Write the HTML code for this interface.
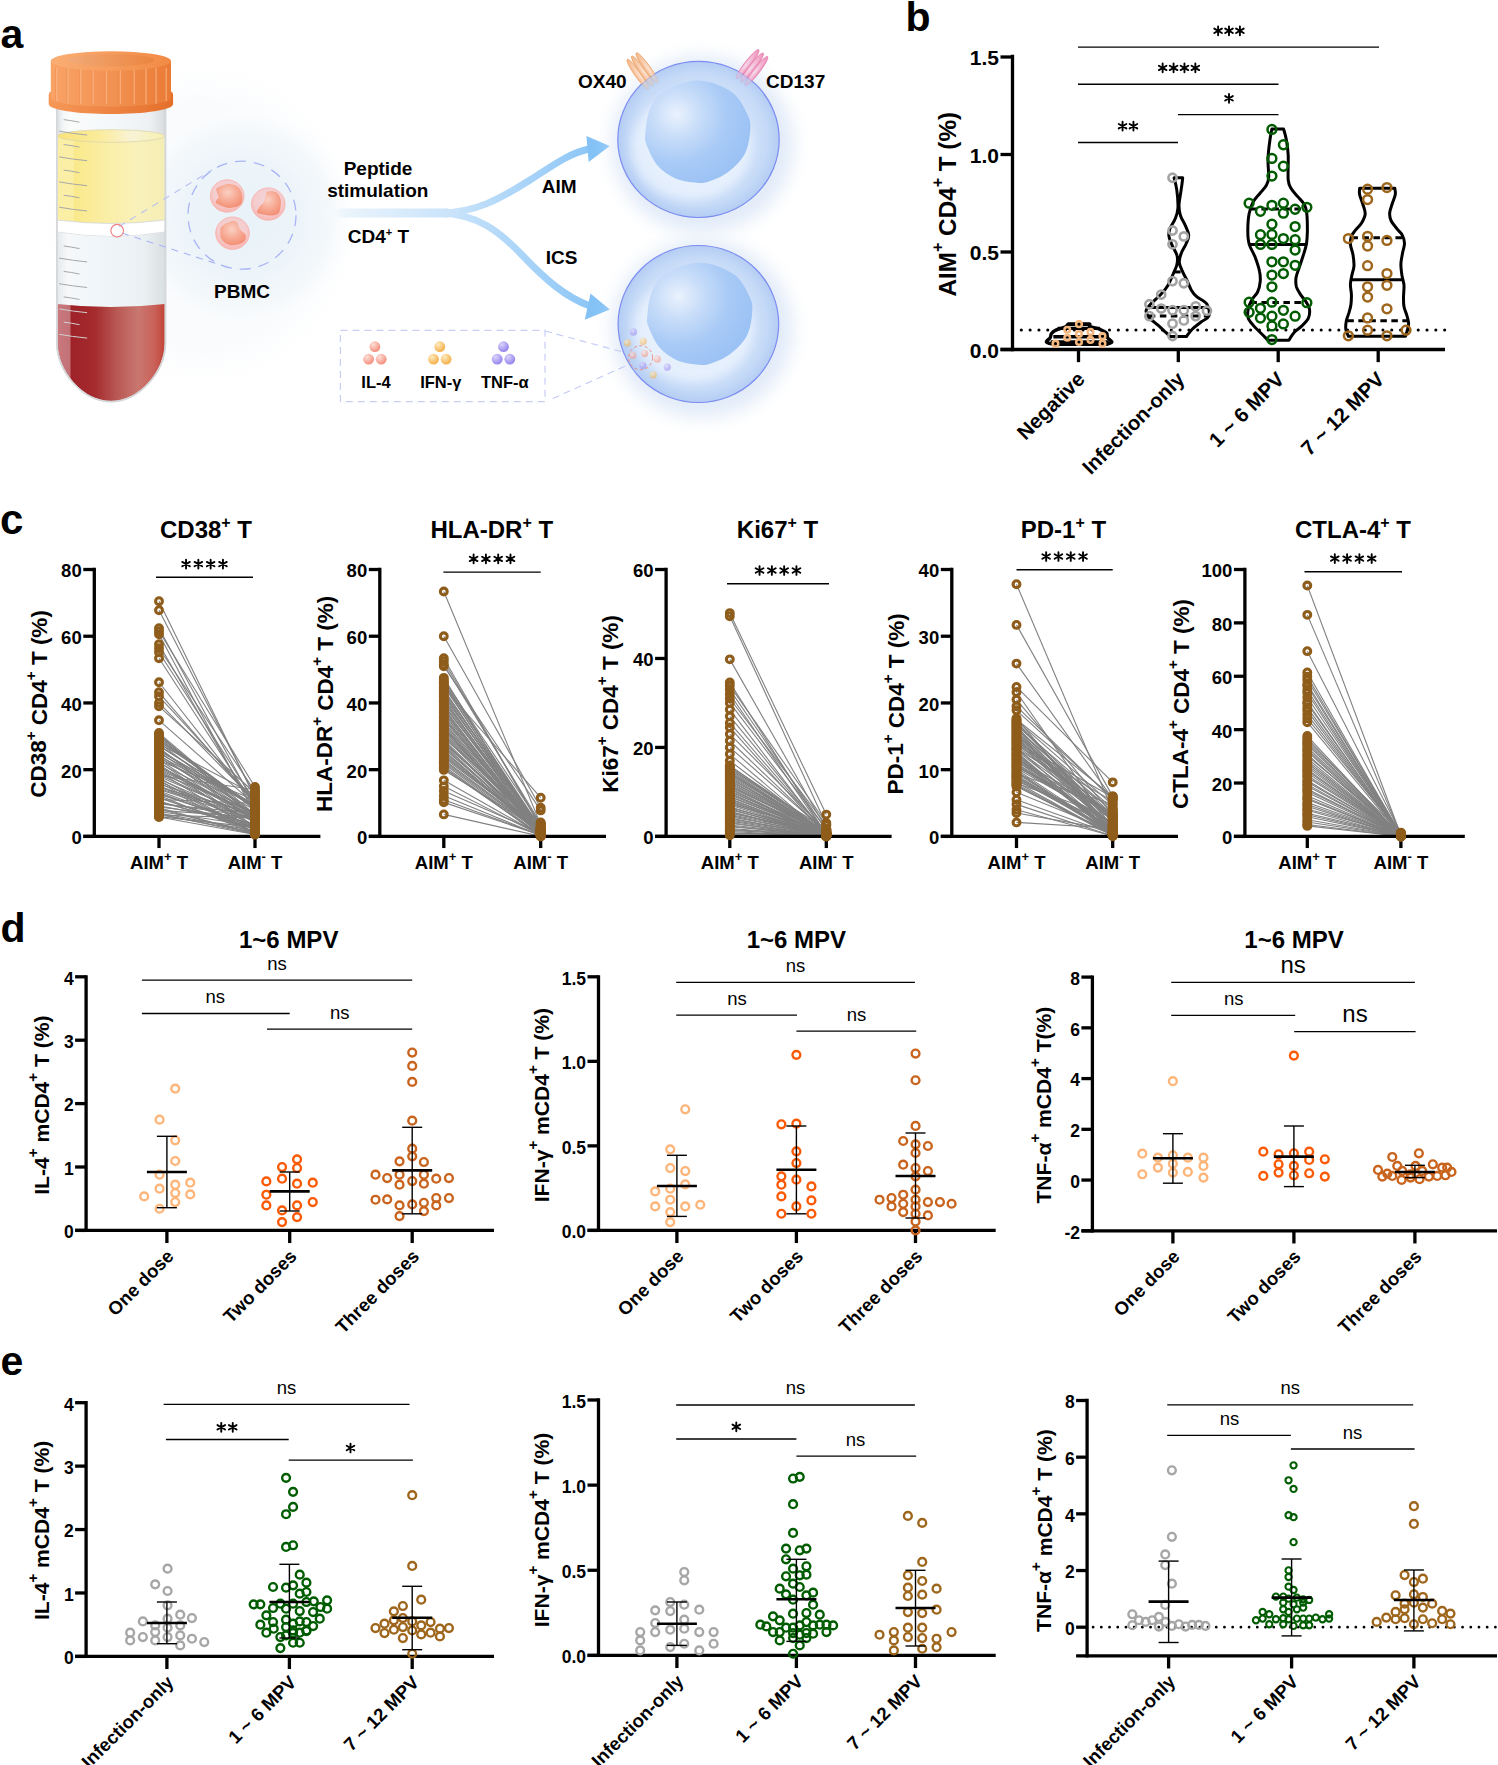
<!DOCTYPE html>
<html><head><meta charset="utf-8"><style>
html,body{margin:0;padding:0;background:#fff;}
svg{display:block;font-family:"Liberation Sans", sans-serif;}
</style></head><body>
<svg width="1498" height="1765" viewBox="0 0 1498 1765">
<rect width="1498" height="1765" fill="#fff"/>
<defs>
<radialGradient id="glowA" cx="0.5" cy="0.5" r="0.5">
 <stop offset="0" stop-color="#E8F2F8"/><stop offset="0.45" stop-color="#ECF4F9"/><stop offset="0.75" stop-color="#F4F8FB"/><stop offset="1" stop-color="#FFFFFF" stop-opacity="0"/>
</radialGradient>
<radialGradient id="glowBig" cx="0.5" cy="0.5" r="0.5">
 <stop offset="0" stop-color="#F1F6FB"/><stop offset="0.7" stop-color="#F6F9FC"/><stop offset="1" stop-color="#FFFFFF" stop-opacity="0"/>
</radialGradient>
<linearGradient id="glass" x1="0" x2="1" y1="0" y2="0">
 <stop offset="0" stop-color="#DADDE0"/><stop offset="0.06" stop-color="#F3F5F6"/><stop offset="0.12" stop-color="#FAFBFB"/><stop offset="0.5" stop-color="#F4F8FA"/><stop offset="0.85" stop-color="#EEF1F3"/><stop offset="0.97" stop-color="#DDE0E3"/><stop offset="1" stop-color="#CFD2D5"/>
</linearGradient>
<linearGradient id="glassMid" x1="0" x2="1" y1="0" y2="0">
 <stop offset="0" stop-color="#E6E9EB"/><stop offset="0.1" stop-color="#F6F8F9"/><stop offset="0.45" stop-color="#EEF5F9"/><stop offset="0.8" stop-color="#EBF0F3"/><stop offset="1" stop-color="#DADFE2"/>
</linearGradient>
<linearGradient id="yellow" x1="0" x2="1" y1="0" y2="0">
 <stop offset="0" stop-color="#FBEFA6"/><stop offset="0.15" stop-color="#FBEFA6"/><stop offset="0.16" stop-color="#FAE98A"/><stop offset="0.45" stop-color="#FAEEA6"/><stop offset="0.75" stop-color="#F9F1BA"/><stop offset="1" stop-color="#F4EDB4"/>
</linearGradient>
<linearGradient id="yellowTop" x1="0" x2="1" y1="0" y2="0">
 <stop offset="0" stop-color="#F9E27A"/><stop offset="0.4" stop-color="#FAEC9C"/><stop offset="0.7" stop-color="#F8F3D6"/><stop offset="1" stop-color="#F6EFB0"/>
</linearGradient>
<linearGradient id="red" x1="0" x2="1" y1="0" y2="0">
 <stop offset="0" stop-color="#C9787C"/><stop offset="0.12" stop-color="#C27277"/><stop offset="0.13" stop-color="#9E2228"/><stop offset="0.35" stop-color="#A52B2E"/><stop offset="0.55" stop-color="#B85753"/><stop offset="0.75" stop-color="#C97770"/><stop offset="0.9" stop-color="#C9625A"/><stop offset="1" stop-color="#C24236"/>
</linearGradient>
<linearGradient id="capBody" x1="0" x2="1" y1="0" y2="0">
 <stop offset="0" stop-color="#F9A367"/><stop offset="0.5" stop-color="#F29253"/><stop offset="1" stop-color="#EA7B35"/>
</linearGradient>
<linearGradient id="capLip" x1="0" x2="1" y1="0" y2="0">
 <stop offset="0" stop-color="#F59857"/><stop offset="0.5" stop-color="#EE8443"/><stop offset="1" stop-color="#E46F2B"/>
</linearGradient>
<linearGradient id="capTop" x1="0" x2="1" y1="0" y2="0">
 <stop offset="0" stop-color="#FBAE74"/><stop offset="1" stop-color="#F18A44"/>
</linearGradient>
<linearGradient id="capIn" x1="0" x2="1" y1="0" y2="0">
 <stop offset="0" stop-color="#F2AA78"/><stop offset="1" stop-color="#EB853F"/>
</linearGradient>
<radialGradient id="pbCell" cx="0.5" cy="0.4" r="0.55">
 <stop offset="0" stop-color="#F2D6DC"/><stop offset="0.75" stop-color="#F5CCCD"/><stop offset="1" stop-color="#F7BAB7"/>
</radialGradient>
<radialGradient id="pbNuc" cx="0.45" cy="0.35" r="0.7">
 <stop offset="0" stop-color="#FAD0C3"/><stop offset="0.5" stop-color="#F7AC96"/><stop offset="1" stop-color="#F38C72"/>
</radialGradient>
<linearGradient id="stem" x1="0" x2="1" y1="0" y2="0">
 <stop offset="0" stop-color="#FFFFFF" stop-opacity="0"/><stop offset="0.25" stop-color="#E9F3FC"/><stop offset="1" stop-color="#C6E1FA"/>
</linearGradient>
<linearGradient id="branch" gradientUnits="userSpaceOnUse" x1="322" x2="610" y1="0" y2="0">
 <stop offset="0" stop-color="#FFFFFF" stop-opacity="0"/><stop offset="0.08" stop-color="#EAF4FC"/><stop offset="0.45" stop-color="#C9E3FA"/><stop offset="1" stop-color="#84C2F6"/>
</linearGradient>
<radialGradient id="cellFill" cx="0.5" cy="0.5" r="0.5">
 <stop offset="0" stop-color="#D8E7FA"/><stop offset="0.72" stop-color="#DCE9FA"/><stop offset="0.8" stop-color="#E5EFFC"/><stop offset="0.9" stop-color="#D3E3F8"/><stop offset="1" stop-color="#BCD3F5"/>
</radialGradient>
<radialGradient id="nucFill" cx="0.35" cy="0.3" r="0.75">
 <stop offset="0" stop-color="#E8F1FC"/><stop offset="0.35" stop-color="#C9DDF8"/><stop offset="0.7" stop-color="#A9CAF4"/><stop offset="1" stop-color="#A2C6F4"/>
</radialGradient>
<radialGradient id="cellGlow" cx="0.5" cy="0.5" r="0.5">
 <stop offset="0.8" stop-color="#C9DCF5"/><stop offset="1" stop-color="#FFFFFF" stop-opacity="0"/>
</radialGradient>
<radialGradient id="ballR" cx="0.35" cy="0.3" r="0.7"><stop offset="0" stop-color="#FDE0D8"/><stop offset="1" stop-color="#F4907E"/></radialGradient>
<radialGradient id="ballY" cx="0.35" cy="0.3" r="0.7"><stop offset="0" stop-color="#FDEBC0"/><stop offset="1" stop-color="#F5B04A"/></radialGradient>
<radialGradient id="ballP" cx="0.35" cy="0.3" r="0.7"><stop offset="0" stop-color="#DCD4FB"/><stop offset="1" stop-color="#9484EE"/></radialGradient>
<filter id="blur6" x="-30%" y="-30%" width="160%" height="160%"><feGaussianBlur stdDeviation="6"/></filter>
<filter id="blur2" x="-30%" y="-30%" width="160%" height="160%"><feGaussianBlur stdDeviation="1.5"/></filter>
</defs><ellipse cx="200" cy="225" rx="170" ry="175" fill="url(#glowBig)" opacity="0.6"/><ellipse cx="242" cy="218" rx="118" ry="118" fill="url(#glowA)"/><path d="M56.5,109 L165.8,109 L165.8,343 C165.8,371 140,402 111,402 C82,402 56.5,371 56.5,343 Z" fill="url(#glass)" stroke="#D3D6D9" stroke-width="1"/><clipPath id="tubeClip"><path d="M57.5,109 L164.8,109 L164.8,343 C164.8,371 139.5,401 111,401 C82.5,401 57.5,371 57.5,343 Z"/></clipPath><g clip-path="url(#tubeClip)"><path d="M57,136 L165,136 L165,220 Q111,227 57,220 Z" fill="url(#yellow)"/><ellipse cx="111" cy="136" rx="53.5" ry="6.3" fill="url(#yellowTop)" stroke="#DCD7B0" stroke-width="0.8"/><path d="M57,220 Q111,227 165,220 L165,232 Q111,241 57,232 Z" fill="#FFFFFF" stroke="#D3D6D8" stroke-width="0.8"/><path d="M57,232 Q111,241 165,232 L165,304 Q111,309 57,304 Z" fill="url(#glassMid)"/><path d="M57,304 Q111,310 165,304 L165,402 L57,402 Z" fill="url(#red)"/></g><path d="M57,110 L57,343 C57,371 82,401.5 111,401.5 C140,401.5 165.3,371 165.3,343 L165.3,110" fill="none" stroke="#D5D8DA" stroke-width="1.6"/><path d="M63.7,119.6 Q71,120.5 79.5,122.2" fill="none" stroke="#A8A8A8" stroke-width="1"/><path d="M59.2,131.2 Q72,133.5 87.1,135.0" fill="none" stroke="#A8A8A8" stroke-width="1"/><path d="M63.7,144.5 Q71,145.4 79.5,147.1" fill="none" stroke="#A8A8A8" stroke-width="1"/><path d="M59.2,156.9 Q72,159.2 87.1,160.7" fill="none" stroke="#A8A8A8" stroke-width="1"/><path d="M63.7,170.1 Q71,171.0 79.5,172.7" fill="none" stroke="#A8A8A8" stroke-width="1"/><path d="M59.2,181.9 Q72,184.2 87.1,185.7" fill="none" stroke="#A8A8A8" stroke-width="1"/><path d="M63.7,195.2 Q71,196.1 79.5,197.8" fill="none" stroke="#A8A8A8" stroke-width="1"/><path d="M59.2,207.2 Q72,209.5 87.1,211.0" fill="none" stroke="#A8A8A8" stroke-width="1"/><path d="M63.7,246.0 Q71,246.9 79.5,248.6" fill="none" stroke="#A8A8A8" stroke-width="1"/><path d="M59.2,258.1 Q72,260.4 87.1,261.9" fill="none" stroke="#A8A8A8" stroke-width="1"/><path d="M63.7,271.4 Q71,272.3 79.5,274.0" fill="none" stroke="#A8A8A8" stroke-width="1"/><path d="M59.2,283.7 Q72,286.0 87.1,287.5" fill="none" stroke="#A8A8A8" stroke-width="1"/><path d="M63.7,296.9 Q71,297.8 79.5,299.5" fill="none" stroke="#A8A8A8" stroke-width="1"/><path d="M59.2,308.9 Q72,311.2 87.1,312.7" fill="none" stroke="#D0D0D0" stroke-width="1"/><path d="M63.7,322.1 Q71,323.0 79.5,324.7" fill="none" stroke="#D0D0D0" stroke-width="1"/><path d="M59.2,334.3 Q72,336.6 87.1,338.1" fill="none" stroke="#D0D0D0" stroke-width="1"/><path d="M48.7,95 Q48.7,92 51,91.5 L171,91.5 Q173.1,92 173.1,95 L173.1,104 C173.1,110 145,114 111,114 C77,114 48.7,110 48.7,104 Z" fill="url(#capLip)"/><path d="M50.8,61 L171,61 L171,98 C171,103 145,106.5 111,106.5 C77,106.5 50.8,103 50.8,98 Z" fill="url(#capBody)"/><line x1="56.7" y1="68" x2="56.7" y2="101" stroke="#FBB483" stroke-width="1.3" opacity="0.85"/><line x1="55.6" y1="68" x2="55.6" y2="101" stroke="#E8823F" stroke-width="0.6" opacity="0.6"/><line x1="67.9" y1="68" x2="67.9" y2="104" stroke="#FBB483" stroke-width="1.3" opacity="0.85"/><line x1="66.8" y1="68" x2="66.8" y2="104" stroke="#E8823F" stroke-width="0.6" opacity="0.6"/><line x1="80.7" y1="68" x2="80.7" y2="104" stroke="#FBB483" stroke-width="1.3" opacity="0.85"/><line x1="79.6" y1="68" x2="79.6" y2="104" stroke="#E8823F" stroke-width="0.6" opacity="0.6"/><line x1="93" y1="68" x2="93" y2="104" stroke="#FBB483" stroke-width="1.3" opacity="0.85"/><line x1="91.9" y1="68" x2="91.9" y2="104" stroke="#E8823F" stroke-width="0.6" opacity="0.6"/><line x1="106.4" y1="68" x2="106.4" y2="104" stroke="#FBB483" stroke-width="1.3" opacity="0.85"/><line x1="105.3" y1="68" x2="105.3" y2="104" stroke="#E8823F" stroke-width="0.6" opacity="0.6"/><line x1="120.3" y1="68" x2="120.3" y2="104" stroke="#FBB483" stroke-width="1.3" opacity="0.85"/><line x1="119.2" y1="68" x2="119.2" y2="104" stroke="#E8823F" stroke-width="0.6" opacity="0.6"/><line x1="134.1" y1="68" x2="134.1" y2="104" stroke="#FBB483" stroke-width="1.3" opacity="0.85"/><line x1="133.0" y1="68" x2="133.0" y2="104" stroke="#E8823F" stroke-width="0.6" opacity="0.6"/><line x1="145.9" y1="68" x2="145.9" y2="104" stroke="#FBB483" stroke-width="1.3" opacity="0.85"/><line x1="144.8" y1="68" x2="144.8" y2="104" stroke="#E8823F" stroke-width="0.6" opacity="0.6"/><line x1="156" y1="68" x2="156" y2="104" stroke="#FBB483" stroke-width="1.3" opacity="0.85"/><line x1="154.9" y1="68" x2="154.9" y2="104" stroke="#E8823F" stroke-width="0.6" opacity="0.6"/><line x1="166.2" y1="68" x2="166.2" y2="101" stroke="#FBB483" stroke-width="1.3" opacity="0.85"/><line x1="165.1" y1="68" x2="165.1" y2="101" stroke="#E8823F" stroke-width="0.6" opacity="0.6"/><ellipse cx="110.9" cy="61" rx="60.1" ry="9.8" fill="url(#capTop)"/><ellipse cx="110.9" cy="60.2" rx="43.5" ry="6.2" fill="url(#capIn)"/><circle cx="242" cy="215.2" r="54" fill="none" stroke="#A9B4F6" stroke-width="1.3" stroke-dasharray="11 8"/><path d="M119,226.5 L212,170" fill="none" stroke="#B4BEF6" stroke-width="1.1" stroke-dasharray="7 6"/><path d="M122,233 L222,265.5" fill="none" stroke="#A9B4F6" stroke-width="1.1" stroke-dasharray="7 6"/><circle cx="117.2" cy="230.7" r="6.3" fill="none" stroke="#EE7D80" stroke-width="1.1"/><g transform="translate(227.2,196)"><ellipse rx="16.8" ry="16.2" fill="url(#pbCell)" stroke="#F6B4B0" stroke-width="0.9"/><path d="M-10.0,-8.0 C-8.0,-9.4 -2.0,-11.9 1.6,-11.9 C5.2,-11.9 9.6,-10.3 11.9,-8.0 C14.2,-5.7 15.0,-1.2 15.2,1.7 C15.3,4.5 15.1,7.4 12.8,9.1 C10.5,10.8 5.5,12.2 1.6,11.9 C-2.3,11.6 -8.5,8.7 -10.5,7.4 C-12.5,6.1 -10.9,5.0 -10.6,4.0 C-10.3,3.0 -8.7,2.8 -8.6,1.5 C-8.5,0.2 -10.0,-1.9 -10.2,-3.5 C-10.4,-5.1 -12.0,-6.6 -10.0,-8.0 Z" fill="url(#pbNuc)"/></g><g transform="translate(268.3,204.1)"><ellipse rx="16.8" ry="16.2" fill="url(#pbCell)" stroke="#F6B4B0" stroke-width="0.9"/><path d="M-0.9,-12.4 C0.8,-13.2 5.4,-13.2 7.6,-12.0 C9.8,-10.8 11.4,-7.8 12.2,-5.3 C13.0,-2.9 12.6,0.2 12.2,2.7 C11.8,5.2 11.6,8.0 9.9,9.5 C8.2,11.0 5.2,11.5 2.0,11.5 C-1.2,11.5 -7.2,10.2 -9.4,9.5 C-11.6,8.8 -11.2,8.3 -11.1,7.2 C-11.0,6.1 -9.9,4.3 -8.8,2.7 C-7.7,1.1 -5.3,-0.7 -4.3,-2.4 C-3.3,-4.1 -3.2,-5.8 -2.6,-7.5 C-2.0,-9.2 -2.6,-11.7 -0.9,-12.4 Z" fill="url(#pbNuc)"/></g><g transform="translate(232.5,233.2)"><ellipse rx="16.8" ry="16.2" fill="url(#pbCell)" stroke="#F6B4B0" stroke-width="0.9"/><path d="M-10.5,-7.1 C-8.5,-8.9 -2.9,-11.6 -0.3,-12.2 C2.3,-12.8 3.6,-11.6 4.8,-10.5 C5.9,-9.4 5.8,-6.8 6.6,-5.4 C7.4,-4.0 8.3,-3.2 9.4,-2.0 C10.5,-0.8 12.7,0.4 13.2,2.0 C13.7,3.6 13.3,6.1 12.2,7.6 C11.1,9.1 9.2,10.3 6.6,11.0 C3.9,11.7 -0.8,12.4 -3.7,11.6 C-6.6,10.8 -9.6,8.1 -11.0,5.9 C-12.4,3.7 -12.3,0.8 -12.2,-1.4 C-12.1,-3.6 -12.5,-5.3 -10.5,-7.1 Z" fill="url(#pbNuc)"/></g><text x="242" y="297.7" font-size="19" font-weight="bold" text-anchor="middle" fill="#000" >PBMC</text><rect x="322" y="208.5" width="126" height="9" fill="url(#branch)"/><path d="M440,213 C475,213 500,199 530,180 C555,164 570,153 589,149" fill="none" stroke="url(#branch)" stroke-width="7" stroke-linecap="butt"/><path d="M440,213 C478,214 500,232 522,255 C545,279 565,297 590,306" fill="none" stroke="url(#branch)" stroke-width="7" stroke-linecap="butt"/><path d="M446,208.5 Q456,210.5 464,207.5 L464,218.5 Q456,215.5 446,217.5 Z" fill="url(#branch)"/><polygon points="586.4,135.9 609.8,146.1 588.7,162" fill="#84C2F6"/><polygon points="590.5,293.6 609.8,309.5 584.8,319.7" fill="#84C2F6"/><text x="378" y="175.4" font-size="19" font-weight="bold" text-anchor="middle" fill="#000" >Peptide</text><text x="377.8" y="197.2" font-size="19" font-weight="bold" text-anchor="middle" fill="#000" >stimulation</text><text x="347.7" y="242.6" font-size="19" font-weight="bold">CD4<tspan dy="-7" font-size="11">+</tspan><tspan dy="7"> T</tspan></text><text x="541.7" y="193.1" font-size="19" font-weight="bold" text-anchor="start" fill="#000" >AIM</text><text x="545.8" y="264.1" font-size="19" font-weight="bold" text-anchor="start" fill="#000" >ICS</text><radialGradient id="cellFill2" cx="0.5" cy="0.5" r="0.5">
 <stop offset="0" stop-color="#D6E6FA"/><stop offset="0.62" stop-color="#D3E3FA"/><stop offset="0.85" stop-color="#C5DAF7"/><stop offset="1" stop-color="#B4CDF4"/>
</radialGradient>
<radialGradient id="nucFill2" cx="0.3" cy="0.33" r="0.8">
 <stop offset="0" stop-color="#EAF2FD"/><stop offset="0.28" stop-color="#C8DDF9"/><stop offset="0.6" stop-color="#A8CAF6"/><stop offset="1" stop-color="#98C0F4"/>
</radialGradient>
<filter id="blur9" x="-40%" y="-40%" width="180%" height="180%"><feGaussianBlur stdDeviation="9"/></filter>
<filter id="blur5" x="-40%" y="-40%" width="180%" height="180%"><feGaussianBlur stdDeviation="5"/></filter><ellipse cx="702.5" cy="144.4" rx="90.7" ry="88.1" fill="#DCE7F7" filter="url(#blur9)" opacity="0.85"/><clipPath id="cc1"><ellipse cx="698.5" cy="139.4" rx="80.7" ry="78.1"/></clipPath><ellipse cx="698.5" cy="139.4" rx="80.7" ry="78.1" fill="url(#cellFill2)"/><g clip-path="url(#cc1)"><ellipse cx="691.5" cy="146.4" rx="60" ry="54" fill="#EEF5FE" filter="url(#blur5)" opacity="0.7"/></g><ellipse cx="698.5" cy="139.4" rx="80.7" ry="78.1" fill="none" stroke="#7C8CF1" stroke-width="1.2"/><path d="M697.5,80.6 C709.0,80.5 723.2,86.3 731.5,91.9 C739.8,97.5 744.4,107.9 747.5,114.4 C750.6,120.9 750.7,124.0 750.2,130.7 C749.7,137.4 748.3,147.5 744.5,154.4 C740.7,161.3 733.5,167.9 727.5,172.4 C721.5,176.9 713.9,179.7 708.8,181.4 C703.7,183.1 702.3,183.2 696.8,182.7 C691.2,182.2 682.0,181.3 675.5,178.4 C669.0,175.5 662.3,171.1 657.5,165.4 C652.7,159.7 648.5,149.8 646.5,144.4 C644.5,139.1 644.9,139.0 645.4,133.3 C645.9,127.6 646.6,117.2 649.5,110.4 C652.4,103.6 654.5,97.4 662.5,92.4 C670.5,87.4 686.0,80.7 697.5,80.6 Z" fill="url(#nucFill2)"/><ellipse cx="702.4" cy="329" rx="90.3" ry="88.5" fill="#DCE7F7" filter="url(#blur9)" opacity="0.85"/><clipPath id="cc2"><ellipse cx="698.4" cy="324" rx="80.3" ry="78.5"/></clipPath><ellipse cx="698.4" cy="324" rx="80.3" ry="78.5" fill="url(#cellFill2)"/><g clip-path="url(#cc2)"><ellipse cx="693.5" cy="328.5" rx="60" ry="54" fill="#EEF5FE" filter="url(#blur5)" opacity="0.7"/></g><ellipse cx="698.4" cy="324" rx="80.3" ry="78.5" fill="none" stroke="#7C8CF1" stroke-width="1.2"/><path d="M699.5,262.7 C711.0,262.6 725.2,268.4 733.5,274.0 C741.8,279.6 746.4,290.0 749.5,296.5 C752.6,303.0 752.7,306.1 752.2,312.8 C751.7,319.5 750.3,329.6 746.5,336.5 C742.7,343.4 735.5,350.0 729.5,354.5 C723.5,359.0 715.9,361.8 710.8,363.5 C705.7,365.2 704.3,365.3 698.8,364.8 C693.2,364.3 684.0,363.4 677.5,360.5 C671.0,357.6 664.3,353.2 659.5,347.5 C654.7,341.8 650.5,331.9 648.5,326.5 C646.5,321.1 646.9,321.1 647.4,315.4 C647.9,309.7 648.6,299.3 651.5,292.5 C654.4,285.7 656.5,279.5 664.5,274.5 C672.5,269.5 688.0,262.8 699.5,262.7 Z" fill="url(#nucFill2)"/><radialGradient id="recO" cx="0.6" cy="0.55" r="0.6"><stop offset="0" stop-color="#FBE3D3"/><stop offset="1" stop-color="#F5B483"/></radialGradient>
<radialGradient id="recP" cx="0.4" cy="0.55" r="0.6"><stop offset="0" stop-color="#F6DDEA"/><stop offset="1" stop-color="#F08DBB"/></radialGradient>
<mask id="outCell1"><rect x="560" y="30" width="260" height="120" fill="#fff"/><ellipse cx="698.5" cy="139.4" rx="80.7" ry="78.1" fill="#000"/></mask>
<clipPath id="inCell1"><ellipse cx="698.5" cy="139.4" rx="80.7" ry="78.1"/></clipPath><g clip-path="url(#inCell1)" opacity="0.35"><g transform="translate(642.4,71) rotate(-35.6)"><ellipse cx="-5.6" cy="0" rx="3.1" ry="18.3" fill="url(#recO)" stroke="#E7A26C" stroke-width="0.7"/><ellipse cx="0" cy="0" rx="3.1" ry="18.3" fill="url(#recO)" stroke="#E7A26C" stroke-width="0.7"/><ellipse cx="5.6" cy="0" rx="3.1" ry="18.3" fill="url(#recO)" stroke="#E7A26C" stroke-width="0.7"/></g></g><g mask="url(#outCell1)"><g transform="translate(642.4,71) rotate(-35.6)"><ellipse cx="-5.6" cy="0" rx="3.1" ry="18.3" fill="url(#recO)" stroke="#E7A26C" stroke-width="0.7"/><ellipse cx="0" cy="0" rx="3.1" ry="18.3" fill="url(#recO)" stroke="#E7A26C" stroke-width="0.7"/><ellipse cx="5.6" cy="0" rx="3.1" ry="18.3" fill="url(#recO)" stroke="#E7A26C" stroke-width="0.7"/></g></g><g clip-path="url(#inCell1)" opacity="0.35"><g transform="translate(752,67.6) rotate(37.9)"><ellipse cx="-5.6" cy="0" rx="3.1" ry="18.3" fill="url(#recP)" stroke="#E27BAA" stroke-width="0.7"/><ellipse cx="0" cy="0" rx="3.1" ry="18.3" fill="url(#recP)" stroke="#E27BAA" stroke-width="0.7"/><ellipse cx="5.6" cy="0" rx="3.1" ry="18.3" fill="url(#recP)" stroke="#E27BAA" stroke-width="0.7"/></g></g><g mask="url(#outCell1)"><g transform="translate(752,67.6) rotate(37.9)"><ellipse cx="-5.6" cy="0" rx="3.1" ry="18.3" fill="url(#recP)" stroke="#E27BAA" stroke-width="0.7"/><ellipse cx="0" cy="0" rx="3.1" ry="18.3" fill="url(#recP)" stroke="#E27BAA" stroke-width="0.7"/><ellipse cx="5.6" cy="0" rx="3.1" ry="18.3" fill="url(#recP)" stroke="#E27BAA" stroke-width="0.7"/></g></g><text x="578.1" y="88.3" font-size="19" font-weight="bold" text-anchor="start" fill="#000" >OX40</text><text x="766.1" y="88.3" font-size="19" font-weight="bold" text-anchor="start" fill="#000" >CD137</text><path d="M545,331 L626.5,353" stroke="#C3CAF5" stroke-width="1.1" stroke-dasharray="7 5" fill="none"/><path d="M552.8,398.5 L626.5,365.5" stroke="#C3CAF5" stroke-width="1.1" stroke-dasharray="7 5" fill="none"/><circle cx="633.4" cy="331.9" r="3.6" fill="url(#ballP)" opacity="0.6"/><circle cx="627.5" cy="342.9" r="3.6" fill="url(#ballY)" opacity="0.6"/><circle cx="643.2" cy="341.3" r="3.6" fill="url(#ballY)" opacity="0.6"/><circle cx="632.8" cy="355.5" r="3.6" fill="url(#ballR)" opacity="0.6"/><circle cx="644.7" cy="353.6" r="3.6" fill="url(#ballR)" opacity="0.6"/><circle cx="657.3" cy="359.2" r="3.6" fill="url(#ballR)" opacity="0.6"/><circle cx="642.8" cy="365.5" r="3.6" fill="url(#ballP)" opacity="0.6"/><circle cx="667.3" cy="367.1" r="3.6" fill="url(#ballP)" opacity="0.6"/><circle cx="653.2" cy="374.9" r="3.6" fill="url(#ballY)" opacity="0.6"/><circle cx="640.6" cy="357.7" r="12" fill="none" stroke="#F08A80" stroke-width="1" stroke-dasharray="3 2.5"/><rect x="340.4" y="330.4" width="204.6" height="71.2" fill="none" stroke="#C8CEF5" stroke-width="1.2" stroke-dasharray="7 5"/><circle cx="374.9" cy="346.7" r="5.4" fill="url(#ballR)"/><circle cx="368.6" cy="359.2" r="5.4" fill="url(#ballR)"/><circle cx="381.2" cy="359.2" r="5.4" fill="url(#ballR)"/><circle cx="439.8" cy="346.7" r="5.4" fill="url(#ballY)"/><circle cx="433.5" cy="359.2" r="5.4" fill="url(#ballY)"/><circle cx="446.1" cy="359.2" r="5.4" fill="url(#ballY)"/><circle cx="503.5" cy="346.7" r="5.4" fill="url(#ballP)"/><circle cx="497.2" cy="359.2" r="5.4" fill="url(#ballP)"/><circle cx="509.8" cy="359.2" r="5.4" fill="url(#ballP)"/><text x="376" y="387.5" font-size="16.5" font-weight="bold" text-anchor="middle" fill="#000" >IL-4</text><text x="440.8" y="387.5" font-size="16.5" font-weight="bold" text-anchor="middle" fill="#000" >IFN-γ</text><text x="504.8" y="387.5" font-size="16.5" font-weight="bold" text-anchor="middle" fill="#000" >TNF-α</text><text x="0.5" y="48" font-size="41" font-weight="bold" text-anchor="start" fill="#000" >a</text><text x="905.5" y="30.5" font-size="41" font-weight="bold" text-anchor="start" fill="#000" >b</text><line x1="1012.5" y1="54.85" x2="1012.5" y2="351.15" stroke="#000" stroke-width="3.3" stroke-linecap="butt"/><line x1="1000.5" y1="349.5" x2="1445" y2="349.5" stroke="#000" stroke-width="3.3" /><line x1="1000.5" y1="57" x2="1012.5" y2="57" stroke="#000" stroke-width="3.3" /><text x="999" y="65" font-size="21" font-weight="bold" text-anchor="end" fill="#000" >1.5</text><line x1="1000.5" y1="154.5" x2="1012.5" y2="154.5" stroke="#000" stroke-width="3.3" /><text x="999" y="162.5" font-size="21" font-weight="bold" text-anchor="end" fill="#000" >1.0</text><line x1="1000.5" y1="252" x2="1012.5" y2="252" stroke="#000" stroke-width="3.3" /><text x="999" y="260" font-size="21" font-weight="bold" text-anchor="end" fill="#000" >0.5</text><line x1="1000.5" y1="349.5" x2="1012.5" y2="349.5" stroke="#000" stroke-width="3.3" /><text x="999" y="357.5" font-size="21" font-weight="bold" text-anchor="end" fill="#000" >0.0</text><line x1="1078.5" y1="349.5" x2="1078.5" y2="362.15" stroke="#000" stroke-width="3.3" /><line x1="1178.3" y1="349.5" x2="1178.3" y2="362.15" stroke="#000" stroke-width="3.3" /><line x1="1278.2" y1="349.5" x2="1278.2" y2="362.15" stroke="#000" stroke-width="3.3" /><line x1="1378.2" y1="349.5" x2="1378.2" y2="362.15" stroke="#000" stroke-width="3.3" /><line x1="1021.3" y1="330" x2="1445" y2="330" stroke="#000" stroke-width="3.1" stroke-linecap="round" stroke-dasharray="0.01 8.81"/><text x="0" y="0" font-size="24.3" font-weight="bold" text-anchor="middle" dominant-baseline="central" transform="translate(947,204.2) rotate(-90)">AIM<tspan dy="-10" font-size="16">+</tspan><tspan dy="10"> CD4<tspan dy="-10" font-size="16">+</tspan><tspan dy="10"> T (%)</tspan></tspan></text><line x1="1078" y1="47.1" x2="1379" y2="47.1" stroke="#000" stroke-width="1.4" /><path d="M1218.10,26.40 L1218.10,35.20 M1214.29,28.60 L1221.91,33.00 M1214.29,33.00 L1221.91,28.60 M1229.00,26.40 L1229.00,35.20 M1225.19,28.60 L1232.81,33.00 M1225.19,33.00 L1232.81,28.60 M1239.90,26.40 L1239.90,35.20 M1236.09,28.60 L1243.71,33.00 M1236.09,33.00 L1243.71,28.60 " stroke="#000" stroke-width="1.9" stroke-linecap="round" fill="none"/><line x1="1078" y1="84.2" x2="1278.5" y2="84.2" stroke="#000" stroke-width="1.4" /><path d="M1162.65,63.50 L1162.65,72.30 M1158.84,65.70 L1166.46,70.10 M1158.84,70.10 L1166.46,65.70 M1173.55,63.50 L1173.55,72.30 M1169.74,65.70 L1177.36,70.10 M1169.74,70.10 L1177.36,65.70 M1184.45,63.50 L1184.45,72.30 M1180.64,65.70 L1188.26,70.10 M1180.64,70.10 L1188.26,65.70 M1195.35,63.50 L1195.35,72.30 M1191.54,65.70 L1199.16,70.10 M1191.54,70.10 L1199.16,65.70 " stroke="#000" stroke-width="1.9" stroke-linecap="round" fill="none"/><line x1="1178" y1="114.6" x2="1278.5" y2="114.6" stroke="#000" stroke-width="1.4" /><path d="M1229.00,93.90 L1229.00,102.70 M1225.19,96.10 L1232.81,100.50 M1225.19,100.50 L1232.81,96.10 " stroke="#000" stroke-width="1.9" stroke-linecap="round" fill="none"/><line x1="1078" y1="142.5" x2="1178" y2="142.5" stroke="#000" stroke-width="1.4" /><path d="M1122.55,121.80 L1122.55,130.60 M1118.74,124.00 L1126.36,128.40 M1118.74,128.40 L1126.36,124.00 M1133.45,121.80 L1133.45,130.60 M1129.64,124.00 L1137.26,128.40 M1129.64,128.40 L1137.26,124.00 " stroke="#000" stroke-width="1.9" stroke-linecap="round" fill="none"/><path d="M1068.0,324.2 C1067.5,324.6 1067.1,326.1 1065.1,327.1 C1063.1,328.1 1058.3,329.0 1056.0,330.0 C1053.8,331.1 1052.5,332.2 1051.5,333.5 C1050.5,334.8 1051.0,336.3 1050.1,337.8 C1049.3,339.2 1045.9,341.0 1046.4,342.0 C1046.9,343.1 1052.2,343.9 1053.4,344.3 L1106.8,344.3 C1107.6,343.9 1111.7,343.1 1111.8,342.0 C1112.0,341.0 1108.4,339.3 1107.6,337.8 C1106.7,336.3 1107.8,334.4 1106.5,333.0 C1105.2,331.5 1102.5,330.3 1099.8,329.2 C1097.1,328.2 1091.8,327.4 1090.2,326.6 C1088.6,325.7 1090.0,324.6 1089.9,324.2 Z" fill="none" stroke="#000" stroke-width="3.4" stroke-linejoin="round"/><line x1="1068.04" y1="324.15" x2="1089.93" y2="324.15" stroke="#000" stroke-width="3.4" /><line x1="1057.62" y1="328.42" x2="1099.81" y2="328.42" stroke="#000" stroke-width="3.4" /><line x1="1053.35" y1="336.7" x2="1106.76" y2="336.7" stroke="#000" stroke-width="3.4" /><line x1="1050.68" y1="342.04" x2="1108.89" y2="342.04" stroke="#000" stroke-width="3.4" /><circle cx="1078.99" cy="324.15" r="2.8" fill="none" stroke="#F5B77D" stroke-width="2.5"/><circle cx="1067.24" cy="329.76" r="2.8" fill="none" stroke="#F5B77D" stroke-width="2.5"/><circle cx="1090.47" cy="331.9" r="2.8" fill="none" stroke="#F5B77D" stroke-width="2.5"/><circle cx="1078.99" cy="334.03" r="2.8" fill="none" stroke="#F5B77D" stroke-width="2.5"/><circle cx="1067.24" cy="337.77" r="2.8" fill="none" stroke="#F5B77D" stroke-width="2.5"/><circle cx="1102.48" cy="336.17" r="2.8" fill="none" stroke="#F5B77D" stroke-width="2.5"/><circle cx="1090.47" cy="339.91" r="2.8" fill="none" stroke="#F5B77D" stroke-width="2.5"/><circle cx="1078.99" cy="342.04" r="2.8" fill="none" stroke="#F5B77D" stroke-width="2.5"/><circle cx="1055.49" cy="343.64" r="2.8" fill="none" stroke="#F5B77D" stroke-width="2.5"/><circle cx="1102.48" cy="343.64" r="2.8" fill="none" stroke="#F5B77D" stroke-width="2.5"/><path d="M1174.1,177.8 C1174.6,179.8 1176.2,185.0 1176.8,190.1 C1177.5,195.3 1178.2,203.7 1177.9,208.4 C1177.6,213.2 1176.6,215.3 1175.2,218.7 C1173.9,222.1 1170.9,225.9 1169.8,228.9 C1168.8,231.9 1168.5,233.6 1169.0,236.4 C1169.4,239.3 1171.2,242.9 1172.5,246.1 C1173.9,249.3 1176.4,252.7 1177.1,255.8 C1177.9,258.9 1177.5,261.9 1176.8,265.0 C1176.1,268.0 1174.5,270.8 1173.1,274.1 C1171.6,277.4 1170.2,281.5 1168.2,284.9 C1166.2,288.2 1164.0,291.0 1161.2,294.0 C1158.4,297.1 1154.0,300.4 1151.5,303.2 C1149.0,305.9 1146.6,308.4 1146.1,310.7 C1145.7,313.0 1146.9,314.7 1148.8,317.2 C1150.8,319.6 1155.2,322.7 1158.0,325.2 C1160.8,327.7 1163.5,330.3 1165.5,332.2 C1167.6,334.1 1169.6,335.8 1170.4,336.5 L1186.5,336.5 C1187.5,335.3 1190.0,331.4 1192.4,329.0 C1194.9,326.6 1198.3,324.2 1201.0,322.0 C1203.8,319.8 1207.9,319.0 1208.9,316.1 C1209.9,313.1 1209.0,307.5 1207.0,304.2 C1204.9,301.0 1199.3,299.0 1196.7,296.7 C1194.1,294.4 1192.9,292.8 1191.4,290.2 C1189.8,287.7 1189.0,284.7 1187.6,281.6 C1186.2,278.6 1184.1,275.2 1182.7,271.9 C1181.4,268.7 1179.5,265.5 1179.3,262.3 C1179.1,259.0 1180.3,255.6 1181.5,252.6 C1182.6,249.5 1184.8,246.8 1186.0,244.0 C1187.2,241.1 1188.8,238.4 1188.7,235.3 C1188.6,232.3 1186.8,228.9 1185.4,225.7 C1184.1,222.4 1181.7,219.4 1180.6,216.0 C1179.5,212.6 1178.9,209.5 1179.0,205.2 C1179.1,200.9 1180.5,194.7 1181.1,190.1 C1181.8,185.6 1182.5,179.8 1182.7,177.8 Z" fill="none" stroke="#000" stroke-width="3.0" stroke-linejoin="round"/><line x1="1174.35" y1="271.95" x2="1180.59" y2="271.95" stroke="#000" stroke-width="3.0" /><line x1="1147.76" y1="307.47" x2="1208.04" y2="307.47" stroke="#000" stroke-width="3.0" /><line x1="1148.84" y1="316.08" x2="1208.04" y2="316.08" stroke="#000" stroke-width="3.0" stroke-dasharray="6.5 4.5"/><circle cx="1172.52" cy="177.76" r="4.1" fill="none" stroke="#A3A3A3" stroke-width="2.6"/><circle cx="1172.52" cy="230.51" r="4.1" fill="none" stroke="#A3A3A3" stroke-width="2.6"/><circle cx="1183.82" cy="236.43" r="4.1" fill="none" stroke="#A3A3A3" stroke-width="2.6"/><circle cx="1172.52" cy="244.28" r="4.1" fill="none" stroke="#A3A3A3" stroke-width="2.6"/><circle cx="1172.52" cy="281.1" r="4.1" fill="none" stroke="#A3A3A3" stroke-width="2.6"/><circle cx="1183.82" cy="283.25" r="4.1" fill="none" stroke="#A3A3A3" stroke-width="2.6"/><circle cx="1161.22" cy="294.55" r="4.1" fill="none" stroke="#A3A3A3" stroke-width="2.6"/><circle cx="1149.38" cy="304.24" r="4.1" fill="none" stroke="#A3A3A3" stroke-width="2.6"/><circle cx="1161.22" cy="308.55" r="4.1" fill="none" stroke="#A3A3A3" stroke-width="2.6"/><circle cx="1172.52" cy="310.16" r="4.1" fill="none" stroke="#A3A3A3" stroke-width="2.6"/><circle cx="1183.82" cy="310.16" r="4.1" fill="none" stroke="#A3A3A3" stroke-width="2.6"/><circle cx="1195.66" cy="306.39" r="4.1" fill="none" stroke="#A3A3A3" stroke-width="2.6"/><circle cx="1206.96" cy="310.7" r="4.1" fill="none" stroke="#A3A3A3" stroke-width="2.6"/><circle cx="1149.38" cy="316.08" r="4.1" fill="none" stroke="#A3A3A3" stroke-width="2.6"/><circle cx="1195.66" cy="316.08" r="4.1" fill="none" stroke="#A3A3A3" stroke-width="2.6"/><circle cx="1183.82" cy="320.39" r="4.1" fill="none" stroke="#A3A3A3" stroke-width="2.6"/><circle cx="1172.52" cy="323.62" r="4.1" fill="none" stroke="#A3A3A3" stroke-width="2.6"/><circle cx="1172.52" cy="336" r="4.1" fill="none" stroke="#A3A3A3" stroke-width="2.6"/><path d="M1271.9,129.1 C1271.6,130.9 1270.6,134.6 1270.0,139.5 C1269.3,144.5 1268.2,152.8 1268.0,159.1 C1267.8,165.4 1268.9,173.0 1268.7,177.3 C1268.4,181.7 1267.9,182.6 1266.4,185.2 C1265.0,187.8 1262.4,190.2 1260.2,193.0 C1258.0,195.8 1254.9,198.6 1253.0,202.1 C1251.2,205.6 1250.0,209.1 1249.1,213.8 C1248.2,218.6 1247.8,225.8 1247.8,230.8 C1247.8,235.8 1247.9,239.5 1249.1,243.8 C1250.3,248.2 1253.2,252.3 1255.0,256.8 C1256.7,261.4 1258.7,267.1 1259.5,271.2 C1260.4,275.3 1260.5,278.1 1260.2,281.6 C1259.9,285.1 1259.0,289.0 1257.6,292.0 C1256.2,295.1 1253.3,297.0 1251.7,299.9 C1250.2,302.7 1248.8,305.9 1248.2,309.0 C1247.6,312.0 1247.3,315.3 1248.2,318.1 C1249.1,320.9 1251.5,323.3 1253.7,325.9 C1255.9,328.5 1259.1,331.3 1261.5,333.7 C1263.9,336.1 1266.9,339.2 1268.0,340.3 L1288.9,340.3 C1289.7,338.9 1291.9,334.8 1294.1,332.4 C1296.2,330.0 1299.5,328.3 1301.9,325.9 C1304.3,323.5 1307.1,320.9 1308.4,318.1 C1309.7,315.3 1309.8,311.6 1309.5,309.0 C1309.1,306.4 1307.9,304.8 1306.5,302.5 C1305.0,300.1 1302.3,297.2 1300.6,294.6 C1298.9,292.0 1297.2,289.6 1296.4,286.8 C1295.7,284.0 1295.6,281.0 1296.0,277.7 C1296.5,274.4 1298.1,271.0 1299.3,267.3 C1300.5,263.6 1302.0,259.5 1303.2,255.5 C1304.4,251.6 1305.8,247.9 1306.5,243.8 C1307.1,239.7 1307.3,235.8 1307.4,230.8 C1307.4,225.8 1307.3,218.2 1306.8,213.8 C1306.4,209.5 1306.0,207.5 1304.5,204.7 C1303.0,201.9 1300.2,199.5 1298.0,196.9 C1295.8,194.3 1293.1,191.9 1291.5,189.1 C1289.8,186.2 1288.8,185.6 1288.2,180.0 C1287.7,174.3 1288.5,161.9 1288.2,155.2 C1287.9,148.5 1287.0,143.9 1286.3,139.5 C1285.5,135.2 1284.1,130.9 1283.6,129.1 Z" fill="none" stroke="#000" stroke-width="3.0" stroke-linejoin="round"/><line x1="1250.41" y1="209.01" x2="1306.06" y2="209.01" stroke="#000" stroke-width="3.0" stroke-dasharray="6.5 4.5"/><line x1="1249.11" y1="244.46" x2="1306.72" y2="244.46" stroke="#000" stroke-width="3.0" /><line x1="1250.41" y1="302.46" x2="1307.11" y2="302.46" stroke="#000" stroke-width="3.0" stroke-dasharray="6.5 4.5"/><circle cx="1271.92" cy="129.38" r="4.4" fill="none" stroke="#005C00" stroke-width="2.5"/><circle cx="1283.39" cy="144.76" r="4.4" fill="none" stroke="#005C00" stroke-width="2.5"/><circle cx="1271.92" cy="158.45" r="4.4" fill="none" stroke="#005C00" stroke-width="2.5"/><circle cx="1283.39" cy="166.27" r="4.4" fill="none" stroke="#005C00" stroke-width="2.5"/><circle cx="1271.92" cy="176.04" r="4.4" fill="none" stroke="#005C00" stroke-width="2.5"/><circle cx="1249.11" cy="203.15" r="4.4" fill="none" stroke="#005C00" stroke-width="2.5"/><circle cx="1260.45" cy="211.23" r="4.4" fill="none" stroke="#005C00" stroke-width="2.5"/><circle cx="1271.92" cy="205.36" r="4.4" fill="none" stroke="#005C00" stroke-width="2.5"/><circle cx="1283.39" cy="203.15" r="4.4" fill="none" stroke="#005C00" stroke-width="2.5"/><circle cx="1283.39" cy="213.18" r="4.4" fill="none" stroke="#005C00" stroke-width="2.5"/><circle cx="1295.12" cy="209.27" r="4.4" fill="none" stroke="#005C00" stroke-width="2.5"/><circle cx="1306.85" cy="207.32" r="4.4" fill="none" stroke="#005C00" stroke-width="2.5"/><circle cx="1271.92" cy="224.26" r="4.4" fill="none" stroke="#005C00" stroke-width="2.5"/><circle cx="1295.12" cy="226.61" r="4.4" fill="none" stroke="#005C00" stroke-width="2.5"/><circle cx="1260.45" cy="234.69" r="4.4" fill="none" stroke="#005C00" stroke-width="2.5"/><circle cx="1271.92" cy="234.43" r="4.4" fill="none" stroke="#005C00" stroke-width="2.5"/><circle cx="1283.39" cy="238.6" r="4.4" fill="none" stroke="#005C00" stroke-width="2.5"/><circle cx="1295.12" cy="239.64" r="4.4" fill="none" stroke="#005C00" stroke-width="2.5"/><circle cx="1260.45" cy="244.46" r="4.4" fill="none" stroke="#005C00" stroke-width="2.5"/><circle cx="1271.92" cy="244.46" r="4.4" fill="none" stroke="#005C00" stroke-width="2.5"/><circle cx="1295.12" cy="250.07" r="4.4" fill="none" stroke="#005C00" stroke-width="2.5"/><circle cx="1271.92" cy="261.8" r="4.4" fill="none" stroke="#005C00" stroke-width="2.5"/><circle cx="1283.39" cy="261.8" r="4.4" fill="none" stroke="#005C00" stroke-width="2.5"/><circle cx="1295.12" cy="265.31" r="4.4" fill="none" stroke="#005C00" stroke-width="2.5"/><circle cx="1271.92" cy="275.09" r="4.4" fill="none" stroke="#005C00" stroke-width="2.5"/><circle cx="1283.39" cy="273.53" r="4.4" fill="none" stroke="#005C00" stroke-width="2.5"/><circle cx="1271.92" cy="286.82" r="4.4" fill="none" stroke="#005C00" stroke-width="2.5"/><circle cx="1249.11" cy="302.2" r="4.4" fill="none" stroke="#005C00" stroke-width="2.5"/><circle cx="1271.92" cy="302.2" r="4.4" fill="none" stroke="#005C00" stroke-width="2.5"/><circle cx="1306.85" cy="302.72" r="4.4" fill="none" stroke="#005C00" stroke-width="2.5"/><circle cx="1260.45" cy="308.32" r="4.4" fill="none" stroke="#005C00" stroke-width="2.5"/><circle cx="1249.11" cy="312.23" r="4.4" fill="none" stroke="#005C00" stroke-width="2.5"/><circle cx="1283.39" cy="310.28" r="4.4" fill="none" stroke="#005C00" stroke-width="2.5"/><circle cx="1260.45" cy="318.1" r="4.4" fill="none" stroke="#005C00" stroke-width="2.5"/><circle cx="1271.92" cy="316.14" r="4.4" fill="none" stroke="#005C00" stroke-width="2.5"/><circle cx="1295.12" cy="316.14" r="4.4" fill="none" stroke="#005C00" stroke-width="2.5"/><circle cx="1271.92" cy="325.92" r="4.4" fill="none" stroke="#005C00" stroke-width="2.5"/><circle cx="1283.39" cy="323.96" r="4.4" fill="none" stroke="#005C00" stroke-width="2.5"/><circle cx="1271.92" cy="339.6" r="4.4" fill="none" stroke="#005C00" stroke-width="2.5"/><path d="M1359.6,188.2 C1359.6,189.2 1359.1,191.9 1359.6,194.5 C1360.1,197.1 1361.7,200.4 1362.7,203.7 C1363.6,206.9 1365.4,210.6 1365.2,213.9 C1365.0,217.1 1363.2,220.3 1361.6,223.1 C1360.0,225.8 1357.2,228.0 1355.5,230.2 C1353.8,232.4 1352.3,233.9 1351.4,236.3 C1350.6,238.7 1350.2,241.4 1350.4,244.5 C1350.7,247.6 1352.4,251.1 1353.0,254.7 C1353.6,258.3 1354.1,262.5 1354.0,265.9 C1353.8,269.3 1352.5,272.0 1351.9,275.1 C1351.3,278.2 1350.5,281.1 1350.4,284.3 C1350.3,287.5 1351.3,291.1 1351.4,294.5 C1351.5,297.9 1351.3,301.6 1350.9,304.7 C1350.5,307.8 1349.6,310.1 1348.9,312.9 C1348.1,315.6 1346.8,318.3 1346.3,321.0 C1345.8,323.7 1345.5,326.6 1345.8,329.2 C1346.2,331.7 1347.9,335.1 1348.4,336.3 L1405.5,336.3 C1405.9,335.1 1407.0,331.4 1407.6,329.2 C1408.1,327.0 1408.7,325.3 1408.6,323.1 C1408.5,320.9 1407.8,318.6 1407.0,315.9 C1406.3,313.2 1404.6,309.8 1404.0,306.7 C1403.4,303.7 1403.5,301.1 1403.5,297.6 C1403.5,294.0 1404.2,289.0 1404.0,285.3 C1403.7,281.6 1402.4,278.7 1401.9,275.1 C1401.4,271.5 1400.8,267.4 1400.9,263.9 C1401.0,260.3 1401.9,257.1 1402.4,253.7 C1403.0,250.3 1404.5,246.5 1404.5,243.5 C1404.5,240.4 1403.6,237.7 1402.4,235.3 C1401.3,232.9 1399.2,231.6 1397.3,229.2 C1395.5,226.8 1392.5,223.7 1391.2,221.0 C1389.9,218.3 1389.5,215.7 1389.7,212.9 C1389.9,210.0 1391.3,206.7 1392.2,203.7 C1393.2,200.6 1394.9,197.1 1395.3,194.5 C1395.7,191.9 1394.9,189.2 1394.8,188.2 Z" fill="none" stroke="#000" stroke-width="3.0" stroke-linejoin="round"/><line x1="1351.43" y1="237.86" x2="1402.45" y2="237.86" stroke="#000" stroke-width="3.0" stroke-dasharray="6.5 4.5"/><line x1="1351.43" y1="279.69" x2="1402.45" y2="279.69" stroke="#000" stroke-width="3.0" /><line x1="1347.35" y1="320.82" x2="1408.06" y2="320.82" stroke="#000" stroke-width="3.0" stroke-dasharray="6.5 4.5"/><circle cx="1367.55" cy="189.18" r="4.4" fill="none" stroke="#9E661C" stroke-width="2.5"/><circle cx="1386.94" cy="187.55" r="4.4" fill="none" stroke="#9E661C" stroke-width="2.5"/><circle cx="1367.55" cy="199.59" r="4.4" fill="none" stroke="#9E661C" stroke-width="2.5"/><circle cx="1348.37" cy="238.57" r="4.4" fill="none" stroke="#9E661C" stroke-width="2.5"/><circle cx="1367.55" cy="236.33" r="4.4" fill="none" stroke="#9E661C" stroke-width="2.5"/><circle cx="1367.55" cy="246.02" r="4.4" fill="none" stroke="#9E661C" stroke-width="2.5"/><circle cx="1386.94" cy="240.41" r="4.4" fill="none" stroke="#9E661C" stroke-width="2.5"/><circle cx="1367.55" cy="265.71" r="4.4" fill="none" stroke="#9E661C" stroke-width="2.5"/><circle cx="1386.94" cy="273.57" r="4.4" fill="none" stroke="#9E661C" stroke-width="2.5"/><circle cx="1367.55" cy="286.84" r="4.4" fill="none" stroke="#9E661C" stroke-width="2.5"/><circle cx="1386.94" cy="285.31" r="4.4" fill="none" stroke="#9E661C" stroke-width="2.5"/><circle cx="1367.55" cy="297.04" r="4.4" fill="none" stroke="#9E661C" stroke-width="2.5"/><circle cx="1386.94" cy="308.78" r="4.4" fill="none" stroke="#9E661C" stroke-width="2.5"/><circle cx="1367.55" cy="317.96" r="4.4" fill="none" stroke="#9E661C" stroke-width="2.5"/><circle cx="1367.55" cy="330.2" r="4.4" fill="none" stroke="#9E661C" stroke-width="2.5"/><circle cx="1406.02" cy="330.2" r="4.4" fill="none" stroke="#9E661C" stroke-width="2.5"/><circle cx="1348.37" cy="335.82" r="4.4" fill="none" stroke="#9E661C" stroke-width="2.5"/><circle cx="1386.94" cy="335.82" r="4.4" fill="none" stroke="#9E661C" stroke-width="2.5"/><text x="0" y="0" font-size="20.5" font-weight="bold" text-anchor="end" transform="translate(1086,380.5) rotate(-45)">Negative</text><text x="0" y="0" font-size="20.5" font-weight="bold" text-anchor="end" transform="translate(1185.8,380.5) rotate(-45)">Infection-only</text><text x="0" y="0" font-size="20.5" font-weight="bold" text-anchor="end" transform="translate(1285.7,380.5) rotate(-45)">1 ~ 6 MPV</text><text x="0" y="0" font-size="20.5" font-weight="bold" text-anchor="end" transform="translate(1385.7,380.5) rotate(-45)">7 ~ 12 MPV</text><text x="0" y="534.2" font-size="42" font-weight="bold" text-anchor="start" fill="#000" >c</text><line x1="159" y1="817.05" x2="255" y2="834.53" stroke="#808080" stroke-width="1.1" /><line x1="159" y1="816.64" x2="255" y2="827.41" stroke="#808080" stroke-width="1.1" /><line x1="159" y1="814.93" x2="255" y2="818.14" stroke="#808080" stroke-width="1.1" /><line x1="159" y1="814.71" x2="255" y2="832.3" stroke="#808080" stroke-width="1.1" /><line x1="159" y1="813.78" x2="255" y2="834.22" stroke="#808080" stroke-width="1.1" /><line x1="159" y1="812.93" x2="255" y2="830.9" stroke="#808080" stroke-width="1.1" /><line x1="159" y1="811.55" x2="255" y2="825.99" stroke="#808080" stroke-width="1.1" /><line x1="159" y1="810.37" x2="255" y2="817.14" stroke="#808080" stroke-width="1.1" /><line x1="159" y1="809.02" x2="255" y2="833.9" stroke="#808080" stroke-width="1.1" /><line x1="159" y1="807.71" x2="255" y2="834.15" stroke="#808080" stroke-width="1.1" /><line x1="159" y1="807" x2="255" y2="818.8" stroke="#808080" stroke-width="1.1" /><line x1="159" y1="805.84" x2="255" y2="823.45" stroke="#808080" stroke-width="1.1" /><line x1="159" y1="804.05" x2="255" y2="813.28" stroke="#808080" stroke-width="1.1" /><line x1="159" y1="803.13" x2="255" y2="817.05" stroke="#808080" stroke-width="1.1" /><line x1="159" y1="801.69" x2="255" y2="827.73" stroke="#808080" stroke-width="1.1" /><line x1="159" y1="801.02" x2="255" y2="829.14" stroke="#808080" stroke-width="1.1" /><line x1="159" y1="799.5" x2="255" y2="803.21" stroke="#808080" stroke-width="1.1" /><line x1="159" y1="798.09" x2="255" y2="828.76" stroke="#808080" stroke-width="1.1" /><line x1="159" y1="797.24" x2="255" y2="831.82" stroke="#808080" stroke-width="1.1" /><line x1="159" y1="795.51" x2="255" y2="833.7" stroke="#808080" stroke-width="1.1" /><line x1="159" y1="794.34" x2="255" y2="825.79" stroke="#808080" stroke-width="1.1" /><line x1="159" y1="793.75" x2="255" y2="825.17" stroke="#808080" stroke-width="1.1" /><line x1="159" y1="792.55" x2="255" y2="828.14" stroke="#808080" stroke-width="1.1" /><line x1="159" y1="790.97" x2="255" y2="826.6" stroke="#808080" stroke-width="1.1" /><line x1="159" y1="789.48" x2="255" y2="819.99" stroke="#808080" stroke-width="1.1" /><line x1="159" y1="788.67" x2="255" y2="816.56" stroke="#808080" stroke-width="1.1" /><line x1="159" y1="787.57" x2="255" y2="813.52" stroke="#808080" stroke-width="1.1" /><line x1="159" y1="786.22" x2="255" y2="819.81" stroke="#808080" stroke-width="1.1" /><line x1="159" y1="785.29" x2="255" y2="833.75" stroke="#808080" stroke-width="1.1" /><line x1="159" y1="783.94" x2="255" y2="815.54" stroke="#808080" stroke-width="1.1" /><line x1="159" y1="782.58" x2="255" y2="833.21" stroke="#808080" stroke-width="1.1" /><line x1="159" y1="781.33" x2="255" y2="825.3" stroke="#808080" stroke-width="1.1" /><line x1="159" y1="780.31" x2="255" y2="832.77" stroke="#808080" stroke-width="1.1" /><line x1="159" y1="779.1" x2="255" y2="820.94" stroke="#808080" stroke-width="1.1" /><line x1="159" y1="777.9" x2="255" y2="828.84" stroke="#808080" stroke-width="1.1" /><line x1="159" y1="776.52" x2="255" y2="817.58" stroke="#808080" stroke-width="1.1" /><line x1="159" y1="775.43" x2="255" y2="789.69" stroke="#808080" stroke-width="1.1" /><line x1="159" y1="774.42" x2="255" y2="818.65" stroke="#808080" stroke-width="1.1" /><line x1="159" y1="772.62" x2="255" y2="812.84" stroke="#808080" stroke-width="1.1" /><line x1="159" y1="771.62" x2="255" y2="830.92" stroke="#808080" stroke-width="1.1" /><line x1="159" y1="770.35" x2="255" y2="822.67" stroke="#808080" stroke-width="1.1" /><line x1="159" y1="769.46" x2="255" y2="813.95" stroke="#808080" stroke-width="1.1" /><line x1="159" y1="767.68" x2="255" y2="817.74" stroke="#808080" stroke-width="1.1" /><line x1="159" y1="766.56" x2="255" y2="815.07" stroke="#808080" stroke-width="1.1" /><line x1="159" y1="765.88" x2="255" y2="816.86" stroke="#808080" stroke-width="1.1" /><line x1="159" y1="764.52" x2="255" y2="828.52" stroke="#808080" stroke-width="1.1" /><line x1="159" y1="763.04" x2="255" y2="812.89" stroke="#808080" stroke-width="1.1" /><line x1="159" y1="761.84" x2="255" y2="826.69" stroke="#808080" stroke-width="1.1" /><line x1="159" y1="760.47" x2="255" y2="800.29" stroke="#808080" stroke-width="1.1" /><line x1="159" y1="759.63" x2="255" y2="822.61" stroke="#808080" stroke-width="1.1" /><line x1="159" y1="758.12" x2="255" y2="810.09" stroke="#808080" stroke-width="1.1" /><line x1="159" y1="757.03" x2="255" y2="815.83" stroke="#808080" stroke-width="1.1" /><line x1="159" y1="756.08" x2="255" y2="806.13" stroke="#808080" stroke-width="1.1" /><line x1="159" y1="754.67" x2="255" y2="821.19" stroke="#808080" stroke-width="1.1" /><line x1="159" y1="753.25" x2="255" y2="805.99" stroke="#808080" stroke-width="1.1" /><line x1="159" y1="752.07" x2="255" y2="815.87" stroke="#808080" stroke-width="1.1" /><line x1="159" y1="751.1" x2="255" y2="804.57" stroke="#808080" stroke-width="1.1" /><line x1="159" y1="749.84" x2="255" y2="807.28" stroke="#808080" stroke-width="1.1" /><line x1="159" y1="749.02" x2="255" y2="814.26" stroke="#808080" stroke-width="1.1" /><line x1="159" y1="747.67" x2="255" y2="822.23" stroke="#808080" stroke-width="1.1" /><line x1="159" y1="746.06" x2="255" y2="806.11" stroke="#808080" stroke-width="1.1" /><line x1="159" y1="745.13" x2="255" y2="807.74" stroke="#808080" stroke-width="1.1" /><line x1="159" y1="744.09" x2="255" y2="794.7" stroke="#808080" stroke-width="1.1" /><line x1="159" y1="742.61" x2="255" y2="816.26" stroke="#808080" stroke-width="1.1" /><line x1="159" y1="741.29" x2="255" y2="806.76" stroke="#808080" stroke-width="1.1" /><line x1="159" y1="740.1" x2="255" y2="806.81" stroke="#808080" stroke-width="1.1" /><line x1="159" y1="739.11" x2="255" y2="808.26" stroke="#808080" stroke-width="1.1" /><line x1="159" y1="737.86" x2="255" y2="809.8" stroke="#808080" stroke-width="1.1" /><line x1="159" y1="736.6" x2="255" y2="808.79" stroke="#808080" stroke-width="1.1" /><line x1="159" y1="735.19" x2="255" y2="816.73" stroke="#808080" stroke-width="1.1" /><line x1="159" y1="734.17" x2="255" y2="818.68" stroke="#808080" stroke-width="1.1" /><line x1="159" y1="733.05" x2="255" y2="814.76" stroke="#808080" stroke-width="1.1" /><line x1="159" y1="720.3" x2="255" y2="804.6" stroke="#808080" stroke-width="1.1" /><line x1="159" y1="706.29" x2="255" y2="793.03" stroke="#808080" stroke-width="1.1" /><line x1="159" y1="702.95" x2="255" y2="801.2" stroke="#808080" stroke-width="1.1" /><line x1="159" y1="696.28" x2="255" y2="800.33" stroke="#808080" stroke-width="1.1" /><line x1="159" y1="692.27" x2="255" y2="803.69" stroke="#808080" stroke-width="1.1" /><line x1="159" y1="682.27" x2="255" y2="804.25" stroke="#808080" stroke-width="1.1" /><line x1="159" y1="658.24" x2="255" y2="806.39" stroke="#808080" stroke-width="1.1" /><line x1="159" y1="652.24" x2="255" y2="801.37" stroke="#808080" stroke-width="1.1" /><line x1="159" y1="648.24" x2="255" y2="791.36" stroke="#808080" stroke-width="1.1" /><line x1="159" y1="644.23" x2="255" y2="811.15" stroke="#808080" stroke-width="1.1" /><line x1="159" y1="634.22" x2="255" y2="814.49" stroke="#808080" stroke-width="1.1" /><line x1="159" y1="631.22" x2="255" y2="787.02" stroke="#808080" stroke-width="1.1" /><line x1="159" y1="628.22" x2="255" y2="805.25" stroke="#808080" stroke-width="1.1" /><line x1="159" y1="610.2" x2="255" y2="796.37" stroke="#808080" stroke-width="1.1" /><line x1="159" y1="601.19" x2="255" y2="798.03" stroke="#808080" stroke-width="1.1" /><line x1="94.3" y1="567.85" x2="94.3" y2="838.05" stroke="#000" stroke-width="3.3" stroke-linecap="butt"/><line x1="83.3" y1="836.4" x2="320.4" y2="836.4" stroke="#000" stroke-width="3.3" /><line x1="83.3" y1="836.4" x2="94.3" y2="836.4" stroke="#000" stroke-width="3.3" /><text x="81.7" y="844.3" font-size="18.5" font-weight="bold" text-anchor="end" fill="#000" >0</text><line x1="83.3" y1="769.67" x2="94.3" y2="769.67" stroke="#000" stroke-width="3.3" /><text x="81.7" y="777.57" font-size="18.5" font-weight="bold" text-anchor="end" fill="#000" >20</text><line x1="83.3" y1="702.95" x2="94.3" y2="702.95" stroke="#000" stroke-width="3.3" /><text x="81.7" y="710.85" font-size="18.5" font-weight="bold" text-anchor="end" fill="#000" >40</text><line x1="83.3" y1="636.23" x2="94.3" y2="636.23" stroke="#000" stroke-width="3.3" /><text x="81.7" y="644.12" font-size="18.5" font-weight="bold" text-anchor="end" fill="#000" >60</text><line x1="83.3" y1="569.5" x2="94.3" y2="569.5" stroke="#000" stroke-width="3.3" /><text x="81.7" y="577.4" font-size="18.5" font-weight="bold" text-anchor="end" fill="#000" >80</text><line x1="159" y1="836.4" x2="159" y2="848.05" stroke="#000" stroke-width="3.3" /><line x1="255" y1="836.4" x2="255" y2="848.05" stroke="#000" stroke-width="3.3" /><circle cx="159" cy="817.05" r="3.4" fill="none" stroke="#8F5D1B" stroke-width="3.1"/><circle cx="159" cy="816.64" r="3.4" fill="none" stroke="#8F5D1B" stroke-width="3.1"/><circle cx="159" cy="814.93" r="3.4" fill="none" stroke="#8F5D1B" stroke-width="3.1"/><circle cx="159" cy="814.71" r="3.4" fill="none" stroke="#8F5D1B" stroke-width="3.1"/><circle cx="159" cy="813.78" r="3.4" fill="none" stroke="#8F5D1B" stroke-width="3.1"/><circle cx="159" cy="812.93" r="3.4" fill="none" stroke="#8F5D1B" stroke-width="3.1"/><circle cx="159" cy="811.55" r="3.4" fill="none" stroke="#8F5D1B" stroke-width="3.1"/><circle cx="159" cy="810.37" r="3.4" fill="none" stroke="#8F5D1B" stroke-width="3.1"/><circle cx="159" cy="809.02" r="3.4" fill="none" stroke="#8F5D1B" stroke-width="3.1"/><circle cx="159" cy="807.71" r="3.4" fill="none" stroke="#8F5D1B" stroke-width="3.1"/><circle cx="159" cy="807" r="3.4" fill="none" stroke="#8F5D1B" stroke-width="3.1"/><circle cx="159" cy="805.84" r="3.4" fill="none" stroke="#8F5D1B" stroke-width="3.1"/><circle cx="159" cy="804.05" r="3.4" fill="none" stroke="#8F5D1B" stroke-width="3.1"/><circle cx="159" cy="803.13" r="3.4" fill="none" stroke="#8F5D1B" stroke-width="3.1"/><circle cx="159" cy="801.69" r="3.4" fill="none" stroke="#8F5D1B" stroke-width="3.1"/><circle cx="159" cy="801.02" r="3.4" fill="none" stroke="#8F5D1B" stroke-width="3.1"/><circle cx="159" cy="799.5" r="3.4" fill="none" stroke="#8F5D1B" stroke-width="3.1"/><circle cx="159" cy="798.09" r="3.4" fill="none" stroke="#8F5D1B" stroke-width="3.1"/><circle cx="159" cy="797.24" r="3.4" fill="none" stroke="#8F5D1B" stroke-width="3.1"/><circle cx="159" cy="795.51" r="3.4" fill="none" stroke="#8F5D1B" stroke-width="3.1"/><circle cx="159" cy="794.34" r="3.4" fill="none" stroke="#8F5D1B" stroke-width="3.1"/><circle cx="159" cy="793.75" r="3.4" fill="none" stroke="#8F5D1B" stroke-width="3.1"/><circle cx="159" cy="792.55" r="3.4" fill="none" stroke="#8F5D1B" stroke-width="3.1"/><circle cx="159" cy="790.97" r="3.4" fill="none" stroke="#8F5D1B" stroke-width="3.1"/><circle cx="159" cy="789.48" r="3.4" fill="none" stroke="#8F5D1B" stroke-width="3.1"/><circle cx="159" cy="788.67" r="3.4" fill="none" stroke="#8F5D1B" stroke-width="3.1"/><circle cx="159" cy="787.57" r="3.4" fill="none" stroke="#8F5D1B" stroke-width="3.1"/><circle cx="159" cy="786.22" r="3.4" fill="none" stroke="#8F5D1B" stroke-width="3.1"/><circle cx="159" cy="785.29" r="3.4" fill="none" stroke="#8F5D1B" stroke-width="3.1"/><circle cx="159" cy="783.94" r="3.4" fill="none" stroke="#8F5D1B" stroke-width="3.1"/><circle cx="159" cy="782.58" r="3.4" fill="none" stroke="#8F5D1B" stroke-width="3.1"/><circle cx="159" cy="781.33" r="3.4" fill="none" stroke="#8F5D1B" stroke-width="3.1"/><circle cx="159" cy="780.31" r="3.4" fill="none" stroke="#8F5D1B" stroke-width="3.1"/><circle cx="159" cy="779.1" r="3.4" fill="none" stroke="#8F5D1B" stroke-width="3.1"/><circle cx="159" cy="777.9" r="3.4" fill="none" stroke="#8F5D1B" stroke-width="3.1"/><circle cx="159" cy="776.52" r="3.4" fill="none" stroke="#8F5D1B" stroke-width="3.1"/><circle cx="159" cy="775.43" r="3.4" fill="none" stroke="#8F5D1B" stroke-width="3.1"/><circle cx="159" cy="774.42" r="3.4" fill="none" stroke="#8F5D1B" stroke-width="3.1"/><circle cx="159" cy="772.62" r="3.4" fill="none" stroke="#8F5D1B" stroke-width="3.1"/><circle cx="159" cy="771.62" r="3.4" fill="none" stroke="#8F5D1B" stroke-width="3.1"/><circle cx="159" cy="770.35" r="3.4" fill="none" stroke="#8F5D1B" stroke-width="3.1"/><circle cx="159" cy="769.46" r="3.4" fill="none" stroke="#8F5D1B" stroke-width="3.1"/><circle cx="159" cy="767.68" r="3.4" fill="none" stroke="#8F5D1B" stroke-width="3.1"/><circle cx="159" cy="766.56" r="3.4" fill="none" stroke="#8F5D1B" stroke-width="3.1"/><circle cx="159" cy="765.88" r="3.4" fill="none" stroke="#8F5D1B" stroke-width="3.1"/><circle cx="159" cy="764.52" r="3.4" fill="none" stroke="#8F5D1B" stroke-width="3.1"/><circle cx="159" cy="763.04" r="3.4" fill="none" stroke="#8F5D1B" stroke-width="3.1"/><circle cx="159" cy="761.84" r="3.4" fill="none" stroke="#8F5D1B" stroke-width="3.1"/><circle cx="159" cy="760.47" r="3.4" fill="none" stroke="#8F5D1B" stroke-width="3.1"/><circle cx="159" cy="759.63" r="3.4" fill="none" stroke="#8F5D1B" stroke-width="3.1"/><circle cx="159" cy="758.12" r="3.4" fill="none" stroke="#8F5D1B" stroke-width="3.1"/><circle cx="159" cy="757.03" r="3.4" fill="none" stroke="#8F5D1B" stroke-width="3.1"/><circle cx="159" cy="756.08" r="3.4" fill="none" stroke="#8F5D1B" stroke-width="3.1"/><circle cx="159" cy="754.67" r="3.4" fill="none" stroke="#8F5D1B" stroke-width="3.1"/><circle cx="159" cy="753.25" r="3.4" fill="none" stroke="#8F5D1B" stroke-width="3.1"/><circle cx="159" cy="752.07" r="3.4" fill="none" stroke="#8F5D1B" stroke-width="3.1"/><circle cx="159" cy="751.1" r="3.4" fill="none" stroke="#8F5D1B" stroke-width="3.1"/><circle cx="159" cy="749.84" r="3.4" fill="none" stroke="#8F5D1B" stroke-width="3.1"/><circle cx="159" cy="749.02" r="3.4" fill="none" stroke="#8F5D1B" stroke-width="3.1"/><circle cx="159" cy="747.67" r="3.4" fill="none" stroke="#8F5D1B" stroke-width="3.1"/><circle cx="159" cy="746.06" r="3.4" fill="none" stroke="#8F5D1B" stroke-width="3.1"/><circle cx="159" cy="745.13" r="3.4" fill="none" stroke="#8F5D1B" stroke-width="3.1"/><circle cx="159" cy="744.09" r="3.4" fill="none" stroke="#8F5D1B" stroke-width="3.1"/><circle cx="159" cy="742.61" r="3.4" fill="none" stroke="#8F5D1B" stroke-width="3.1"/><circle cx="159" cy="741.29" r="3.4" fill="none" stroke="#8F5D1B" stroke-width="3.1"/><circle cx="159" cy="740.1" r="3.4" fill="none" stroke="#8F5D1B" stroke-width="3.1"/><circle cx="159" cy="739.11" r="3.4" fill="none" stroke="#8F5D1B" stroke-width="3.1"/><circle cx="159" cy="737.86" r="3.4" fill="none" stroke="#8F5D1B" stroke-width="3.1"/><circle cx="159" cy="736.6" r="3.4" fill="none" stroke="#8F5D1B" stroke-width="3.1"/><circle cx="159" cy="735.19" r="3.4" fill="none" stroke="#8F5D1B" stroke-width="3.1"/><circle cx="159" cy="734.17" r="3.4" fill="none" stroke="#8F5D1B" stroke-width="3.1"/><circle cx="159" cy="733.05" r="3.4" fill="none" stroke="#8F5D1B" stroke-width="3.1"/><circle cx="159" cy="720.3" r="3.4" fill="none" stroke="#8F5D1B" stroke-width="3.1"/><circle cx="159" cy="706.29" r="3.4" fill="none" stroke="#8F5D1B" stroke-width="3.1"/><circle cx="159" cy="702.95" r="3.4" fill="none" stroke="#8F5D1B" stroke-width="3.1"/><circle cx="159" cy="696.28" r="3.4" fill="none" stroke="#8F5D1B" stroke-width="3.1"/><circle cx="159" cy="692.27" r="3.4" fill="none" stroke="#8F5D1B" stroke-width="3.1"/><circle cx="159" cy="682.27" r="3.4" fill="none" stroke="#8F5D1B" stroke-width="3.1"/><circle cx="159" cy="658.24" r="3.4" fill="none" stroke="#8F5D1B" stroke-width="3.1"/><circle cx="159" cy="652.24" r="3.4" fill="none" stroke="#8F5D1B" stroke-width="3.1"/><circle cx="159" cy="648.24" r="3.4" fill="none" stroke="#8F5D1B" stroke-width="3.1"/><circle cx="159" cy="644.23" r="3.4" fill="none" stroke="#8F5D1B" stroke-width="3.1"/><circle cx="159" cy="634.22" r="3.4" fill="none" stroke="#8F5D1B" stroke-width="3.1"/><circle cx="159" cy="631.22" r="3.4" fill="none" stroke="#8F5D1B" stroke-width="3.1"/><circle cx="159" cy="628.22" r="3.4" fill="none" stroke="#8F5D1B" stroke-width="3.1"/><circle cx="159" cy="610.2" r="3.4" fill="none" stroke="#8F5D1B" stroke-width="3.1"/><circle cx="159" cy="601.19" r="3.4" fill="none" stroke="#8F5D1B" stroke-width="3.1"/><circle cx="255" cy="834.53" r="3.4" fill="none" stroke="#8F5D1B" stroke-width="3.1"/><circle cx="255" cy="827.41" r="3.4" fill="none" stroke="#8F5D1B" stroke-width="3.1"/><circle cx="255" cy="818.14" r="3.4" fill="none" stroke="#8F5D1B" stroke-width="3.1"/><circle cx="255" cy="832.3" r="3.4" fill="none" stroke="#8F5D1B" stroke-width="3.1"/><circle cx="255" cy="834.22" r="3.4" fill="none" stroke="#8F5D1B" stroke-width="3.1"/><circle cx="255" cy="830.9" r="3.4" fill="none" stroke="#8F5D1B" stroke-width="3.1"/><circle cx="255" cy="825.99" r="3.4" fill="none" stroke="#8F5D1B" stroke-width="3.1"/><circle cx="255" cy="817.14" r="3.4" fill="none" stroke="#8F5D1B" stroke-width="3.1"/><circle cx="255" cy="833.9" r="3.4" fill="none" stroke="#8F5D1B" stroke-width="3.1"/><circle cx="255" cy="834.15" r="3.4" fill="none" stroke="#8F5D1B" stroke-width="3.1"/><circle cx="255" cy="818.8" r="3.4" fill="none" stroke="#8F5D1B" stroke-width="3.1"/><circle cx="255" cy="823.45" r="3.4" fill="none" stroke="#8F5D1B" stroke-width="3.1"/><circle cx="255" cy="813.28" r="3.4" fill="none" stroke="#8F5D1B" stroke-width="3.1"/><circle cx="255" cy="817.05" r="3.4" fill="none" stroke="#8F5D1B" stroke-width="3.1"/><circle cx="255" cy="827.73" r="3.4" fill="none" stroke="#8F5D1B" stroke-width="3.1"/><circle cx="255" cy="829.14" r="3.4" fill="none" stroke="#8F5D1B" stroke-width="3.1"/><circle cx="255" cy="803.21" r="3.4" fill="none" stroke="#8F5D1B" stroke-width="3.1"/><circle cx="255" cy="828.76" r="3.4" fill="none" stroke="#8F5D1B" stroke-width="3.1"/><circle cx="255" cy="831.82" r="3.4" fill="none" stroke="#8F5D1B" stroke-width="3.1"/><circle cx="255" cy="833.7" r="3.4" fill="none" stroke="#8F5D1B" stroke-width="3.1"/><circle cx="255" cy="825.79" r="3.4" fill="none" stroke="#8F5D1B" stroke-width="3.1"/><circle cx="255" cy="825.17" r="3.4" fill="none" stroke="#8F5D1B" stroke-width="3.1"/><circle cx="255" cy="828.14" r="3.4" fill="none" stroke="#8F5D1B" stroke-width="3.1"/><circle cx="255" cy="826.6" r="3.4" fill="none" stroke="#8F5D1B" stroke-width="3.1"/><circle cx="255" cy="819.99" r="3.4" fill="none" stroke="#8F5D1B" stroke-width="3.1"/><circle cx="255" cy="816.56" r="3.4" fill="none" stroke="#8F5D1B" stroke-width="3.1"/><circle cx="255" cy="813.52" r="3.4" fill="none" stroke="#8F5D1B" stroke-width="3.1"/><circle cx="255" cy="819.81" r="3.4" fill="none" stroke="#8F5D1B" stroke-width="3.1"/><circle cx="255" cy="833.75" r="3.4" fill="none" stroke="#8F5D1B" stroke-width="3.1"/><circle cx="255" cy="815.54" r="3.4" fill="none" stroke="#8F5D1B" stroke-width="3.1"/><circle cx="255" cy="833.21" r="3.4" fill="none" stroke="#8F5D1B" stroke-width="3.1"/><circle cx="255" cy="825.3" r="3.4" fill="none" stroke="#8F5D1B" stroke-width="3.1"/><circle cx="255" cy="832.77" r="3.4" fill="none" stroke="#8F5D1B" stroke-width="3.1"/><circle cx="255" cy="820.94" r="3.4" fill="none" stroke="#8F5D1B" stroke-width="3.1"/><circle cx="255" cy="828.84" r="3.4" fill="none" stroke="#8F5D1B" stroke-width="3.1"/><circle cx="255" cy="817.58" r="3.4" fill="none" stroke="#8F5D1B" stroke-width="3.1"/><circle cx="255" cy="789.69" r="3.4" fill="none" stroke="#8F5D1B" stroke-width="3.1"/><circle cx="255" cy="818.65" r="3.4" fill="none" stroke="#8F5D1B" stroke-width="3.1"/><circle cx="255" cy="812.84" r="3.4" fill="none" stroke="#8F5D1B" stroke-width="3.1"/><circle cx="255" cy="830.92" r="3.4" fill="none" stroke="#8F5D1B" stroke-width="3.1"/><circle cx="255" cy="822.67" r="3.4" fill="none" stroke="#8F5D1B" stroke-width="3.1"/><circle cx="255" cy="813.95" r="3.4" fill="none" stroke="#8F5D1B" stroke-width="3.1"/><circle cx="255" cy="817.74" r="3.4" fill="none" stroke="#8F5D1B" stroke-width="3.1"/><circle cx="255" cy="815.07" r="3.4" fill="none" stroke="#8F5D1B" stroke-width="3.1"/><circle cx="255" cy="816.86" r="3.4" fill="none" stroke="#8F5D1B" stroke-width="3.1"/><circle cx="255" cy="828.52" r="3.4" fill="none" stroke="#8F5D1B" stroke-width="3.1"/><circle cx="255" cy="812.89" r="3.4" fill="none" stroke="#8F5D1B" stroke-width="3.1"/><circle cx="255" cy="826.69" r="3.4" fill="none" stroke="#8F5D1B" stroke-width="3.1"/><circle cx="255" cy="800.29" r="3.4" fill="none" stroke="#8F5D1B" stroke-width="3.1"/><circle cx="255" cy="822.61" r="3.4" fill="none" stroke="#8F5D1B" stroke-width="3.1"/><circle cx="255" cy="810.09" r="3.4" fill="none" stroke="#8F5D1B" stroke-width="3.1"/><circle cx="255" cy="815.83" r="3.4" fill="none" stroke="#8F5D1B" stroke-width="3.1"/><circle cx="255" cy="806.13" r="3.4" fill="none" stroke="#8F5D1B" stroke-width="3.1"/><circle cx="255" cy="821.19" r="3.4" fill="none" stroke="#8F5D1B" stroke-width="3.1"/><circle cx="255" cy="805.99" r="3.4" fill="none" stroke="#8F5D1B" stroke-width="3.1"/><circle cx="255" cy="815.87" r="3.4" fill="none" stroke="#8F5D1B" stroke-width="3.1"/><circle cx="255" cy="804.57" r="3.4" fill="none" stroke="#8F5D1B" stroke-width="3.1"/><circle cx="255" cy="807.28" r="3.4" fill="none" stroke="#8F5D1B" stroke-width="3.1"/><circle cx="255" cy="814.26" r="3.4" fill="none" stroke="#8F5D1B" stroke-width="3.1"/><circle cx="255" cy="822.23" r="3.4" fill="none" stroke="#8F5D1B" stroke-width="3.1"/><circle cx="255" cy="806.11" r="3.4" fill="none" stroke="#8F5D1B" stroke-width="3.1"/><circle cx="255" cy="807.74" r="3.4" fill="none" stroke="#8F5D1B" stroke-width="3.1"/><circle cx="255" cy="794.7" r="3.4" fill="none" stroke="#8F5D1B" stroke-width="3.1"/><circle cx="255" cy="816.26" r="3.4" fill="none" stroke="#8F5D1B" stroke-width="3.1"/><circle cx="255" cy="806.76" r="3.4" fill="none" stroke="#8F5D1B" stroke-width="3.1"/><circle cx="255" cy="806.81" r="3.4" fill="none" stroke="#8F5D1B" stroke-width="3.1"/><circle cx="255" cy="808.26" r="3.4" fill="none" stroke="#8F5D1B" stroke-width="3.1"/><circle cx="255" cy="809.8" r="3.4" fill="none" stroke="#8F5D1B" stroke-width="3.1"/><circle cx="255" cy="808.79" r="3.4" fill="none" stroke="#8F5D1B" stroke-width="3.1"/><circle cx="255" cy="816.73" r="3.4" fill="none" stroke="#8F5D1B" stroke-width="3.1"/><circle cx="255" cy="818.68" r="3.4" fill="none" stroke="#8F5D1B" stroke-width="3.1"/><circle cx="255" cy="814.76" r="3.4" fill="none" stroke="#8F5D1B" stroke-width="3.1"/><circle cx="255" cy="804.6" r="3.4" fill="none" stroke="#8F5D1B" stroke-width="3.1"/><circle cx="255" cy="793.03" r="3.4" fill="none" stroke="#8F5D1B" stroke-width="3.1"/><circle cx="255" cy="801.2" r="3.4" fill="none" stroke="#8F5D1B" stroke-width="3.1"/><circle cx="255" cy="800.33" r="3.4" fill="none" stroke="#8F5D1B" stroke-width="3.1"/><circle cx="255" cy="803.69" r="3.4" fill="none" stroke="#8F5D1B" stroke-width="3.1"/><circle cx="255" cy="804.25" r="3.4" fill="none" stroke="#8F5D1B" stroke-width="3.1"/><circle cx="255" cy="806.39" r="3.4" fill="none" stroke="#8F5D1B" stroke-width="3.1"/><circle cx="255" cy="801.37" r="3.4" fill="none" stroke="#8F5D1B" stroke-width="3.1"/><circle cx="255" cy="791.36" r="3.4" fill="none" stroke="#8F5D1B" stroke-width="3.1"/><circle cx="255" cy="811.15" r="3.4" fill="none" stroke="#8F5D1B" stroke-width="3.1"/><circle cx="255" cy="814.49" r="3.4" fill="none" stroke="#8F5D1B" stroke-width="3.1"/><circle cx="255" cy="787.02" r="3.4" fill="none" stroke="#8F5D1B" stroke-width="3.1"/><circle cx="255" cy="805.25" r="3.4" fill="none" stroke="#8F5D1B" stroke-width="3.1"/><circle cx="255" cy="796.37" r="3.4" fill="none" stroke="#8F5D1B" stroke-width="3.1"/><circle cx="255" cy="798.03" r="3.4" fill="none" stroke="#8F5D1B" stroke-width="3.1"/><text x="206" y="537.5" font-size="24" font-weight="bold" text-anchor="middle">CD38<tspan dy="-10" font-size="16">+</tspan><tspan dy="10"> T</tspan></text><line x1="156" y1="577.3" x2="253" y2="577.3" stroke="#000" stroke-width="1.4" /><path d="M186.05,559.70 L186.05,568.50 M182.24,561.90 L189.86,566.30 M182.24,566.30 L189.86,561.90 M198.35,559.70 L198.35,568.50 M194.54,561.90 L202.16,566.30 M194.54,566.30 L202.16,561.90 M210.65,559.70 L210.65,568.50 M206.84,561.90 L214.46,566.30 M206.84,566.30 L214.46,561.90 M222.95,559.70 L222.95,568.50 M219.14,561.90 L226.76,566.30 M219.14,566.30 L226.76,561.90 " stroke="#000" stroke-width="1.9" stroke-linecap="round" fill="none"/><text x="0" y="0" font-size="22.5" font-weight="bold" text-anchor="middle" dominant-baseline="central" transform="translate(38.5,703.9) rotate(-90)">CD38<tspan dy="-9" font-size="15">+</tspan><tspan dy="9"> CD4<tspan dy="-9" font-size="15">+</tspan><tspan dy="9"> T (%)</tspan></tspan></text><text x="159" y="868.5" font-size="18.5" font-weight="bold" text-anchor="middle">AIM<tspan dy="-8" font-size="13">+</tspan><tspan dy="8"> T</tspan></text><text x="255" y="868.5" font-size="18.5" font-weight="bold" text-anchor="middle">AIM<tspan dy="-8" font-size="13">-</tspan><tspan dy="8"> T</tspan></text><line x1="443.8" y1="814.38" x2="540.7" y2="836.33" stroke="#808080" stroke-width="1.1" /><line x1="443.8" y1="802.37" x2="540.7" y2="835.15" stroke="#808080" stroke-width="1.1" /><line x1="443.8" y1="799.7" x2="540.7" y2="835.35" stroke="#808080" stroke-width="1.1" /><line x1="443.8" y1="795.7" x2="540.7" y2="835.46" stroke="#808080" stroke-width="1.1" /><line x1="443.8" y1="791.03" x2="540.7" y2="833.16" stroke="#808080" stroke-width="1.1" /><line x1="443.8" y1="786.36" x2="540.7" y2="835.23" stroke="#808080" stroke-width="1.1" /><line x1="443.8" y1="780.35" x2="540.7" y2="835.27" stroke="#808080" stroke-width="1.1" /><line x1="443.8" y1="769.92" x2="540.7" y2="830.67" stroke="#808080" stroke-width="1.1" /><line x1="443.8" y1="768.37" x2="540.7" y2="835.41" stroke="#808080" stroke-width="1.1" /><line x1="443.8" y1="767.63" x2="540.7" y2="835.79" stroke="#808080" stroke-width="1.1" /><line x1="443.8" y1="766.04" x2="540.7" y2="836.21" stroke="#808080" stroke-width="1.1" /><line x1="443.8" y1="763.79" x2="540.7" y2="835.27" stroke="#808080" stroke-width="1.1" /><line x1="443.8" y1="762.32" x2="540.7" y2="833.36" stroke="#808080" stroke-width="1.1" /><line x1="443.8" y1="760.82" x2="540.7" y2="832.61" stroke="#808080" stroke-width="1.1" /><line x1="443.8" y1="759.59" x2="540.7" y2="832.17" stroke="#808080" stroke-width="1.1" /><line x1="443.8" y1="757.76" x2="540.7" y2="829.85" stroke="#808080" stroke-width="1.1" /><line x1="443.8" y1="756.2" x2="540.7" y2="829.97" stroke="#808080" stroke-width="1.1" /><line x1="443.8" y1="754.66" x2="540.7" y2="832.68" stroke="#808080" stroke-width="1.1" /><line x1="443.8" y1="753.49" x2="540.7" y2="831.03" stroke="#808080" stroke-width="1.1" /><line x1="443.8" y1="751.68" x2="540.7" y2="832.43" stroke="#808080" stroke-width="1.1" /><line x1="443.8" y1="750.15" x2="540.7" y2="835.26" stroke="#808080" stroke-width="1.1" /><line x1="443.8" y1="748.29" x2="540.7" y2="832.26" stroke="#808080" stroke-width="1.1" /><line x1="443.8" y1="746.48" x2="540.7" y2="834.25" stroke="#808080" stroke-width="1.1" /><line x1="443.8" y1="744.96" x2="540.7" y2="834.85" stroke="#808080" stroke-width="1.1" /><line x1="443.8" y1="743.77" x2="540.7" y2="827.96" stroke="#808080" stroke-width="1.1" /><line x1="443.8" y1="742.3" x2="540.7" y2="831.96" stroke="#808080" stroke-width="1.1" /><line x1="443.8" y1="740.9" x2="540.7" y2="835.06" stroke="#808080" stroke-width="1.1" /><line x1="443.8" y1="739.56" x2="540.7" y2="833.91" stroke="#808080" stroke-width="1.1" /><line x1="443.8" y1="738" x2="540.7" y2="822.43" stroke="#808080" stroke-width="1.1" /><line x1="443.8" y1="736.04" x2="540.7" y2="834.61" stroke="#808080" stroke-width="1.1" /><line x1="443.8" y1="734.61" x2="540.7" y2="831.16" stroke="#808080" stroke-width="1.1" /><line x1="443.8" y1="733" x2="540.7" y2="831.83" stroke="#808080" stroke-width="1.1" /><line x1="443.8" y1="730.96" x2="540.7" y2="832.01" stroke="#808080" stroke-width="1.1" /><line x1="443.8" y1="729.74" x2="540.7" y2="831.76" stroke="#808080" stroke-width="1.1" /><line x1="443.8" y1="728.15" x2="540.7" y2="834.74" stroke="#808080" stroke-width="1.1" /><line x1="443.8" y1="726.89" x2="540.7" y2="834.7" stroke="#808080" stroke-width="1.1" /><line x1="443.8" y1="725.52" x2="540.7" y2="832.97" stroke="#808080" stroke-width="1.1" /><line x1="443.8" y1="723.68" x2="540.7" y2="833.67" stroke="#808080" stroke-width="1.1" /><line x1="443.8" y1="722.3" x2="540.7" y2="830.58" stroke="#808080" stroke-width="1.1" /><line x1="443.8" y1="720.39" x2="540.7" y2="827.67" stroke="#808080" stroke-width="1.1" /><line x1="443.8" y1="718.38" x2="540.7" y2="834.86" stroke="#808080" stroke-width="1.1" /><line x1="443.8" y1="717.12" x2="540.7" y2="830.82" stroke="#808080" stroke-width="1.1" /><line x1="443.8" y1="716.01" x2="540.7" y2="835.04" stroke="#808080" stroke-width="1.1" /><line x1="443.8" y1="713.8" x2="540.7" y2="834.31" stroke="#808080" stroke-width="1.1" /><line x1="443.8" y1="712.32" x2="540.7" y2="832.47" stroke="#808080" stroke-width="1.1" /><line x1="443.8" y1="710.82" x2="540.7" y2="831.88" stroke="#808080" stroke-width="1.1" /><line x1="443.8" y1="709.1" x2="540.7" y2="832.85" stroke="#808080" stroke-width="1.1" /><line x1="443.8" y1="707.67" x2="540.7" y2="836.18" stroke="#808080" stroke-width="1.1" /><line x1="443.8" y1="706.09" x2="540.7" y2="826.81" stroke="#808080" stroke-width="1.1" /><line x1="443.8" y1="704.93" x2="540.7" y2="832.27" stroke="#808080" stroke-width="1.1" /><line x1="443.8" y1="702.79" x2="540.7" y2="833.13" stroke="#808080" stroke-width="1.1" /><line x1="443.8" y1="701.25" x2="540.7" y2="828.48" stroke="#808080" stroke-width="1.1" /><line x1="443.8" y1="700.42" x2="540.7" y2="832.83" stroke="#808080" stroke-width="1.1" /><line x1="443.8" y1="698.32" x2="540.7" y2="835.14" stroke="#808080" stroke-width="1.1" /><line x1="443.8" y1="696.79" x2="540.7" y2="829.15" stroke="#808080" stroke-width="1.1" /><line x1="443.8" y1="695.46" x2="540.7" y2="829.89" stroke="#808080" stroke-width="1.1" /><line x1="443.8" y1="693.84" x2="540.7" y2="832.96" stroke="#808080" stroke-width="1.1" /><line x1="443.8" y1="692.32" x2="540.7" y2="827.98" stroke="#808080" stroke-width="1.1" /><line x1="443.8" y1="690.36" x2="540.7" y2="828.97" stroke="#808080" stroke-width="1.1" /><line x1="443.8" y1="689.19" x2="540.7" y2="833.81" stroke="#808080" stroke-width="1.1" /><line x1="443.8" y1="687.32" x2="540.7" y2="797.7" stroke="#808080" stroke-width="1.1" /><line x1="443.8" y1="686.2" x2="540.7" y2="828.99" stroke="#808080" stroke-width="1.1" /><line x1="443.8" y1="684.15" x2="540.7" y2="833.65" stroke="#808080" stroke-width="1.1" /><line x1="443.8" y1="682.58" x2="540.7" y2="828.17" stroke="#808080" stroke-width="1.1" /><line x1="443.8" y1="681.42" x2="540.7" y2="829.56" stroke="#808080" stroke-width="1.1" /><line x1="443.8" y1="679.76" x2="540.7" y2="824.27" stroke="#808080" stroke-width="1.1" /><line x1="443.8" y1="677.87" x2="540.7" y2="833.67" stroke="#808080" stroke-width="1.1" /><line x1="443.8" y1="666.25" x2="540.7" y2="810.38" stroke="#808080" stroke-width="1.1" /><line x1="443.8" y1="664.58" x2="540.7" y2="823.45" stroke="#808080" stroke-width="1.1" /><line x1="443.8" y1="661.25" x2="540.7" y2="826.59" stroke="#808080" stroke-width="1.1" /><line x1="443.8" y1="658.24" x2="540.7" y2="827.34" stroke="#808080" stroke-width="1.1" /><line x1="443.8" y1="636.23" x2="540.7" y2="807.71" stroke="#808080" stroke-width="1.1" /><line x1="443.8" y1="591.52" x2="540.7" y2="824.4" stroke="#808080" stroke-width="1.1" /><line x1="379.8" y1="567.85" x2="379.8" y2="838.05" stroke="#000" stroke-width="3.3" stroke-linecap="butt"/><line x1="368.8" y1="836.4" x2="606" y2="836.4" stroke="#000" stroke-width="3.3" /><line x1="368.8" y1="836.4" x2="379.8" y2="836.4" stroke="#000" stroke-width="3.3" /><text x="367.2" y="844.3" font-size="18.5" font-weight="bold" text-anchor="end" fill="#000" >0</text><line x1="368.8" y1="769.67" x2="379.8" y2="769.67" stroke="#000" stroke-width="3.3" /><text x="367.2" y="777.57" font-size="18.5" font-weight="bold" text-anchor="end" fill="#000" >20</text><line x1="368.8" y1="702.95" x2="379.8" y2="702.95" stroke="#000" stroke-width="3.3" /><text x="367.2" y="710.85" font-size="18.5" font-weight="bold" text-anchor="end" fill="#000" >40</text><line x1="368.8" y1="636.23" x2="379.8" y2="636.23" stroke="#000" stroke-width="3.3" /><text x="367.2" y="644.12" font-size="18.5" font-weight="bold" text-anchor="end" fill="#000" >60</text><line x1="368.8" y1="569.5" x2="379.8" y2="569.5" stroke="#000" stroke-width="3.3" /><text x="367.2" y="577.4" font-size="18.5" font-weight="bold" text-anchor="end" fill="#000" >80</text><line x1="443.8" y1="836.4" x2="443.8" y2="848.05" stroke="#000" stroke-width="3.3" /><line x1="540.7" y1="836.4" x2="540.7" y2="848.05" stroke="#000" stroke-width="3.3" /><circle cx="443.8" cy="814.38" r="3.4" fill="none" stroke="#8F5D1B" stroke-width="3.1"/><circle cx="443.8" cy="802.37" r="3.4" fill="none" stroke="#8F5D1B" stroke-width="3.1"/><circle cx="443.8" cy="799.7" r="3.4" fill="none" stroke="#8F5D1B" stroke-width="3.1"/><circle cx="443.8" cy="795.7" r="3.4" fill="none" stroke="#8F5D1B" stroke-width="3.1"/><circle cx="443.8" cy="791.03" r="3.4" fill="none" stroke="#8F5D1B" stroke-width="3.1"/><circle cx="443.8" cy="786.36" r="3.4" fill="none" stroke="#8F5D1B" stroke-width="3.1"/><circle cx="443.8" cy="780.35" r="3.4" fill="none" stroke="#8F5D1B" stroke-width="3.1"/><circle cx="443.8" cy="769.92" r="3.4" fill="none" stroke="#8F5D1B" stroke-width="3.1"/><circle cx="443.8" cy="768.37" r="3.4" fill="none" stroke="#8F5D1B" stroke-width="3.1"/><circle cx="443.8" cy="767.63" r="3.4" fill="none" stroke="#8F5D1B" stroke-width="3.1"/><circle cx="443.8" cy="766.04" r="3.4" fill="none" stroke="#8F5D1B" stroke-width="3.1"/><circle cx="443.8" cy="763.79" r="3.4" fill="none" stroke="#8F5D1B" stroke-width="3.1"/><circle cx="443.8" cy="762.32" r="3.4" fill="none" stroke="#8F5D1B" stroke-width="3.1"/><circle cx="443.8" cy="760.82" r="3.4" fill="none" stroke="#8F5D1B" stroke-width="3.1"/><circle cx="443.8" cy="759.59" r="3.4" fill="none" stroke="#8F5D1B" stroke-width="3.1"/><circle cx="443.8" cy="757.76" r="3.4" fill="none" stroke="#8F5D1B" stroke-width="3.1"/><circle cx="443.8" cy="756.2" r="3.4" fill="none" stroke="#8F5D1B" stroke-width="3.1"/><circle cx="443.8" cy="754.66" r="3.4" fill="none" stroke="#8F5D1B" stroke-width="3.1"/><circle cx="443.8" cy="753.49" r="3.4" fill="none" stroke="#8F5D1B" stroke-width="3.1"/><circle cx="443.8" cy="751.68" r="3.4" fill="none" stroke="#8F5D1B" stroke-width="3.1"/><circle cx="443.8" cy="750.15" r="3.4" fill="none" stroke="#8F5D1B" stroke-width="3.1"/><circle cx="443.8" cy="748.29" r="3.4" fill="none" stroke="#8F5D1B" stroke-width="3.1"/><circle cx="443.8" cy="746.48" r="3.4" fill="none" stroke="#8F5D1B" stroke-width="3.1"/><circle cx="443.8" cy="744.96" r="3.4" fill="none" stroke="#8F5D1B" stroke-width="3.1"/><circle cx="443.8" cy="743.77" r="3.4" fill="none" stroke="#8F5D1B" stroke-width="3.1"/><circle cx="443.8" cy="742.3" r="3.4" fill="none" stroke="#8F5D1B" stroke-width="3.1"/><circle cx="443.8" cy="740.9" r="3.4" fill="none" stroke="#8F5D1B" stroke-width="3.1"/><circle cx="443.8" cy="739.56" r="3.4" fill="none" stroke="#8F5D1B" stroke-width="3.1"/><circle cx="443.8" cy="738" r="3.4" fill="none" stroke="#8F5D1B" stroke-width="3.1"/><circle cx="443.8" cy="736.04" r="3.4" fill="none" stroke="#8F5D1B" stroke-width="3.1"/><circle cx="443.8" cy="734.61" r="3.4" fill="none" stroke="#8F5D1B" stroke-width="3.1"/><circle cx="443.8" cy="733" r="3.4" fill="none" stroke="#8F5D1B" stroke-width="3.1"/><circle cx="443.8" cy="730.96" r="3.4" fill="none" stroke="#8F5D1B" stroke-width="3.1"/><circle cx="443.8" cy="729.74" r="3.4" fill="none" stroke="#8F5D1B" stroke-width="3.1"/><circle cx="443.8" cy="728.15" r="3.4" fill="none" stroke="#8F5D1B" stroke-width="3.1"/><circle cx="443.8" cy="726.89" r="3.4" fill="none" stroke="#8F5D1B" stroke-width="3.1"/><circle cx="443.8" cy="725.52" r="3.4" fill="none" stroke="#8F5D1B" stroke-width="3.1"/><circle cx="443.8" cy="723.68" r="3.4" fill="none" stroke="#8F5D1B" stroke-width="3.1"/><circle cx="443.8" cy="722.3" r="3.4" fill="none" stroke="#8F5D1B" stroke-width="3.1"/><circle cx="443.8" cy="720.39" r="3.4" fill="none" stroke="#8F5D1B" stroke-width="3.1"/><circle cx="443.8" cy="718.38" r="3.4" fill="none" stroke="#8F5D1B" stroke-width="3.1"/><circle cx="443.8" cy="717.12" r="3.4" fill="none" stroke="#8F5D1B" stroke-width="3.1"/><circle cx="443.8" cy="716.01" r="3.4" fill="none" stroke="#8F5D1B" stroke-width="3.1"/><circle cx="443.8" cy="713.8" r="3.4" fill="none" stroke="#8F5D1B" stroke-width="3.1"/><circle cx="443.8" cy="712.32" r="3.4" fill="none" stroke="#8F5D1B" stroke-width="3.1"/><circle cx="443.8" cy="710.82" r="3.4" fill="none" stroke="#8F5D1B" stroke-width="3.1"/><circle cx="443.8" cy="709.1" r="3.4" fill="none" stroke="#8F5D1B" stroke-width="3.1"/><circle cx="443.8" cy="707.67" r="3.4" fill="none" stroke="#8F5D1B" stroke-width="3.1"/><circle cx="443.8" cy="706.09" r="3.4" fill="none" stroke="#8F5D1B" stroke-width="3.1"/><circle cx="443.8" cy="704.93" r="3.4" fill="none" stroke="#8F5D1B" stroke-width="3.1"/><circle cx="443.8" cy="702.79" r="3.4" fill="none" stroke="#8F5D1B" stroke-width="3.1"/><circle cx="443.8" cy="701.25" r="3.4" fill="none" stroke="#8F5D1B" stroke-width="3.1"/><circle cx="443.8" cy="700.42" r="3.4" fill="none" stroke="#8F5D1B" stroke-width="3.1"/><circle cx="443.8" cy="698.32" r="3.4" fill="none" stroke="#8F5D1B" stroke-width="3.1"/><circle cx="443.8" cy="696.79" r="3.4" fill="none" stroke="#8F5D1B" stroke-width="3.1"/><circle cx="443.8" cy="695.46" r="3.4" fill="none" stroke="#8F5D1B" stroke-width="3.1"/><circle cx="443.8" cy="693.84" r="3.4" fill="none" stroke="#8F5D1B" stroke-width="3.1"/><circle cx="443.8" cy="692.32" r="3.4" fill="none" stroke="#8F5D1B" stroke-width="3.1"/><circle cx="443.8" cy="690.36" r="3.4" fill="none" stroke="#8F5D1B" stroke-width="3.1"/><circle cx="443.8" cy="689.19" r="3.4" fill="none" stroke="#8F5D1B" stroke-width="3.1"/><circle cx="443.8" cy="687.32" r="3.4" fill="none" stroke="#8F5D1B" stroke-width="3.1"/><circle cx="443.8" cy="686.2" r="3.4" fill="none" stroke="#8F5D1B" stroke-width="3.1"/><circle cx="443.8" cy="684.15" r="3.4" fill="none" stroke="#8F5D1B" stroke-width="3.1"/><circle cx="443.8" cy="682.58" r="3.4" fill="none" stroke="#8F5D1B" stroke-width="3.1"/><circle cx="443.8" cy="681.42" r="3.4" fill="none" stroke="#8F5D1B" stroke-width="3.1"/><circle cx="443.8" cy="679.76" r="3.4" fill="none" stroke="#8F5D1B" stroke-width="3.1"/><circle cx="443.8" cy="677.87" r="3.4" fill="none" stroke="#8F5D1B" stroke-width="3.1"/><circle cx="443.8" cy="666.25" r="3.4" fill="none" stroke="#8F5D1B" stroke-width="3.1"/><circle cx="443.8" cy="664.58" r="3.4" fill="none" stroke="#8F5D1B" stroke-width="3.1"/><circle cx="443.8" cy="661.25" r="3.4" fill="none" stroke="#8F5D1B" stroke-width="3.1"/><circle cx="443.8" cy="658.24" r="3.4" fill="none" stroke="#8F5D1B" stroke-width="3.1"/><circle cx="443.8" cy="636.23" r="3.4" fill="none" stroke="#8F5D1B" stroke-width="3.1"/><circle cx="443.8" cy="591.52" r="3.4" fill="none" stroke="#8F5D1B" stroke-width="3.1"/><circle cx="540.7" cy="836.33" r="3.4" fill="none" stroke="#8F5D1B" stroke-width="3.1"/><circle cx="540.7" cy="835.15" r="3.4" fill="none" stroke="#8F5D1B" stroke-width="3.1"/><circle cx="540.7" cy="835.35" r="3.4" fill="none" stroke="#8F5D1B" stroke-width="3.1"/><circle cx="540.7" cy="835.46" r="3.4" fill="none" stroke="#8F5D1B" stroke-width="3.1"/><circle cx="540.7" cy="833.16" r="3.4" fill="none" stroke="#8F5D1B" stroke-width="3.1"/><circle cx="540.7" cy="835.23" r="3.4" fill="none" stroke="#8F5D1B" stroke-width="3.1"/><circle cx="540.7" cy="835.27" r="3.4" fill="none" stroke="#8F5D1B" stroke-width="3.1"/><circle cx="540.7" cy="830.67" r="3.4" fill="none" stroke="#8F5D1B" stroke-width="3.1"/><circle cx="540.7" cy="835.41" r="3.4" fill="none" stroke="#8F5D1B" stroke-width="3.1"/><circle cx="540.7" cy="835.79" r="3.4" fill="none" stroke="#8F5D1B" stroke-width="3.1"/><circle cx="540.7" cy="836.21" r="3.4" fill="none" stroke="#8F5D1B" stroke-width="3.1"/><circle cx="540.7" cy="835.27" r="3.4" fill="none" stroke="#8F5D1B" stroke-width="3.1"/><circle cx="540.7" cy="833.36" r="3.4" fill="none" stroke="#8F5D1B" stroke-width="3.1"/><circle cx="540.7" cy="832.61" r="3.4" fill="none" stroke="#8F5D1B" stroke-width="3.1"/><circle cx="540.7" cy="832.17" r="3.4" fill="none" stroke="#8F5D1B" stroke-width="3.1"/><circle cx="540.7" cy="829.85" r="3.4" fill="none" stroke="#8F5D1B" stroke-width="3.1"/><circle cx="540.7" cy="829.97" r="3.4" fill="none" stroke="#8F5D1B" stroke-width="3.1"/><circle cx="540.7" cy="832.68" r="3.4" fill="none" stroke="#8F5D1B" stroke-width="3.1"/><circle cx="540.7" cy="831.03" r="3.4" fill="none" stroke="#8F5D1B" stroke-width="3.1"/><circle cx="540.7" cy="832.43" r="3.4" fill="none" stroke="#8F5D1B" stroke-width="3.1"/><circle cx="540.7" cy="835.26" r="3.4" fill="none" stroke="#8F5D1B" stroke-width="3.1"/><circle cx="540.7" cy="832.26" r="3.4" fill="none" stroke="#8F5D1B" stroke-width="3.1"/><circle cx="540.7" cy="834.25" r="3.4" fill="none" stroke="#8F5D1B" stroke-width="3.1"/><circle cx="540.7" cy="834.85" r="3.4" fill="none" stroke="#8F5D1B" stroke-width="3.1"/><circle cx="540.7" cy="827.96" r="3.4" fill="none" stroke="#8F5D1B" stroke-width="3.1"/><circle cx="540.7" cy="831.96" r="3.4" fill="none" stroke="#8F5D1B" stroke-width="3.1"/><circle cx="540.7" cy="835.06" r="3.4" fill="none" stroke="#8F5D1B" stroke-width="3.1"/><circle cx="540.7" cy="833.91" r="3.4" fill="none" stroke="#8F5D1B" stroke-width="3.1"/><circle cx="540.7" cy="822.43" r="3.4" fill="none" stroke="#8F5D1B" stroke-width="3.1"/><circle cx="540.7" cy="834.61" r="3.4" fill="none" stroke="#8F5D1B" stroke-width="3.1"/><circle cx="540.7" cy="831.16" r="3.4" fill="none" stroke="#8F5D1B" stroke-width="3.1"/><circle cx="540.7" cy="831.83" r="3.4" fill="none" stroke="#8F5D1B" stroke-width="3.1"/><circle cx="540.7" cy="832.01" r="3.4" fill="none" stroke="#8F5D1B" stroke-width="3.1"/><circle cx="540.7" cy="831.76" r="3.4" fill="none" stroke="#8F5D1B" stroke-width="3.1"/><circle cx="540.7" cy="834.74" r="3.4" fill="none" stroke="#8F5D1B" stroke-width="3.1"/><circle cx="540.7" cy="834.7" r="3.4" fill="none" stroke="#8F5D1B" stroke-width="3.1"/><circle cx="540.7" cy="832.97" r="3.4" fill="none" stroke="#8F5D1B" stroke-width="3.1"/><circle cx="540.7" cy="833.67" r="3.4" fill="none" stroke="#8F5D1B" stroke-width="3.1"/><circle cx="540.7" cy="830.58" r="3.4" fill="none" stroke="#8F5D1B" stroke-width="3.1"/><circle cx="540.7" cy="827.67" r="3.4" fill="none" stroke="#8F5D1B" stroke-width="3.1"/><circle cx="540.7" cy="834.86" r="3.4" fill="none" stroke="#8F5D1B" stroke-width="3.1"/><circle cx="540.7" cy="830.82" r="3.4" fill="none" stroke="#8F5D1B" stroke-width="3.1"/><circle cx="540.7" cy="835.04" r="3.4" fill="none" stroke="#8F5D1B" stroke-width="3.1"/><circle cx="540.7" cy="834.31" r="3.4" fill="none" stroke="#8F5D1B" stroke-width="3.1"/><circle cx="540.7" cy="832.47" r="3.4" fill="none" stroke="#8F5D1B" stroke-width="3.1"/><circle cx="540.7" cy="831.88" r="3.4" fill="none" stroke="#8F5D1B" stroke-width="3.1"/><circle cx="540.7" cy="832.85" r="3.4" fill="none" stroke="#8F5D1B" stroke-width="3.1"/><circle cx="540.7" cy="836.18" r="3.4" fill="none" stroke="#8F5D1B" stroke-width="3.1"/><circle cx="540.7" cy="826.81" r="3.4" fill="none" stroke="#8F5D1B" stroke-width="3.1"/><circle cx="540.7" cy="832.27" r="3.4" fill="none" stroke="#8F5D1B" stroke-width="3.1"/><circle cx="540.7" cy="833.13" r="3.4" fill="none" stroke="#8F5D1B" stroke-width="3.1"/><circle cx="540.7" cy="828.48" r="3.4" fill="none" stroke="#8F5D1B" stroke-width="3.1"/><circle cx="540.7" cy="832.83" r="3.4" fill="none" stroke="#8F5D1B" stroke-width="3.1"/><circle cx="540.7" cy="835.14" r="3.4" fill="none" stroke="#8F5D1B" stroke-width="3.1"/><circle cx="540.7" cy="829.15" r="3.4" fill="none" stroke="#8F5D1B" stroke-width="3.1"/><circle cx="540.7" cy="829.89" r="3.4" fill="none" stroke="#8F5D1B" stroke-width="3.1"/><circle cx="540.7" cy="832.96" r="3.4" fill="none" stroke="#8F5D1B" stroke-width="3.1"/><circle cx="540.7" cy="827.98" r="3.4" fill="none" stroke="#8F5D1B" stroke-width="3.1"/><circle cx="540.7" cy="828.97" r="3.4" fill="none" stroke="#8F5D1B" stroke-width="3.1"/><circle cx="540.7" cy="833.81" r="3.4" fill="none" stroke="#8F5D1B" stroke-width="3.1"/><circle cx="540.7" cy="797.7" r="3.4" fill="none" stroke="#8F5D1B" stroke-width="3.1"/><circle cx="540.7" cy="828.99" r="3.4" fill="none" stroke="#8F5D1B" stroke-width="3.1"/><circle cx="540.7" cy="833.65" r="3.4" fill="none" stroke="#8F5D1B" stroke-width="3.1"/><circle cx="540.7" cy="828.17" r="3.4" fill="none" stroke="#8F5D1B" stroke-width="3.1"/><circle cx="540.7" cy="829.56" r="3.4" fill="none" stroke="#8F5D1B" stroke-width="3.1"/><circle cx="540.7" cy="824.27" r="3.4" fill="none" stroke="#8F5D1B" stroke-width="3.1"/><circle cx="540.7" cy="833.67" r="3.4" fill="none" stroke="#8F5D1B" stroke-width="3.1"/><circle cx="540.7" cy="810.38" r="3.4" fill="none" stroke="#8F5D1B" stroke-width="3.1"/><circle cx="540.7" cy="823.45" r="3.4" fill="none" stroke="#8F5D1B" stroke-width="3.1"/><circle cx="540.7" cy="826.59" r="3.4" fill="none" stroke="#8F5D1B" stroke-width="3.1"/><circle cx="540.7" cy="827.34" r="3.4" fill="none" stroke="#8F5D1B" stroke-width="3.1"/><circle cx="540.7" cy="807.71" r="3.4" fill="none" stroke="#8F5D1B" stroke-width="3.1"/><circle cx="540.7" cy="824.4" r="3.4" fill="none" stroke="#8F5D1B" stroke-width="3.1"/><text x="491.8" y="537.5" font-size="24" font-weight="bold" text-anchor="middle">HLA-DR<tspan dy="-10" font-size="16">+</tspan><tspan dy="10"> T</tspan></text><line x1="443.4" y1="572.1" x2="540.7" y2="572.1" stroke="#000" stroke-width="1.4" /><path d="M473.60,554.50 L473.60,563.30 M469.79,556.70 L477.41,561.10 M469.79,561.10 L477.41,556.70 M485.90,554.50 L485.90,563.30 M482.09,556.70 L489.71,561.10 M482.09,561.10 L489.71,556.70 M498.20,554.50 L498.20,563.30 M494.39,556.70 L502.01,561.10 M494.39,561.10 L502.01,556.70 M510.50,554.50 L510.50,563.30 M506.69,556.70 L514.31,561.10 M506.69,561.10 L514.31,556.70 " stroke="#000" stroke-width="1.9" stroke-linecap="round" fill="none"/><text x="0" y="0" font-size="22.5" font-weight="bold" text-anchor="middle" dominant-baseline="central" transform="translate(324.5,703.9) rotate(-90)">HLA-DR<tspan dy="-9" font-size="15">+</tspan><tspan dy="9"> CD4<tspan dy="-9" font-size="15">+</tspan><tspan dy="9"> T (%)</tspan></tspan></text><text x="443.8" y="868.5" font-size="18.5" font-weight="bold" text-anchor="middle">AIM<tspan dy="-8" font-size="13">+</tspan><tspan dy="8"> T</tspan></text><text x="540.7" y="868.5" font-size="18.5" font-weight="bold" text-anchor="middle">AIM<tspan dy="-8" font-size="13">-</tspan><tspan dy="8"> T</tspan></text><line x1="729.8" y1="835.24" x2="826.3" y2="835.85" stroke="#808080" stroke-width="1.1" /><line x1="729.8" y1="833.89" x2="826.3" y2="833.98" stroke="#808080" stroke-width="1.1" /><line x1="729.8" y1="832.86" x2="826.3" y2="836.15" stroke="#808080" stroke-width="1.1" /><line x1="729.8" y1="831.56" x2="826.3" y2="836.38" stroke="#808080" stroke-width="1.1" /><line x1="729.8" y1="830.4" x2="826.3" y2="835.47" stroke="#808080" stroke-width="1.1" /><line x1="729.8" y1="829.63" x2="826.3" y2="835.04" stroke="#808080" stroke-width="1.1" /><line x1="729.8" y1="828.53" x2="826.3" y2="835.31" stroke="#808080" stroke-width="1.1" /><line x1="729.8" y1="826.82" x2="826.3" y2="835.15" stroke="#808080" stroke-width="1.1" /><line x1="729.8" y1="826.07" x2="826.3" y2="835.75" stroke="#808080" stroke-width="1.1" /><line x1="729.8" y1="824.94" x2="826.3" y2="835.86" stroke="#808080" stroke-width="1.1" /><line x1="729.8" y1="823.28" x2="826.3" y2="835.94" stroke="#808080" stroke-width="1.1" /><line x1="729.8" y1="822.49" x2="826.3" y2="835.73" stroke="#808080" stroke-width="1.1" /><line x1="729.8" y1="821.1" x2="826.3" y2="835.76" stroke="#808080" stroke-width="1.1" /><line x1="729.8" y1="820.2" x2="826.3" y2="834.37" stroke="#808080" stroke-width="1.1" /><line x1="729.8" y1="818.94" x2="826.3" y2="834.75" stroke="#808080" stroke-width="1.1" /><line x1="729.8" y1="818.13" x2="826.3" y2="836.02" stroke="#808080" stroke-width="1.1" /><line x1="729.8" y1="816.66" x2="826.3" y2="834.41" stroke="#808080" stroke-width="1.1" /><line x1="729.8" y1="815.35" x2="826.3" y2="835.37" stroke="#808080" stroke-width="1.1" /><line x1="729.8" y1="814.44" x2="826.3" y2="833.55" stroke="#808080" stroke-width="1.1" /><line x1="729.8" y1="813.15" x2="826.3" y2="832.96" stroke="#808080" stroke-width="1.1" /><line x1="729.8" y1="812.05" x2="826.3" y2="834.57" stroke="#808080" stroke-width="1.1" /><line x1="729.8" y1="811.32" x2="826.3" y2="836.26" stroke="#808080" stroke-width="1.1" /><line x1="729.8" y1="809.7" x2="826.3" y2="834.32" stroke="#808080" stroke-width="1.1" /><line x1="729.8" y1="808.67" x2="826.3" y2="836.2" stroke="#808080" stroke-width="1.1" /><line x1="729.8" y1="807.72" x2="826.3" y2="832.86" stroke="#808080" stroke-width="1.1" /><line x1="729.8" y1="806.76" x2="826.3" y2="835.69" stroke="#808080" stroke-width="1.1" /><line x1="729.8" y1="805.05" x2="826.3" y2="835.24" stroke="#808080" stroke-width="1.1" /><line x1="729.8" y1="804.17" x2="826.3" y2="830.45" stroke="#808080" stroke-width="1.1" /><line x1="729.8" y1="802.86" x2="826.3" y2="836.25" stroke="#808080" stroke-width="1.1" /><line x1="729.8" y1="801.61" x2="826.3" y2="834.9" stroke="#808080" stroke-width="1.1" /><line x1="729.8" y1="800.57" x2="826.3" y2="835.78" stroke="#808080" stroke-width="1.1" /><line x1="729.8" y1="799.29" x2="826.3" y2="835.45" stroke="#808080" stroke-width="1.1" /><line x1="729.8" y1="798.5" x2="826.3" y2="835.59" stroke="#808080" stroke-width="1.1" /><line x1="729.8" y1="797.08" x2="826.3" y2="833.38" stroke="#808080" stroke-width="1.1" /><line x1="729.8" y1="796.18" x2="826.3" y2="835.01" stroke="#808080" stroke-width="1.1" /><line x1="729.8" y1="794.7" x2="826.3" y2="833.97" stroke="#808080" stroke-width="1.1" /><line x1="729.8" y1="793.59" x2="826.3" y2="833.33" stroke="#808080" stroke-width="1.1" /><line x1="729.8" y1="792.98" x2="826.3" y2="835.95" stroke="#808080" stroke-width="1.1" /><line x1="729.8" y1="791.81" x2="826.3" y2="831.27" stroke="#808080" stroke-width="1.1" /><line x1="729.8" y1="790.61" x2="826.3" y2="834.89" stroke="#808080" stroke-width="1.1" /><line x1="729.8" y1="788.95" x2="826.3" y2="835.94" stroke="#808080" stroke-width="1.1" /><line x1="729.8" y1="788.17" x2="826.3" y2="835.3" stroke="#808080" stroke-width="1.1" /><line x1="729.8" y1="786.89" x2="826.3" y2="832.95" stroke="#808080" stroke-width="1.1" /><line x1="729.8" y1="785.97" x2="826.3" y2="832.74" stroke="#808080" stroke-width="1.1" /><line x1="729.8" y1="784.69" x2="826.3" y2="835.05" stroke="#808080" stroke-width="1.1" /><line x1="729.8" y1="783.62" x2="826.3" y2="833.81" stroke="#808080" stroke-width="1.1" /><line x1="729.8" y1="782.5" x2="826.3" y2="833.45" stroke="#808080" stroke-width="1.1" /><line x1="729.8" y1="781.2" x2="826.3" y2="831.89" stroke="#808080" stroke-width="1.1" /><line x1="729.8" y1="780.05" x2="826.3" y2="834.32" stroke="#808080" stroke-width="1.1" /><line x1="729.8" y1="778.69" x2="826.3" y2="831.65" stroke="#808080" stroke-width="1.1" /><line x1="729.8" y1="777.7" x2="826.3" y2="835.24" stroke="#808080" stroke-width="1.1" /><line x1="729.8" y1="776.39" x2="826.3" y2="834.95" stroke="#808080" stroke-width="1.1" /><line x1="729.8" y1="775.29" x2="826.3" y2="832.87" stroke="#808080" stroke-width="1.1" /><line x1="729.8" y1="774.05" x2="826.3" y2="832.36" stroke="#808080" stroke-width="1.1" /><line x1="729.8" y1="773.13" x2="826.3" y2="833.66" stroke="#808080" stroke-width="1.1" /><line x1="729.8" y1="772.32" x2="826.3" y2="832.81" stroke="#808080" stroke-width="1.1" /><line x1="729.8" y1="770.71" x2="826.3" y2="833.33" stroke="#808080" stroke-width="1.1" /><line x1="729.8" y1="769.49" x2="826.3" y2="831.49" stroke="#808080" stroke-width="1.1" /><line x1="729.8" y1="768.39" x2="826.3" y2="829.24" stroke="#808080" stroke-width="1.1" /><line x1="729.8" y1="767.47" x2="826.3" y2="832.66" stroke="#808080" stroke-width="1.1" /><line x1="729.8" y1="766.23" x2="826.3" y2="830.36" stroke="#808080" stroke-width="1.1" /><line x1="729.8" y1="765.42" x2="826.3" y2="833.9" stroke="#808080" stroke-width="1.1" /><line x1="729.8" y1="760.78" x2="826.3" y2="834.12" stroke="#808080" stroke-width="1.1" /><line x1="729.8" y1="754.11" x2="826.3" y2="835.87" stroke="#808080" stroke-width="1.1" /><line x1="729.8" y1="747.43" x2="826.3" y2="832.13" stroke="#808080" stroke-width="1.1" /><line x1="729.8" y1="740.76" x2="826.3" y2="833.11" stroke="#808080" stroke-width="1.1" /><line x1="729.8" y1="734.09" x2="826.3" y2="830.67" stroke="#808080" stroke-width="1.1" /><line x1="729.8" y1="727.42" x2="826.3" y2="835.66" stroke="#808080" stroke-width="1.1" /><line x1="729.8" y1="722.97" x2="826.3" y2="833.77" stroke="#808080" stroke-width="1.1" /><line x1="729.8" y1="716.29" x2="826.3" y2="833.78" stroke="#808080" stroke-width="1.1" /><line x1="729.8" y1="709.62" x2="826.3" y2="835.46" stroke="#808080" stroke-width="1.1" /><line x1="729.8" y1="702.95" x2="826.3" y2="829.16" stroke="#808080" stroke-width="1.1" /><line x1="729.8" y1="698.5" x2="826.3" y2="825.17" stroke="#808080" stroke-width="1.1" /><line x1="729.8" y1="694.05" x2="826.3" y2="834.82" stroke="#808080" stroke-width="1.1" /><line x1="729.8" y1="689.61" x2="826.3" y2="829.99" stroke="#808080" stroke-width="1.1" /><line x1="729.8" y1="685.6" x2="826.3" y2="823.05" stroke="#808080" stroke-width="1.1" /><line x1="729.8" y1="682.49" x2="826.3" y2="834.63" stroke="#808080" stroke-width="1.1" /><line x1="729.8" y1="659.36" x2="826.3" y2="828.91" stroke="#808080" stroke-width="1.1" /><line x1="729.8" y1="616.21" x2="826.3" y2="824.83" stroke="#808080" stroke-width="1.1" /><line x1="729.8" y1="613.09" x2="826.3" y2="814.6" stroke="#808080" stroke-width="1.1" /><line x1="666.1" y1="567.85" x2="666.1" y2="838.05" stroke="#000" stroke-width="3.3" stroke-linecap="butt"/><line x1="655.1" y1="836.4" x2="891.6" y2="836.4" stroke="#000" stroke-width="3.3" /><line x1="655.1" y1="836.4" x2="666.1" y2="836.4" stroke="#000" stroke-width="3.3" /><text x="653.5" y="844.3" font-size="18.5" font-weight="bold" text-anchor="end" fill="#000" >0</text><line x1="655.1" y1="747.43" x2="666.1" y2="747.43" stroke="#000" stroke-width="3.3" /><text x="653.5" y="755.33" font-size="18.5" font-weight="bold" text-anchor="end" fill="#000" >20</text><line x1="655.1" y1="658.47" x2="666.1" y2="658.47" stroke="#000" stroke-width="3.3" /><text x="653.5" y="666.37" font-size="18.5" font-weight="bold" text-anchor="end" fill="#000" >40</text><line x1="655.1" y1="569.5" x2="666.1" y2="569.5" stroke="#000" stroke-width="3.3" /><text x="653.5" y="577.4" font-size="18.5" font-weight="bold" text-anchor="end" fill="#000" >60</text><line x1="729.8" y1="836.4" x2="729.8" y2="848.05" stroke="#000" stroke-width="3.3" /><line x1="826.3" y1="836.4" x2="826.3" y2="848.05" stroke="#000" stroke-width="3.3" /><circle cx="729.8" cy="835.24" r="3.4" fill="none" stroke="#8F5D1B" stroke-width="3.1"/><circle cx="729.8" cy="833.89" r="3.4" fill="none" stroke="#8F5D1B" stroke-width="3.1"/><circle cx="729.8" cy="832.86" r="3.4" fill="none" stroke="#8F5D1B" stroke-width="3.1"/><circle cx="729.8" cy="831.56" r="3.4" fill="none" stroke="#8F5D1B" stroke-width="3.1"/><circle cx="729.8" cy="830.4" r="3.4" fill="none" stroke="#8F5D1B" stroke-width="3.1"/><circle cx="729.8" cy="829.63" r="3.4" fill="none" stroke="#8F5D1B" stroke-width="3.1"/><circle cx="729.8" cy="828.53" r="3.4" fill="none" stroke="#8F5D1B" stroke-width="3.1"/><circle cx="729.8" cy="826.82" r="3.4" fill="none" stroke="#8F5D1B" stroke-width="3.1"/><circle cx="729.8" cy="826.07" r="3.4" fill="none" stroke="#8F5D1B" stroke-width="3.1"/><circle cx="729.8" cy="824.94" r="3.4" fill="none" stroke="#8F5D1B" stroke-width="3.1"/><circle cx="729.8" cy="823.28" r="3.4" fill="none" stroke="#8F5D1B" stroke-width="3.1"/><circle cx="729.8" cy="822.49" r="3.4" fill="none" stroke="#8F5D1B" stroke-width="3.1"/><circle cx="729.8" cy="821.1" r="3.4" fill="none" stroke="#8F5D1B" stroke-width="3.1"/><circle cx="729.8" cy="820.2" r="3.4" fill="none" stroke="#8F5D1B" stroke-width="3.1"/><circle cx="729.8" cy="818.94" r="3.4" fill="none" stroke="#8F5D1B" stroke-width="3.1"/><circle cx="729.8" cy="818.13" r="3.4" fill="none" stroke="#8F5D1B" stroke-width="3.1"/><circle cx="729.8" cy="816.66" r="3.4" fill="none" stroke="#8F5D1B" stroke-width="3.1"/><circle cx="729.8" cy="815.35" r="3.4" fill="none" stroke="#8F5D1B" stroke-width="3.1"/><circle cx="729.8" cy="814.44" r="3.4" fill="none" stroke="#8F5D1B" stroke-width="3.1"/><circle cx="729.8" cy="813.15" r="3.4" fill="none" stroke="#8F5D1B" stroke-width="3.1"/><circle cx="729.8" cy="812.05" r="3.4" fill="none" stroke="#8F5D1B" stroke-width="3.1"/><circle cx="729.8" cy="811.32" r="3.4" fill="none" stroke="#8F5D1B" stroke-width="3.1"/><circle cx="729.8" cy="809.7" r="3.4" fill="none" stroke="#8F5D1B" stroke-width="3.1"/><circle cx="729.8" cy="808.67" r="3.4" fill="none" stroke="#8F5D1B" stroke-width="3.1"/><circle cx="729.8" cy="807.72" r="3.4" fill="none" stroke="#8F5D1B" stroke-width="3.1"/><circle cx="729.8" cy="806.76" r="3.4" fill="none" stroke="#8F5D1B" stroke-width="3.1"/><circle cx="729.8" cy="805.05" r="3.4" fill="none" stroke="#8F5D1B" stroke-width="3.1"/><circle cx="729.8" cy="804.17" r="3.4" fill="none" stroke="#8F5D1B" stroke-width="3.1"/><circle cx="729.8" cy="802.86" r="3.4" fill="none" stroke="#8F5D1B" stroke-width="3.1"/><circle cx="729.8" cy="801.61" r="3.4" fill="none" stroke="#8F5D1B" stroke-width="3.1"/><circle cx="729.8" cy="800.57" r="3.4" fill="none" stroke="#8F5D1B" stroke-width="3.1"/><circle cx="729.8" cy="799.29" r="3.4" fill="none" stroke="#8F5D1B" stroke-width="3.1"/><circle cx="729.8" cy="798.5" r="3.4" fill="none" stroke="#8F5D1B" stroke-width="3.1"/><circle cx="729.8" cy="797.08" r="3.4" fill="none" stroke="#8F5D1B" stroke-width="3.1"/><circle cx="729.8" cy="796.18" r="3.4" fill="none" stroke="#8F5D1B" stroke-width="3.1"/><circle cx="729.8" cy="794.7" r="3.4" fill="none" stroke="#8F5D1B" stroke-width="3.1"/><circle cx="729.8" cy="793.59" r="3.4" fill="none" stroke="#8F5D1B" stroke-width="3.1"/><circle cx="729.8" cy="792.98" r="3.4" fill="none" stroke="#8F5D1B" stroke-width="3.1"/><circle cx="729.8" cy="791.81" r="3.4" fill="none" stroke="#8F5D1B" stroke-width="3.1"/><circle cx="729.8" cy="790.61" r="3.4" fill="none" stroke="#8F5D1B" stroke-width="3.1"/><circle cx="729.8" cy="788.95" r="3.4" fill="none" stroke="#8F5D1B" stroke-width="3.1"/><circle cx="729.8" cy="788.17" r="3.4" fill="none" stroke="#8F5D1B" stroke-width="3.1"/><circle cx="729.8" cy="786.89" r="3.4" fill="none" stroke="#8F5D1B" stroke-width="3.1"/><circle cx="729.8" cy="785.97" r="3.4" fill="none" stroke="#8F5D1B" stroke-width="3.1"/><circle cx="729.8" cy="784.69" r="3.4" fill="none" stroke="#8F5D1B" stroke-width="3.1"/><circle cx="729.8" cy="783.62" r="3.4" fill="none" stroke="#8F5D1B" stroke-width="3.1"/><circle cx="729.8" cy="782.5" r="3.4" fill="none" stroke="#8F5D1B" stroke-width="3.1"/><circle cx="729.8" cy="781.2" r="3.4" fill="none" stroke="#8F5D1B" stroke-width="3.1"/><circle cx="729.8" cy="780.05" r="3.4" fill="none" stroke="#8F5D1B" stroke-width="3.1"/><circle cx="729.8" cy="778.69" r="3.4" fill="none" stroke="#8F5D1B" stroke-width="3.1"/><circle cx="729.8" cy="777.7" r="3.4" fill="none" stroke="#8F5D1B" stroke-width="3.1"/><circle cx="729.8" cy="776.39" r="3.4" fill="none" stroke="#8F5D1B" stroke-width="3.1"/><circle cx="729.8" cy="775.29" r="3.4" fill="none" stroke="#8F5D1B" stroke-width="3.1"/><circle cx="729.8" cy="774.05" r="3.4" fill="none" stroke="#8F5D1B" stroke-width="3.1"/><circle cx="729.8" cy="773.13" r="3.4" fill="none" stroke="#8F5D1B" stroke-width="3.1"/><circle cx="729.8" cy="772.32" r="3.4" fill="none" stroke="#8F5D1B" stroke-width="3.1"/><circle cx="729.8" cy="770.71" r="3.4" fill="none" stroke="#8F5D1B" stroke-width="3.1"/><circle cx="729.8" cy="769.49" r="3.4" fill="none" stroke="#8F5D1B" stroke-width="3.1"/><circle cx="729.8" cy="768.39" r="3.4" fill="none" stroke="#8F5D1B" stroke-width="3.1"/><circle cx="729.8" cy="767.47" r="3.4" fill="none" stroke="#8F5D1B" stroke-width="3.1"/><circle cx="729.8" cy="766.23" r="3.4" fill="none" stroke="#8F5D1B" stroke-width="3.1"/><circle cx="729.8" cy="765.42" r="3.4" fill="none" stroke="#8F5D1B" stroke-width="3.1"/><circle cx="729.8" cy="760.78" r="3.4" fill="none" stroke="#8F5D1B" stroke-width="3.1"/><circle cx="729.8" cy="754.11" r="3.4" fill="none" stroke="#8F5D1B" stroke-width="3.1"/><circle cx="729.8" cy="747.43" r="3.4" fill="none" stroke="#8F5D1B" stroke-width="3.1"/><circle cx="729.8" cy="740.76" r="3.4" fill="none" stroke="#8F5D1B" stroke-width="3.1"/><circle cx="729.8" cy="734.09" r="3.4" fill="none" stroke="#8F5D1B" stroke-width="3.1"/><circle cx="729.8" cy="727.42" r="3.4" fill="none" stroke="#8F5D1B" stroke-width="3.1"/><circle cx="729.8" cy="722.97" r="3.4" fill="none" stroke="#8F5D1B" stroke-width="3.1"/><circle cx="729.8" cy="716.29" r="3.4" fill="none" stroke="#8F5D1B" stroke-width="3.1"/><circle cx="729.8" cy="709.62" r="3.4" fill="none" stroke="#8F5D1B" stroke-width="3.1"/><circle cx="729.8" cy="702.95" r="3.4" fill="none" stroke="#8F5D1B" stroke-width="3.1"/><circle cx="729.8" cy="698.5" r="3.4" fill="none" stroke="#8F5D1B" stroke-width="3.1"/><circle cx="729.8" cy="694.05" r="3.4" fill="none" stroke="#8F5D1B" stroke-width="3.1"/><circle cx="729.8" cy="689.61" r="3.4" fill="none" stroke="#8F5D1B" stroke-width="3.1"/><circle cx="729.8" cy="685.6" r="3.4" fill="none" stroke="#8F5D1B" stroke-width="3.1"/><circle cx="729.8" cy="682.49" r="3.4" fill="none" stroke="#8F5D1B" stroke-width="3.1"/><circle cx="729.8" cy="659.36" r="3.4" fill="none" stroke="#8F5D1B" stroke-width="3.1"/><circle cx="729.8" cy="616.21" r="3.4" fill="none" stroke="#8F5D1B" stroke-width="3.1"/><circle cx="729.8" cy="613.09" r="3.4" fill="none" stroke="#8F5D1B" stroke-width="3.1"/><circle cx="826.3" cy="835.85" r="3.4" fill="none" stroke="#8F5D1B" stroke-width="3.1"/><circle cx="826.3" cy="833.98" r="3.4" fill="none" stroke="#8F5D1B" stroke-width="3.1"/><circle cx="826.3" cy="836.15" r="3.4" fill="none" stroke="#8F5D1B" stroke-width="3.1"/><circle cx="826.3" cy="836.38" r="3.4" fill="none" stroke="#8F5D1B" stroke-width="3.1"/><circle cx="826.3" cy="835.47" r="3.4" fill="none" stroke="#8F5D1B" stroke-width="3.1"/><circle cx="826.3" cy="835.04" r="3.4" fill="none" stroke="#8F5D1B" stroke-width="3.1"/><circle cx="826.3" cy="835.31" r="3.4" fill="none" stroke="#8F5D1B" stroke-width="3.1"/><circle cx="826.3" cy="835.15" r="3.4" fill="none" stroke="#8F5D1B" stroke-width="3.1"/><circle cx="826.3" cy="835.75" r="3.4" fill="none" stroke="#8F5D1B" stroke-width="3.1"/><circle cx="826.3" cy="835.86" r="3.4" fill="none" stroke="#8F5D1B" stroke-width="3.1"/><circle cx="826.3" cy="835.94" r="3.4" fill="none" stroke="#8F5D1B" stroke-width="3.1"/><circle cx="826.3" cy="835.73" r="3.4" fill="none" stroke="#8F5D1B" stroke-width="3.1"/><circle cx="826.3" cy="835.76" r="3.4" fill="none" stroke="#8F5D1B" stroke-width="3.1"/><circle cx="826.3" cy="834.37" r="3.4" fill="none" stroke="#8F5D1B" stroke-width="3.1"/><circle cx="826.3" cy="834.75" r="3.4" fill="none" stroke="#8F5D1B" stroke-width="3.1"/><circle cx="826.3" cy="836.02" r="3.4" fill="none" stroke="#8F5D1B" stroke-width="3.1"/><circle cx="826.3" cy="834.41" r="3.4" fill="none" stroke="#8F5D1B" stroke-width="3.1"/><circle cx="826.3" cy="835.37" r="3.4" fill="none" stroke="#8F5D1B" stroke-width="3.1"/><circle cx="826.3" cy="833.55" r="3.4" fill="none" stroke="#8F5D1B" stroke-width="3.1"/><circle cx="826.3" cy="832.96" r="3.4" fill="none" stroke="#8F5D1B" stroke-width="3.1"/><circle cx="826.3" cy="834.57" r="3.4" fill="none" stroke="#8F5D1B" stroke-width="3.1"/><circle cx="826.3" cy="836.26" r="3.4" fill="none" stroke="#8F5D1B" stroke-width="3.1"/><circle cx="826.3" cy="834.32" r="3.4" fill="none" stroke="#8F5D1B" stroke-width="3.1"/><circle cx="826.3" cy="836.2" r="3.4" fill="none" stroke="#8F5D1B" stroke-width="3.1"/><circle cx="826.3" cy="832.86" r="3.4" fill="none" stroke="#8F5D1B" stroke-width="3.1"/><circle cx="826.3" cy="835.69" r="3.4" fill="none" stroke="#8F5D1B" stroke-width="3.1"/><circle cx="826.3" cy="835.24" r="3.4" fill="none" stroke="#8F5D1B" stroke-width="3.1"/><circle cx="826.3" cy="830.45" r="3.4" fill="none" stroke="#8F5D1B" stroke-width="3.1"/><circle cx="826.3" cy="836.25" r="3.4" fill="none" stroke="#8F5D1B" stroke-width="3.1"/><circle cx="826.3" cy="834.9" r="3.4" fill="none" stroke="#8F5D1B" stroke-width="3.1"/><circle cx="826.3" cy="835.78" r="3.4" fill="none" stroke="#8F5D1B" stroke-width="3.1"/><circle cx="826.3" cy="835.45" r="3.4" fill="none" stroke="#8F5D1B" stroke-width="3.1"/><circle cx="826.3" cy="835.59" r="3.4" fill="none" stroke="#8F5D1B" stroke-width="3.1"/><circle cx="826.3" cy="833.38" r="3.4" fill="none" stroke="#8F5D1B" stroke-width="3.1"/><circle cx="826.3" cy="835.01" r="3.4" fill="none" stroke="#8F5D1B" stroke-width="3.1"/><circle cx="826.3" cy="833.97" r="3.4" fill="none" stroke="#8F5D1B" stroke-width="3.1"/><circle cx="826.3" cy="833.33" r="3.4" fill="none" stroke="#8F5D1B" stroke-width="3.1"/><circle cx="826.3" cy="835.95" r="3.4" fill="none" stroke="#8F5D1B" stroke-width="3.1"/><circle cx="826.3" cy="831.27" r="3.4" fill="none" stroke="#8F5D1B" stroke-width="3.1"/><circle cx="826.3" cy="834.89" r="3.4" fill="none" stroke="#8F5D1B" stroke-width="3.1"/><circle cx="826.3" cy="835.94" r="3.4" fill="none" stroke="#8F5D1B" stroke-width="3.1"/><circle cx="826.3" cy="835.3" r="3.4" fill="none" stroke="#8F5D1B" stroke-width="3.1"/><circle cx="826.3" cy="832.95" r="3.4" fill="none" stroke="#8F5D1B" stroke-width="3.1"/><circle cx="826.3" cy="832.74" r="3.4" fill="none" stroke="#8F5D1B" stroke-width="3.1"/><circle cx="826.3" cy="835.05" r="3.4" fill="none" stroke="#8F5D1B" stroke-width="3.1"/><circle cx="826.3" cy="833.81" r="3.4" fill="none" stroke="#8F5D1B" stroke-width="3.1"/><circle cx="826.3" cy="833.45" r="3.4" fill="none" stroke="#8F5D1B" stroke-width="3.1"/><circle cx="826.3" cy="831.89" r="3.4" fill="none" stroke="#8F5D1B" stroke-width="3.1"/><circle cx="826.3" cy="834.32" r="3.4" fill="none" stroke="#8F5D1B" stroke-width="3.1"/><circle cx="826.3" cy="831.65" r="3.4" fill="none" stroke="#8F5D1B" stroke-width="3.1"/><circle cx="826.3" cy="835.24" r="3.4" fill="none" stroke="#8F5D1B" stroke-width="3.1"/><circle cx="826.3" cy="834.95" r="3.4" fill="none" stroke="#8F5D1B" stroke-width="3.1"/><circle cx="826.3" cy="832.87" r="3.4" fill="none" stroke="#8F5D1B" stroke-width="3.1"/><circle cx="826.3" cy="832.36" r="3.4" fill="none" stroke="#8F5D1B" stroke-width="3.1"/><circle cx="826.3" cy="833.66" r="3.4" fill="none" stroke="#8F5D1B" stroke-width="3.1"/><circle cx="826.3" cy="832.81" r="3.4" fill="none" stroke="#8F5D1B" stroke-width="3.1"/><circle cx="826.3" cy="833.33" r="3.4" fill="none" stroke="#8F5D1B" stroke-width="3.1"/><circle cx="826.3" cy="831.49" r="3.4" fill="none" stroke="#8F5D1B" stroke-width="3.1"/><circle cx="826.3" cy="829.24" r="3.4" fill="none" stroke="#8F5D1B" stroke-width="3.1"/><circle cx="826.3" cy="832.66" r="3.4" fill="none" stroke="#8F5D1B" stroke-width="3.1"/><circle cx="826.3" cy="830.36" r="3.4" fill="none" stroke="#8F5D1B" stroke-width="3.1"/><circle cx="826.3" cy="833.9" r="3.4" fill="none" stroke="#8F5D1B" stroke-width="3.1"/><circle cx="826.3" cy="834.12" r="3.4" fill="none" stroke="#8F5D1B" stroke-width="3.1"/><circle cx="826.3" cy="835.87" r="3.4" fill="none" stroke="#8F5D1B" stroke-width="3.1"/><circle cx="826.3" cy="832.13" r="3.4" fill="none" stroke="#8F5D1B" stroke-width="3.1"/><circle cx="826.3" cy="833.11" r="3.4" fill="none" stroke="#8F5D1B" stroke-width="3.1"/><circle cx="826.3" cy="830.67" r="3.4" fill="none" stroke="#8F5D1B" stroke-width="3.1"/><circle cx="826.3" cy="835.66" r="3.4" fill="none" stroke="#8F5D1B" stroke-width="3.1"/><circle cx="826.3" cy="833.77" r="3.4" fill="none" stroke="#8F5D1B" stroke-width="3.1"/><circle cx="826.3" cy="833.78" r="3.4" fill="none" stroke="#8F5D1B" stroke-width="3.1"/><circle cx="826.3" cy="835.46" r="3.4" fill="none" stroke="#8F5D1B" stroke-width="3.1"/><circle cx="826.3" cy="829.16" r="3.4" fill="none" stroke="#8F5D1B" stroke-width="3.1"/><circle cx="826.3" cy="825.17" r="3.4" fill="none" stroke="#8F5D1B" stroke-width="3.1"/><circle cx="826.3" cy="834.82" r="3.4" fill="none" stroke="#8F5D1B" stroke-width="3.1"/><circle cx="826.3" cy="829.99" r="3.4" fill="none" stroke="#8F5D1B" stroke-width="3.1"/><circle cx="826.3" cy="823.05" r="3.4" fill="none" stroke="#8F5D1B" stroke-width="3.1"/><circle cx="826.3" cy="834.63" r="3.4" fill="none" stroke="#8F5D1B" stroke-width="3.1"/><circle cx="826.3" cy="828.91" r="3.4" fill="none" stroke="#8F5D1B" stroke-width="3.1"/><circle cx="826.3" cy="824.83" r="3.4" fill="none" stroke="#8F5D1B" stroke-width="3.1"/><circle cx="826.3" cy="814.6" r="3.4" fill="none" stroke="#8F5D1B" stroke-width="3.1"/><text x="777.5" y="537.5" font-size="24" font-weight="bold" text-anchor="middle">Ki67<tspan dy="-10" font-size="16">+</tspan><tspan dy="10"> T</tspan></text><line x1="727" y1="583.7" x2="829" y2="583.7" stroke="#000" stroke-width="1.4" /><path d="M759.55,566.10 L759.55,574.90 M755.74,568.30 L763.36,572.70 M755.74,572.70 L763.36,568.30 M771.85,566.10 L771.85,574.90 M768.04,568.30 L775.66,572.70 M768.04,572.70 L775.66,568.30 M784.15,566.10 L784.15,574.90 M780.34,568.30 L787.96,572.70 M780.34,572.70 L787.96,568.30 M796.45,566.10 L796.45,574.90 M792.64,568.30 L800.26,572.70 M792.64,572.70 L800.26,568.30 " stroke="#000" stroke-width="1.9" stroke-linecap="round" fill="none"/><text x="0" y="0" font-size="22.5" font-weight="bold" text-anchor="middle" dominant-baseline="central" transform="translate(610,703.9) rotate(-90)">Ki67<tspan dy="-9" font-size="15">+</tspan><tspan dy="9"> CD4<tspan dy="-9" font-size="15">+</tspan><tspan dy="9"> T (%)</tspan></tspan></text><text x="729.8" y="868.5" font-size="18.5" font-weight="bold" text-anchor="middle">AIM<tspan dy="-8" font-size="13">+</tspan><tspan dy="8"> T</tspan></text><text x="826.3" y="868.5" font-size="18.5" font-weight="bold" text-anchor="middle">AIM<tspan dy="-8" font-size="13">-</tspan><tspan dy="8"> T</tspan></text><line x1="1016.5" y1="822.39" x2="1112.7" y2="828.23" stroke="#808080" stroke-width="1.1" /><line x1="1016.5" y1="813.05" x2="1112.7" y2="830.09" stroke="#808080" stroke-width="1.1" /><line x1="1016.5" y1="809.71" x2="1112.7" y2="836.02" stroke="#808080" stroke-width="1.1" /><line x1="1016.5" y1="804.37" x2="1112.7" y2="836.05" stroke="#808080" stroke-width="1.1" /><line x1="1016.5" y1="799.7" x2="1112.7" y2="834.16" stroke="#808080" stroke-width="1.1" /><line x1="1016.5" y1="792.36" x2="1112.7" y2="831.52" stroke="#808080" stroke-width="1.1" /><line x1="1016.5" y1="786.53" x2="1112.7" y2="834.15" stroke="#808080" stroke-width="1.1" /><line x1="1016.5" y1="785.5" x2="1112.7" y2="835.79" stroke="#808080" stroke-width="1.1" /><line x1="1016.5" y1="784.19" x2="1112.7" y2="834.75" stroke="#808080" stroke-width="1.1" /><line x1="1016.5" y1="783.24" x2="1112.7" y2="817.44" stroke="#808080" stroke-width="1.1" /><line x1="1016.5" y1="782.18" x2="1112.7" y2="835.42" stroke="#808080" stroke-width="1.1" /><line x1="1016.5" y1="780.84" x2="1112.7" y2="825.7" stroke="#808080" stroke-width="1.1" /><line x1="1016.5" y1="779.39" x2="1112.7" y2="831.68" stroke="#808080" stroke-width="1.1" /><line x1="1016.5" y1="778.35" x2="1112.7" y2="831.69" stroke="#808080" stroke-width="1.1" /><line x1="1016.5" y1="777.26" x2="1112.7" y2="826.9" stroke="#808080" stroke-width="1.1" /><line x1="1016.5" y1="776.5" x2="1112.7" y2="834.64" stroke="#808080" stroke-width="1.1" /><line x1="1016.5" y1="775.17" x2="1112.7" y2="833.12" stroke="#808080" stroke-width="1.1" /><line x1="1016.5" y1="774.23" x2="1112.7" y2="804.08" stroke="#808080" stroke-width="1.1" /><line x1="1016.5" y1="773.18" x2="1112.7" y2="833.57" stroke="#808080" stroke-width="1.1" /><line x1="1016.5" y1="772.11" x2="1112.7" y2="833.94" stroke="#808080" stroke-width="1.1" /><line x1="1016.5" y1="770.92" x2="1112.7" y2="835.14" stroke="#808080" stroke-width="1.1" /><line x1="1016.5" y1="769.34" x2="1112.7" y2="833.54" stroke="#808080" stroke-width="1.1" /><line x1="1016.5" y1="768.29" x2="1112.7" y2="822.37" stroke="#808080" stroke-width="1.1" /><line x1="1016.5" y1="767.19" x2="1112.7" y2="812.71" stroke="#808080" stroke-width="1.1" /><line x1="1016.5" y1="766.08" x2="1112.7" y2="824.67" stroke="#808080" stroke-width="1.1" /><line x1="1016.5" y1="765.36" x2="1112.7" y2="823.65" stroke="#808080" stroke-width="1.1" /><line x1="1016.5" y1="764.17" x2="1112.7" y2="823.93" stroke="#808080" stroke-width="1.1" /><line x1="1016.5" y1="762.84" x2="1112.7" y2="827.29" stroke="#808080" stroke-width="1.1" /><line x1="1016.5" y1="761.66" x2="1112.7" y2="814.71" stroke="#808080" stroke-width="1.1" /><line x1="1016.5" y1="760.46" x2="1112.7" y2="832.02" stroke="#808080" stroke-width="1.1" /><line x1="1016.5" y1="759.33" x2="1112.7" y2="812.52" stroke="#808080" stroke-width="1.1" /><line x1="1016.5" y1="758.74" x2="1112.7" y2="830.89" stroke="#808080" stroke-width="1.1" /><line x1="1016.5" y1="757.28" x2="1112.7" y2="835.08" stroke="#808080" stroke-width="1.1" /><line x1="1016.5" y1="756.12" x2="1112.7" y2="834.69" stroke="#808080" stroke-width="1.1" /><line x1="1016.5" y1="755.11" x2="1112.7" y2="831.31" stroke="#808080" stroke-width="1.1" /><line x1="1016.5" y1="754.21" x2="1112.7" y2="832.54" stroke="#808080" stroke-width="1.1" /><line x1="1016.5" y1="752.9" x2="1112.7" y2="834.28" stroke="#808080" stroke-width="1.1" /><line x1="1016.5" y1="752.04" x2="1112.7" y2="832.67" stroke="#808080" stroke-width="1.1" /><line x1="1016.5" y1="750.37" x2="1112.7" y2="825.46" stroke="#808080" stroke-width="1.1" /><line x1="1016.5" y1="749.3" x2="1112.7" y2="819.06" stroke="#808080" stroke-width="1.1" /><line x1="1016.5" y1="748.39" x2="1112.7" y2="808.12" stroke="#808080" stroke-width="1.1" /><line x1="1016.5" y1="747.44" x2="1112.7" y2="832.59" stroke="#808080" stroke-width="1.1" /><line x1="1016.5" y1="745.92" x2="1112.7" y2="817.21" stroke="#808080" stroke-width="1.1" /><line x1="1016.5" y1="745.03" x2="1112.7" y2="801.26" stroke="#808080" stroke-width="1.1" /><line x1="1016.5" y1="743.71" x2="1112.7" y2="816.91" stroke="#808080" stroke-width="1.1" /><line x1="1016.5" y1="742.61" x2="1112.7" y2="797.2" stroke="#808080" stroke-width="1.1" /><line x1="1016.5" y1="741.72" x2="1112.7" y2="829.56" stroke="#808080" stroke-width="1.1" /><line x1="1016.5" y1="740.67" x2="1112.7" y2="821.07" stroke="#808080" stroke-width="1.1" /><line x1="1016.5" y1="739.43" x2="1112.7" y2="817.23" stroke="#808080" stroke-width="1.1" /><line x1="1016.5" y1="738.43" x2="1112.7" y2="828.72" stroke="#808080" stroke-width="1.1" /><line x1="1016.5" y1="737.49" x2="1112.7" y2="820.46" stroke="#808080" stroke-width="1.1" /><line x1="1016.5" y1="736.28" x2="1112.7" y2="815.17" stroke="#808080" stroke-width="1.1" /><line x1="1016.5" y1="734.83" x2="1112.7" y2="819.7" stroke="#808080" stroke-width="1.1" /><line x1="1016.5" y1="734.22" x2="1112.7" y2="826.87" stroke="#808080" stroke-width="1.1" /><line x1="1016.5" y1="733.1" x2="1112.7" y2="826.14" stroke="#808080" stroke-width="1.1" /><line x1="1016.5" y1="731.6" x2="1112.7" y2="817.38" stroke="#808080" stroke-width="1.1" /><line x1="1016.5" y1="730.71" x2="1112.7" y2="833.24" stroke="#808080" stroke-width="1.1" /><line x1="1016.5" y1="729.43" x2="1112.7" y2="811.34" stroke="#808080" stroke-width="1.1" /><line x1="1016.5" y1="728.36" x2="1112.7" y2="831.91" stroke="#808080" stroke-width="1.1" /><line x1="1016.5" y1="727.33" x2="1112.7" y2="817.8" stroke="#808080" stroke-width="1.1" /><line x1="1016.5" y1="725.78" x2="1112.7" y2="831.91" stroke="#808080" stroke-width="1.1" /><line x1="1016.5" y1="725.19" x2="1112.7" y2="808.56" stroke="#808080" stroke-width="1.1" /><line x1="1016.5" y1="723.93" x2="1112.7" y2="819.91" stroke="#808080" stroke-width="1.1" /><line x1="1016.5" y1="722.96" x2="1112.7" y2="815.41" stroke="#808080" stroke-width="1.1" /><line x1="1016.5" y1="721.56" x2="1112.7" y2="825.72" stroke="#808080" stroke-width="1.1" /><line x1="1016.5" y1="720.68" x2="1112.7" y2="804.85" stroke="#808080" stroke-width="1.1" /><line x1="1016.5" y1="719.51" x2="1112.7" y2="796.37" stroke="#808080" stroke-width="1.1" /><line x1="1016.5" y1="718.13" x2="1112.7" y2="832.92" stroke="#808080" stroke-width="1.1" /><line x1="1016.5" y1="710.29" x2="1112.7" y2="798.54" stroke="#808080" stroke-width="1.1" /><line x1="1016.5" y1="706.29" x2="1112.7" y2="799.5" stroke="#808080" stroke-width="1.1" /><line x1="1016.5" y1="699.61" x2="1112.7" y2="814.83" stroke="#808080" stroke-width="1.1" /><line x1="1016.5" y1="692.27" x2="1112.7" y2="829.29" stroke="#808080" stroke-width="1.1" /><line x1="1016.5" y1="686.94" x2="1112.7" y2="782.35" stroke="#808080" stroke-width="1.1" /><line x1="1016.5" y1="663.58" x2="1112.7" y2="798.94" stroke="#808080" stroke-width="1.1" /><line x1="1016.5" y1="624.88" x2="1112.7" y2="796.37" stroke="#808080" stroke-width="1.1" /><line x1="1016.5" y1="584.18" x2="1112.7" y2="810.69" stroke="#808080" stroke-width="1.1" /><line x1="951.8" y1="567.85" x2="951.8" y2="838.05" stroke="#000" stroke-width="3.3" stroke-linecap="butt"/><line x1="940.8" y1="836.4" x2="1178" y2="836.4" stroke="#000" stroke-width="3.3" /><line x1="940.8" y1="836.4" x2="951.8" y2="836.4" stroke="#000" stroke-width="3.3" /><text x="939.2" y="844.3" font-size="18.5" font-weight="bold" text-anchor="end" fill="#000" >0</text><line x1="940.8" y1="769.67" x2="951.8" y2="769.67" stroke="#000" stroke-width="3.3" /><text x="939.2" y="777.57" font-size="18.5" font-weight="bold" text-anchor="end" fill="#000" >10</text><line x1="940.8" y1="702.95" x2="951.8" y2="702.95" stroke="#000" stroke-width="3.3" /><text x="939.2" y="710.85" font-size="18.5" font-weight="bold" text-anchor="end" fill="#000" >20</text><line x1="940.8" y1="636.23" x2="951.8" y2="636.23" stroke="#000" stroke-width="3.3" /><text x="939.2" y="644.12" font-size="18.5" font-weight="bold" text-anchor="end" fill="#000" >30</text><line x1="940.8" y1="569.5" x2="951.8" y2="569.5" stroke="#000" stroke-width="3.3" /><text x="939.2" y="577.4" font-size="18.5" font-weight="bold" text-anchor="end" fill="#000" >40</text><line x1="1016.5" y1="836.4" x2="1016.5" y2="848.05" stroke="#000" stroke-width="3.3" /><line x1="1112.7" y1="836.4" x2="1112.7" y2="848.05" stroke="#000" stroke-width="3.3" /><circle cx="1016.5" cy="822.39" r="3.4" fill="none" stroke="#8F5D1B" stroke-width="3.1"/><circle cx="1016.5" cy="813.05" r="3.4" fill="none" stroke="#8F5D1B" stroke-width="3.1"/><circle cx="1016.5" cy="809.71" r="3.4" fill="none" stroke="#8F5D1B" stroke-width="3.1"/><circle cx="1016.5" cy="804.37" r="3.4" fill="none" stroke="#8F5D1B" stroke-width="3.1"/><circle cx="1016.5" cy="799.7" r="3.4" fill="none" stroke="#8F5D1B" stroke-width="3.1"/><circle cx="1016.5" cy="792.36" r="3.4" fill="none" stroke="#8F5D1B" stroke-width="3.1"/><circle cx="1016.5" cy="786.53" r="3.4" fill="none" stroke="#8F5D1B" stroke-width="3.1"/><circle cx="1016.5" cy="785.5" r="3.4" fill="none" stroke="#8F5D1B" stroke-width="3.1"/><circle cx="1016.5" cy="784.19" r="3.4" fill="none" stroke="#8F5D1B" stroke-width="3.1"/><circle cx="1016.5" cy="783.24" r="3.4" fill="none" stroke="#8F5D1B" stroke-width="3.1"/><circle cx="1016.5" cy="782.18" r="3.4" fill="none" stroke="#8F5D1B" stroke-width="3.1"/><circle cx="1016.5" cy="780.84" r="3.4" fill="none" stroke="#8F5D1B" stroke-width="3.1"/><circle cx="1016.5" cy="779.39" r="3.4" fill="none" stroke="#8F5D1B" stroke-width="3.1"/><circle cx="1016.5" cy="778.35" r="3.4" fill="none" stroke="#8F5D1B" stroke-width="3.1"/><circle cx="1016.5" cy="777.26" r="3.4" fill="none" stroke="#8F5D1B" stroke-width="3.1"/><circle cx="1016.5" cy="776.5" r="3.4" fill="none" stroke="#8F5D1B" stroke-width="3.1"/><circle cx="1016.5" cy="775.17" r="3.4" fill="none" stroke="#8F5D1B" stroke-width="3.1"/><circle cx="1016.5" cy="774.23" r="3.4" fill="none" stroke="#8F5D1B" stroke-width="3.1"/><circle cx="1016.5" cy="773.18" r="3.4" fill="none" stroke="#8F5D1B" stroke-width="3.1"/><circle cx="1016.5" cy="772.11" r="3.4" fill="none" stroke="#8F5D1B" stroke-width="3.1"/><circle cx="1016.5" cy="770.92" r="3.4" fill="none" stroke="#8F5D1B" stroke-width="3.1"/><circle cx="1016.5" cy="769.34" r="3.4" fill="none" stroke="#8F5D1B" stroke-width="3.1"/><circle cx="1016.5" cy="768.29" r="3.4" fill="none" stroke="#8F5D1B" stroke-width="3.1"/><circle cx="1016.5" cy="767.19" r="3.4" fill="none" stroke="#8F5D1B" stroke-width="3.1"/><circle cx="1016.5" cy="766.08" r="3.4" fill="none" stroke="#8F5D1B" stroke-width="3.1"/><circle cx="1016.5" cy="765.36" r="3.4" fill="none" stroke="#8F5D1B" stroke-width="3.1"/><circle cx="1016.5" cy="764.17" r="3.4" fill="none" stroke="#8F5D1B" stroke-width="3.1"/><circle cx="1016.5" cy="762.84" r="3.4" fill="none" stroke="#8F5D1B" stroke-width="3.1"/><circle cx="1016.5" cy="761.66" r="3.4" fill="none" stroke="#8F5D1B" stroke-width="3.1"/><circle cx="1016.5" cy="760.46" r="3.4" fill="none" stroke="#8F5D1B" stroke-width="3.1"/><circle cx="1016.5" cy="759.33" r="3.4" fill="none" stroke="#8F5D1B" stroke-width="3.1"/><circle cx="1016.5" cy="758.74" r="3.4" fill="none" stroke="#8F5D1B" stroke-width="3.1"/><circle cx="1016.5" cy="757.28" r="3.4" fill="none" stroke="#8F5D1B" stroke-width="3.1"/><circle cx="1016.5" cy="756.12" r="3.4" fill="none" stroke="#8F5D1B" stroke-width="3.1"/><circle cx="1016.5" cy="755.11" r="3.4" fill="none" stroke="#8F5D1B" stroke-width="3.1"/><circle cx="1016.5" cy="754.21" r="3.4" fill="none" stroke="#8F5D1B" stroke-width="3.1"/><circle cx="1016.5" cy="752.9" r="3.4" fill="none" stroke="#8F5D1B" stroke-width="3.1"/><circle cx="1016.5" cy="752.04" r="3.4" fill="none" stroke="#8F5D1B" stroke-width="3.1"/><circle cx="1016.5" cy="750.37" r="3.4" fill="none" stroke="#8F5D1B" stroke-width="3.1"/><circle cx="1016.5" cy="749.3" r="3.4" fill="none" stroke="#8F5D1B" stroke-width="3.1"/><circle cx="1016.5" cy="748.39" r="3.4" fill="none" stroke="#8F5D1B" stroke-width="3.1"/><circle cx="1016.5" cy="747.44" r="3.4" fill="none" stroke="#8F5D1B" stroke-width="3.1"/><circle cx="1016.5" cy="745.92" r="3.4" fill="none" stroke="#8F5D1B" stroke-width="3.1"/><circle cx="1016.5" cy="745.03" r="3.4" fill="none" stroke="#8F5D1B" stroke-width="3.1"/><circle cx="1016.5" cy="743.71" r="3.4" fill="none" stroke="#8F5D1B" stroke-width="3.1"/><circle cx="1016.5" cy="742.61" r="3.4" fill="none" stroke="#8F5D1B" stroke-width="3.1"/><circle cx="1016.5" cy="741.72" r="3.4" fill="none" stroke="#8F5D1B" stroke-width="3.1"/><circle cx="1016.5" cy="740.67" r="3.4" fill="none" stroke="#8F5D1B" stroke-width="3.1"/><circle cx="1016.5" cy="739.43" r="3.4" fill="none" stroke="#8F5D1B" stroke-width="3.1"/><circle cx="1016.5" cy="738.43" r="3.4" fill="none" stroke="#8F5D1B" stroke-width="3.1"/><circle cx="1016.5" cy="737.49" r="3.4" fill="none" stroke="#8F5D1B" stroke-width="3.1"/><circle cx="1016.5" cy="736.28" r="3.4" fill="none" stroke="#8F5D1B" stroke-width="3.1"/><circle cx="1016.5" cy="734.83" r="3.4" fill="none" stroke="#8F5D1B" stroke-width="3.1"/><circle cx="1016.5" cy="734.22" r="3.4" fill="none" stroke="#8F5D1B" stroke-width="3.1"/><circle cx="1016.5" cy="733.1" r="3.4" fill="none" stroke="#8F5D1B" stroke-width="3.1"/><circle cx="1016.5" cy="731.6" r="3.4" fill="none" stroke="#8F5D1B" stroke-width="3.1"/><circle cx="1016.5" cy="730.71" r="3.4" fill="none" stroke="#8F5D1B" stroke-width="3.1"/><circle cx="1016.5" cy="729.43" r="3.4" fill="none" stroke="#8F5D1B" stroke-width="3.1"/><circle cx="1016.5" cy="728.36" r="3.4" fill="none" stroke="#8F5D1B" stroke-width="3.1"/><circle cx="1016.5" cy="727.33" r="3.4" fill="none" stroke="#8F5D1B" stroke-width="3.1"/><circle cx="1016.5" cy="725.78" r="3.4" fill="none" stroke="#8F5D1B" stroke-width="3.1"/><circle cx="1016.5" cy="725.19" r="3.4" fill="none" stroke="#8F5D1B" stroke-width="3.1"/><circle cx="1016.5" cy="723.93" r="3.4" fill="none" stroke="#8F5D1B" stroke-width="3.1"/><circle cx="1016.5" cy="722.96" r="3.4" fill="none" stroke="#8F5D1B" stroke-width="3.1"/><circle cx="1016.5" cy="721.56" r="3.4" fill="none" stroke="#8F5D1B" stroke-width="3.1"/><circle cx="1016.5" cy="720.68" r="3.4" fill="none" stroke="#8F5D1B" stroke-width="3.1"/><circle cx="1016.5" cy="719.51" r="3.4" fill="none" stroke="#8F5D1B" stroke-width="3.1"/><circle cx="1016.5" cy="718.13" r="3.4" fill="none" stroke="#8F5D1B" stroke-width="3.1"/><circle cx="1016.5" cy="710.29" r="3.4" fill="none" stroke="#8F5D1B" stroke-width="3.1"/><circle cx="1016.5" cy="706.29" r="3.4" fill="none" stroke="#8F5D1B" stroke-width="3.1"/><circle cx="1016.5" cy="699.61" r="3.4" fill="none" stroke="#8F5D1B" stroke-width="3.1"/><circle cx="1016.5" cy="692.27" r="3.4" fill="none" stroke="#8F5D1B" stroke-width="3.1"/><circle cx="1016.5" cy="686.94" r="3.4" fill="none" stroke="#8F5D1B" stroke-width="3.1"/><circle cx="1016.5" cy="663.58" r="3.4" fill="none" stroke="#8F5D1B" stroke-width="3.1"/><circle cx="1016.5" cy="624.88" r="3.4" fill="none" stroke="#8F5D1B" stroke-width="3.1"/><circle cx="1016.5" cy="584.18" r="3.4" fill="none" stroke="#8F5D1B" stroke-width="3.1"/><circle cx="1112.7" cy="828.23" r="3.4" fill="none" stroke="#8F5D1B" stroke-width="3.1"/><circle cx="1112.7" cy="830.09" r="3.4" fill="none" stroke="#8F5D1B" stroke-width="3.1"/><circle cx="1112.7" cy="836.02" r="3.4" fill="none" stroke="#8F5D1B" stroke-width="3.1"/><circle cx="1112.7" cy="836.05" r="3.4" fill="none" stroke="#8F5D1B" stroke-width="3.1"/><circle cx="1112.7" cy="834.16" r="3.4" fill="none" stroke="#8F5D1B" stroke-width="3.1"/><circle cx="1112.7" cy="831.52" r="3.4" fill="none" stroke="#8F5D1B" stroke-width="3.1"/><circle cx="1112.7" cy="834.15" r="3.4" fill="none" stroke="#8F5D1B" stroke-width="3.1"/><circle cx="1112.7" cy="835.79" r="3.4" fill="none" stroke="#8F5D1B" stroke-width="3.1"/><circle cx="1112.7" cy="834.75" r="3.4" fill="none" stroke="#8F5D1B" stroke-width="3.1"/><circle cx="1112.7" cy="817.44" r="3.4" fill="none" stroke="#8F5D1B" stroke-width="3.1"/><circle cx="1112.7" cy="835.42" r="3.4" fill="none" stroke="#8F5D1B" stroke-width="3.1"/><circle cx="1112.7" cy="825.7" r="3.4" fill="none" stroke="#8F5D1B" stroke-width="3.1"/><circle cx="1112.7" cy="831.68" r="3.4" fill="none" stroke="#8F5D1B" stroke-width="3.1"/><circle cx="1112.7" cy="831.69" r="3.4" fill="none" stroke="#8F5D1B" stroke-width="3.1"/><circle cx="1112.7" cy="826.9" r="3.4" fill="none" stroke="#8F5D1B" stroke-width="3.1"/><circle cx="1112.7" cy="834.64" r="3.4" fill="none" stroke="#8F5D1B" stroke-width="3.1"/><circle cx="1112.7" cy="833.12" r="3.4" fill="none" stroke="#8F5D1B" stroke-width="3.1"/><circle cx="1112.7" cy="804.08" r="3.4" fill="none" stroke="#8F5D1B" stroke-width="3.1"/><circle cx="1112.7" cy="833.57" r="3.4" fill="none" stroke="#8F5D1B" stroke-width="3.1"/><circle cx="1112.7" cy="833.94" r="3.4" fill="none" stroke="#8F5D1B" stroke-width="3.1"/><circle cx="1112.7" cy="835.14" r="3.4" fill="none" stroke="#8F5D1B" stroke-width="3.1"/><circle cx="1112.7" cy="833.54" r="3.4" fill="none" stroke="#8F5D1B" stroke-width="3.1"/><circle cx="1112.7" cy="822.37" r="3.4" fill="none" stroke="#8F5D1B" stroke-width="3.1"/><circle cx="1112.7" cy="812.71" r="3.4" fill="none" stroke="#8F5D1B" stroke-width="3.1"/><circle cx="1112.7" cy="824.67" r="3.4" fill="none" stroke="#8F5D1B" stroke-width="3.1"/><circle cx="1112.7" cy="823.65" r="3.4" fill="none" stroke="#8F5D1B" stroke-width="3.1"/><circle cx="1112.7" cy="823.93" r="3.4" fill="none" stroke="#8F5D1B" stroke-width="3.1"/><circle cx="1112.7" cy="827.29" r="3.4" fill="none" stroke="#8F5D1B" stroke-width="3.1"/><circle cx="1112.7" cy="814.71" r="3.4" fill="none" stroke="#8F5D1B" stroke-width="3.1"/><circle cx="1112.7" cy="832.02" r="3.4" fill="none" stroke="#8F5D1B" stroke-width="3.1"/><circle cx="1112.7" cy="812.52" r="3.4" fill="none" stroke="#8F5D1B" stroke-width="3.1"/><circle cx="1112.7" cy="830.89" r="3.4" fill="none" stroke="#8F5D1B" stroke-width="3.1"/><circle cx="1112.7" cy="835.08" r="3.4" fill="none" stroke="#8F5D1B" stroke-width="3.1"/><circle cx="1112.7" cy="834.69" r="3.4" fill="none" stroke="#8F5D1B" stroke-width="3.1"/><circle cx="1112.7" cy="831.31" r="3.4" fill="none" stroke="#8F5D1B" stroke-width="3.1"/><circle cx="1112.7" cy="832.54" r="3.4" fill="none" stroke="#8F5D1B" stroke-width="3.1"/><circle cx="1112.7" cy="834.28" r="3.4" fill="none" stroke="#8F5D1B" stroke-width="3.1"/><circle cx="1112.7" cy="832.67" r="3.4" fill="none" stroke="#8F5D1B" stroke-width="3.1"/><circle cx="1112.7" cy="825.46" r="3.4" fill="none" stroke="#8F5D1B" stroke-width="3.1"/><circle cx="1112.7" cy="819.06" r="3.4" fill="none" stroke="#8F5D1B" stroke-width="3.1"/><circle cx="1112.7" cy="808.12" r="3.4" fill="none" stroke="#8F5D1B" stroke-width="3.1"/><circle cx="1112.7" cy="832.59" r="3.4" fill="none" stroke="#8F5D1B" stroke-width="3.1"/><circle cx="1112.7" cy="817.21" r="3.4" fill="none" stroke="#8F5D1B" stroke-width="3.1"/><circle cx="1112.7" cy="801.26" r="3.4" fill="none" stroke="#8F5D1B" stroke-width="3.1"/><circle cx="1112.7" cy="816.91" r="3.4" fill="none" stroke="#8F5D1B" stroke-width="3.1"/><circle cx="1112.7" cy="797.2" r="3.4" fill="none" stroke="#8F5D1B" stroke-width="3.1"/><circle cx="1112.7" cy="829.56" r="3.4" fill="none" stroke="#8F5D1B" stroke-width="3.1"/><circle cx="1112.7" cy="821.07" r="3.4" fill="none" stroke="#8F5D1B" stroke-width="3.1"/><circle cx="1112.7" cy="817.23" r="3.4" fill="none" stroke="#8F5D1B" stroke-width="3.1"/><circle cx="1112.7" cy="828.72" r="3.4" fill="none" stroke="#8F5D1B" stroke-width="3.1"/><circle cx="1112.7" cy="820.46" r="3.4" fill="none" stroke="#8F5D1B" stroke-width="3.1"/><circle cx="1112.7" cy="815.17" r="3.4" fill="none" stroke="#8F5D1B" stroke-width="3.1"/><circle cx="1112.7" cy="819.7" r="3.4" fill="none" stroke="#8F5D1B" stroke-width="3.1"/><circle cx="1112.7" cy="826.87" r="3.4" fill="none" stroke="#8F5D1B" stroke-width="3.1"/><circle cx="1112.7" cy="826.14" r="3.4" fill="none" stroke="#8F5D1B" stroke-width="3.1"/><circle cx="1112.7" cy="817.38" r="3.4" fill="none" stroke="#8F5D1B" stroke-width="3.1"/><circle cx="1112.7" cy="833.24" r="3.4" fill="none" stroke="#8F5D1B" stroke-width="3.1"/><circle cx="1112.7" cy="811.34" r="3.4" fill="none" stroke="#8F5D1B" stroke-width="3.1"/><circle cx="1112.7" cy="831.91" r="3.4" fill="none" stroke="#8F5D1B" stroke-width="3.1"/><circle cx="1112.7" cy="817.8" r="3.4" fill="none" stroke="#8F5D1B" stroke-width="3.1"/><circle cx="1112.7" cy="831.91" r="3.4" fill="none" stroke="#8F5D1B" stroke-width="3.1"/><circle cx="1112.7" cy="808.56" r="3.4" fill="none" stroke="#8F5D1B" stroke-width="3.1"/><circle cx="1112.7" cy="819.91" r="3.4" fill="none" stroke="#8F5D1B" stroke-width="3.1"/><circle cx="1112.7" cy="815.41" r="3.4" fill="none" stroke="#8F5D1B" stroke-width="3.1"/><circle cx="1112.7" cy="825.72" r="3.4" fill="none" stroke="#8F5D1B" stroke-width="3.1"/><circle cx="1112.7" cy="804.85" r="3.4" fill="none" stroke="#8F5D1B" stroke-width="3.1"/><circle cx="1112.7" cy="796.37" r="3.4" fill="none" stroke="#8F5D1B" stroke-width="3.1"/><circle cx="1112.7" cy="832.92" r="3.4" fill="none" stroke="#8F5D1B" stroke-width="3.1"/><circle cx="1112.7" cy="798.54" r="3.4" fill="none" stroke="#8F5D1B" stroke-width="3.1"/><circle cx="1112.7" cy="799.5" r="3.4" fill="none" stroke="#8F5D1B" stroke-width="3.1"/><circle cx="1112.7" cy="814.83" r="3.4" fill="none" stroke="#8F5D1B" stroke-width="3.1"/><circle cx="1112.7" cy="829.29" r="3.4" fill="none" stroke="#8F5D1B" stroke-width="3.1"/><circle cx="1112.7" cy="782.35" r="3.4" fill="none" stroke="#8F5D1B" stroke-width="3.1"/><circle cx="1112.7" cy="798.94" r="3.4" fill="none" stroke="#8F5D1B" stroke-width="3.1"/><circle cx="1112.7" cy="796.37" r="3.4" fill="none" stroke="#8F5D1B" stroke-width="3.1"/><circle cx="1112.7" cy="810.69" r="3.4" fill="none" stroke="#8F5D1B" stroke-width="3.1"/><text x="1063.4" y="537.5" font-size="24" font-weight="bold" text-anchor="middle">PD-1<tspan dy="-10" font-size="16">+</tspan><tspan dy="10"> T</tspan></text><line x1="1016.5" y1="569.7" x2="1112.7" y2="569.7" stroke="#000" stroke-width="1.4" /><path d="M1046.15,552.10 L1046.15,560.90 M1042.34,554.30 L1049.96,558.70 M1042.34,558.70 L1049.96,554.30 M1058.45,552.10 L1058.45,560.90 M1054.64,554.30 L1062.26,558.70 M1054.64,558.70 L1062.26,554.30 M1070.75,552.10 L1070.75,560.90 M1066.94,554.30 L1074.56,558.70 M1066.94,558.70 L1074.56,554.30 M1083.05,552.10 L1083.05,560.90 M1079.24,554.30 L1086.86,558.70 M1079.24,558.70 L1086.86,554.30 " stroke="#000" stroke-width="1.9" stroke-linecap="round" fill="none"/><text x="0" y="0" font-size="22.5" font-weight="bold" text-anchor="middle" dominant-baseline="central" transform="translate(895.5,703.9) rotate(-90)">PD-1<tspan dy="-9" font-size="15">+</tspan><tspan dy="9"> CD4<tspan dy="-9" font-size="15">+</tspan><tspan dy="9"> T (%)</tspan></tspan></text><text x="1016.5" y="868.5" font-size="18.5" font-weight="bold" text-anchor="middle">AIM<tspan dy="-8" font-size="13">+</tspan><tspan dy="8"> T</tspan></text><text x="1112.7" y="868.5" font-size="18.5" font-weight="bold" text-anchor="middle">AIM<tspan dy="-8" font-size="13">-</tspan><tspan dy="8"> T</tspan></text><line x1="1307.3" y1="825.9" x2="1400.9" y2="836.19" stroke="#808080" stroke-width="1.1" /><line x1="1307.3" y1="824.43" x2="1400.9" y2="836.24" stroke="#808080" stroke-width="1.1" /><line x1="1307.3" y1="821.98" x2="1400.9" y2="836.23" stroke="#808080" stroke-width="1.1" /><line x1="1307.3" y1="819.71" x2="1400.9" y2="836.26" stroke="#808080" stroke-width="1.1" /><line x1="1307.3" y1="816.71" x2="1400.9" y2="836.1" stroke="#808080" stroke-width="1.1" /><line x1="1307.3" y1="814.71" x2="1400.9" y2="836.17" stroke="#808080" stroke-width="1.1" /><line x1="1307.3" y1="813.3" x2="1400.9" y2="835.61" stroke="#808080" stroke-width="1.1" /><line x1="1307.3" y1="810.3" x2="1400.9" y2="836.29" stroke="#808080" stroke-width="1.1" /><line x1="1307.3" y1="808.96" x2="1400.9" y2="834.2" stroke="#808080" stroke-width="1.1" /><line x1="1307.3" y1="806.15" x2="1400.9" y2="836.38" stroke="#808080" stroke-width="1.1" /><line x1="1307.3" y1="804.6" x2="1400.9" y2="836.1" stroke="#808080" stroke-width="1.1" /><line x1="1307.3" y1="802.57" x2="1400.9" y2="835.59" stroke="#808080" stroke-width="1.1" /><line x1="1307.3" y1="799.27" x2="1400.9" y2="836.12" stroke="#808080" stroke-width="1.1" /><line x1="1307.3" y1="797.93" x2="1400.9" y2="836.26" stroke="#808080" stroke-width="1.1" /><line x1="1307.3" y1="795.73" x2="1400.9" y2="836" stroke="#808080" stroke-width="1.1" /><line x1="1307.3" y1="792.56" x2="1400.9" y2="835.63" stroke="#808080" stroke-width="1.1" /><line x1="1307.3" y1="790.52" x2="1400.9" y2="835.16" stroke="#808080" stroke-width="1.1" /><line x1="1307.3" y1="789.08" x2="1400.9" y2="836.3" stroke="#808080" stroke-width="1.1" /><line x1="1307.3" y1="786.03" x2="1400.9" y2="835.85" stroke="#808080" stroke-width="1.1" /><line x1="1307.3" y1="784.38" x2="1400.9" y2="836.21" stroke="#808080" stroke-width="1.1" /><line x1="1307.3" y1="782.02" x2="1400.9" y2="835.19" stroke="#808080" stroke-width="1.1" /><line x1="1307.3" y1="780.44" x2="1400.9" y2="836.12" stroke="#808080" stroke-width="1.1" /><line x1="1307.3" y1="777.31" x2="1400.9" y2="835.82" stroke="#808080" stroke-width="1.1" /><line x1="1307.3" y1="775.44" x2="1400.9" y2="835.09" stroke="#808080" stroke-width="1.1" /><line x1="1307.3" y1="772.9" x2="1400.9" y2="835.95" stroke="#808080" stroke-width="1.1" /><line x1="1307.3" y1="770.8" x2="1400.9" y2="835.72" stroke="#808080" stroke-width="1.1" /><line x1="1307.3" y1="769.38" x2="1400.9" y2="836.16" stroke="#808080" stroke-width="1.1" /><line x1="1307.3" y1="767.11" x2="1400.9" y2="835.92" stroke="#808080" stroke-width="1.1" /><line x1="1307.3" y1="765.18" x2="1400.9" y2="836.3" stroke="#808080" stroke-width="1.1" /><line x1="1307.3" y1="763.01" x2="1400.9" y2="836.15" stroke="#808080" stroke-width="1.1" /><line x1="1307.3" y1="760.93" x2="1400.9" y2="835.96" stroke="#808080" stroke-width="1.1" /><line x1="1307.3" y1="758.44" x2="1400.9" y2="836.08" stroke="#808080" stroke-width="1.1" /><line x1="1307.3" y1="755.87" x2="1400.9" y2="833" stroke="#808080" stroke-width="1.1" /><line x1="1307.3" y1="754.45" x2="1400.9" y2="836.38" stroke="#808080" stroke-width="1.1" /><line x1="1307.3" y1="751.4" x2="1400.9" y2="836.31" stroke="#808080" stroke-width="1.1" /><line x1="1307.3" y1="749.64" x2="1400.9" y2="835.34" stroke="#808080" stroke-width="1.1" /><line x1="1307.3" y1="747.49" x2="1400.9" y2="835.11" stroke="#808080" stroke-width="1.1" /><line x1="1307.3" y1="744.65" x2="1400.9" y2="835.32" stroke="#808080" stroke-width="1.1" /><line x1="1307.3" y1="742.9" x2="1400.9" y2="834.61" stroke="#808080" stroke-width="1.1" /><line x1="1307.3" y1="740.92" x2="1400.9" y2="832.66" stroke="#808080" stroke-width="1.1" /><line x1="1307.3" y1="738.52" x2="1400.9" y2="835.8" stroke="#808080" stroke-width="1.1" /><line x1="1307.3" y1="736.05" x2="1400.9" y2="836.16" stroke="#808080" stroke-width="1.1" /><line x1="1307.3" y1="722.19" x2="1400.9" y2="835.55" stroke="#808080" stroke-width="1.1" /><line x1="1307.3" y1="718.39" x2="1400.9" y2="834.02" stroke="#808080" stroke-width="1.1" /><line x1="1307.3" y1="714.71" x2="1400.9" y2="834.91" stroke="#808080" stroke-width="1.1" /><line x1="1307.3" y1="710.86" x2="1400.9" y2="835.4" stroke="#808080" stroke-width="1.1" /><line x1="1307.3" y1="707.69" x2="1400.9" y2="835.07" stroke="#808080" stroke-width="1.1" /><line x1="1307.3" y1="703.77" x2="1400.9" y2="834.92" stroke="#808080" stroke-width="1.1" /><line x1="1307.3" y1="701.98" x2="1400.9" y2="836.19" stroke="#808080" stroke-width="1.1" /><line x1="1307.3" y1="697.55" x2="1400.9" y2="834.76" stroke="#808080" stroke-width="1.1" /><line x1="1307.3" y1="693.03" x2="1400.9" y2="835.77" stroke="#808080" stroke-width="1.1" /><line x1="1307.3" y1="690.05" x2="1400.9" y2="835.22" stroke="#808080" stroke-width="1.1" /><line x1="1307.3" y1="685.98" x2="1400.9" y2="835.41" stroke="#808080" stroke-width="1.1" /><line x1="1307.3" y1="683.99" x2="1400.9" y2="834.86" stroke="#808080" stroke-width="1.1" /><line x1="1307.3" y1="679.72" x2="1400.9" y2="833.85" stroke="#808080" stroke-width="1.1" /><line x1="1307.3" y1="676.59" x2="1400.9" y2="835.13" stroke="#808080" stroke-width="1.1" /><line x1="1307.3" y1="672.44" x2="1400.9" y2="834.82" stroke="#808080" stroke-width="1.1" /><line x1="1307.3" y1="651.17" x2="1400.9" y2="833.33" stroke="#808080" stroke-width="1.1" /><line x1="1307.3" y1="614.87" x2="1400.9" y2="834.61" stroke="#808080" stroke-width="1.1" /><line x1="1307.3" y1="585.51" x2="1400.9" y2="835.25" stroke="#808080" stroke-width="1.1" /><line x1="1244.9" y1="567.85" x2="1244.9" y2="838.05" stroke="#000" stroke-width="3.3" stroke-linecap="butt"/><line x1="1233.9" y1="836.4" x2="1464.8" y2="836.4" stroke="#000" stroke-width="3.3" /><line x1="1233.9" y1="836.4" x2="1244.9" y2="836.4" stroke="#000" stroke-width="3.3" /><text x="1232.3" y="844.3" font-size="18.5" font-weight="bold" text-anchor="end" fill="#000" >0</text><line x1="1233.9" y1="783.02" x2="1244.9" y2="783.02" stroke="#000" stroke-width="3.3" /><text x="1232.3" y="790.92" font-size="18.5" font-weight="bold" text-anchor="end" fill="#000" >20</text><line x1="1233.9" y1="729.64" x2="1244.9" y2="729.64" stroke="#000" stroke-width="3.3" /><text x="1232.3" y="737.54" font-size="18.5" font-weight="bold" text-anchor="end" fill="#000" >40</text><line x1="1233.9" y1="676.26" x2="1244.9" y2="676.26" stroke="#000" stroke-width="3.3" /><text x="1232.3" y="684.16" font-size="18.5" font-weight="bold" text-anchor="end" fill="#000" >60</text><line x1="1233.9" y1="622.88" x2="1244.9" y2="622.88" stroke="#000" stroke-width="3.3" /><text x="1232.3" y="630.78" font-size="18.5" font-weight="bold" text-anchor="end" fill="#000" >80</text><line x1="1233.9" y1="569.5" x2="1244.9" y2="569.5" stroke="#000" stroke-width="3.3" /><text x="1232.3" y="577.4" font-size="18.5" font-weight="bold" text-anchor="end" fill="#000" >100</text><line x1="1307.3" y1="836.4" x2="1307.3" y2="848.05" stroke="#000" stroke-width="3.3" /><line x1="1400.9" y1="836.4" x2="1400.9" y2="848.05" stroke="#000" stroke-width="3.3" /><circle cx="1307.3" cy="825.9" r="3.4" fill="none" stroke="#8F5D1B" stroke-width="3.1"/><circle cx="1307.3" cy="824.43" r="3.4" fill="none" stroke="#8F5D1B" stroke-width="3.1"/><circle cx="1307.3" cy="821.98" r="3.4" fill="none" stroke="#8F5D1B" stroke-width="3.1"/><circle cx="1307.3" cy="819.71" r="3.4" fill="none" stroke="#8F5D1B" stroke-width="3.1"/><circle cx="1307.3" cy="816.71" r="3.4" fill="none" stroke="#8F5D1B" stroke-width="3.1"/><circle cx="1307.3" cy="814.71" r="3.4" fill="none" stroke="#8F5D1B" stroke-width="3.1"/><circle cx="1307.3" cy="813.3" r="3.4" fill="none" stroke="#8F5D1B" stroke-width="3.1"/><circle cx="1307.3" cy="810.3" r="3.4" fill="none" stroke="#8F5D1B" stroke-width="3.1"/><circle cx="1307.3" cy="808.96" r="3.4" fill="none" stroke="#8F5D1B" stroke-width="3.1"/><circle cx="1307.3" cy="806.15" r="3.4" fill="none" stroke="#8F5D1B" stroke-width="3.1"/><circle cx="1307.3" cy="804.6" r="3.4" fill="none" stroke="#8F5D1B" stroke-width="3.1"/><circle cx="1307.3" cy="802.57" r="3.4" fill="none" stroke="#8F5D1B" stroke-width="3.1"/><circle cx="1307.3" cy="799.27" r="3.4" fill="none" stroke="#8F5D1B" stroke-width="3.1"/><circle cx="1307.3" cy="797.93" r="3.4" fill="none" stroke="#8F5D1B" stroke-width="3.1"/><circle cx="1307.3" cy="795.73" r="3.4" fill="none" stroke="#8F5D1B" stroke-width="3.1"/><circle cx="1307.3" cy="792.56" r="3.4" fill="none" stroke="#8F5D1B" stroke-width="3.1"/><circle cx="1307.3" cy="790.52" r="3.4" fill="none" stroke="#8F5D1B" stroke-width="3.1"/><circle cx="1307.3" cy="789.08" r="3.4" fill="none" stroke="#8F5D1B" stroke-width="3.1"/><circle cx="1307.3" cy="786.03" r="3.4" fill="none" stroke="#8F5D1B" stroke-width="3.1"/><circle cx="1307.3" cy="784.38" r="3.4" fill="none" stroke="#8F5D1B" stroke-width="3.1"/><circle cx="1307.3" cy="782.02" r="3.4" fill="none" stroke="#8F5D1B" stroke-width="3.1"/><circle cx="1307.3" cy="780.44" r="3.4" fill="none" stroke="#8F5D1B" stroke-width="3.1"/><circle cx="1307.3" cy="777.31" r="3.4" fill="none" stroke="#8F5D1B" stroke-width="3.1"/><circle cx="1307.3" cy="775.44" r="3.4" fill="none" stroke="#8F5D1B" stroke-width="3.1"/><circle cx="1307.3" cy="772.9" r="3.4" fill="none" stroke="#8F5D1B" stroke-width="3.1"/><circle cx="1307.3" cy="770.8" r="3.4" fill="none" stroke="#8F5D1B" stroke-width="3.1"/><circle cx="1307.3" cy="769.38" r="3.4" fill="none" stroke="#8F5D1B" stroke-width="3.1"/><circle cx="1307.3" cy="767.11" r="3.4" fill="none" stroke="#8F5D1B" stroke-width="3.1"/><circle cx="1307.3" cy="765.18" r="3.4" fill="none" stroke="#8F5D1B" stroke-width="3.1"/><circle cx="1307.3" cy="763.01" r="3.4" fill="none" stroke="#8F5D1B" stroke-width="3.1"/><circle cx="1307.3" cy="760.93" r="3.4" fill="none" stroke="#8F5D1B" stroke-width="3.1"/><circle cx="1307.3" cy="758.44" r="3.4" fill="none" stroke="#8F5D1B" stroke-width="3.1"/><circle cx="1307.3" cy="755.87" r="3.4" fill="none" stroke="#8F5D1B" stroke-width="3.1"/><circle cx="1307.3" cy="754.45" r="3.4" fill="none" stroke="#8F5D1B" stroke-width="3.1"/><circle cx="1307.3" cy="751.4" r="3.4" fill="none" stroke="#8F5D1B" stroke-width="3.1"/><circle cx="1307.3" cy="749.64" r="3.4" fill="none" stroke="#8F5D1B" stroke-width="3.1"/><circle cx="1307.3" cy="747.49" r="3.4" fill="none" stroke="#8F5D1B" stroke-width="3.1"/><circle cx="1307.3" cy="744.65" r="3.4" fill="none" stroke="#8F5D1B" stroke-width="3.1"/><circle cx="1307.3" cy="742.9" r="3.4" fill="none" stroke="#8F5D1B" stroke-width="3.1"/><circle cx="1307.3" cy="740.92" r="3.4" fill="none" stroke="#8F5D1B" stroke-width="3.1"/><circle cx="1307.3" cy="738.52" r="3.4" fill="none" stroke="#8F5D1B" stroke-width="3.1"/><circle cx="1307.3" cy="736.05" r="3.4" fill="none" stroke="#8F5D1B" stroke-width="3.1"/><circle cx="1307.3" cy="722.19" r="3.4" fill="none" stroke="#8F5D1B" stroke-width="3.1"/><circle cx="1307.3" cy="718.39" r="3.4" fill="none" stroke="#8F5D1B" stroke-width="3.1"/><circle cx="1307.3" cy="714.71" r="3.4" fill="none" stroke="#8F5D1B" stroke-width="3.1"/><circle cx="1307.3" cy="710.86" r="3.4" fill="none" stroke="#8F5D1B" stroke-width="3.1"/><circle cx="1307.3" cy="707.69" r="3.4" fill="none" stroke="#8F5D1B" stroke-width="3.1"/><circle cx="1307.3" cy="703.77" r="3.4" fill="none" stroke="#8F5D1B" stroke-width="3.1"/><circle cx="1307.3" cy="701.98" r="3.4" fill="none" stroke="#8F5D1B" stroke-width="3.1"/><circle cx="1307.3" cy="697.55" r="3.4" fill="none" stroke="#8F5D1B" stroke-width="3.1"/><circle cx="1307.3" cy="693.03" r="3.4" fill="none" stroke="#8F5D1B" stroke-width="3.1"/><circle cx="1307.3" cy="690.05" r="3.4" fill="none" stroke="#8F5D1B" stroke-width="3.1"/><circle cx="1307.3" cy="685.98" r="3.4" fill="none" stroke="#8F5D1B" stroke-width="3.1"/><circle cx="1307.3" cy="683.99" r="3.4" fill="none" stroke="#8F5D1B" stroke-width="3.1"/><circle cx="1307.3" cy="679.72" r="3.4" fill="none" stroke="#8F5D1B" stroke-width="3.1"/><circle cx="1307.3" cy="676.59" r="3.4" fill="none" stroke="#8F5D1B" stroke-width="3.1"/><circle cx="1307.3" cy="672.44" r="3.4" fill="none" stroke="#8F5D1B" stroke-width="3.1"/><circle cx="1307.3" cy="651.17" r="3.4" fill="none" stroke="#8F5D1B" stroke-width="3.1"/><circle cx="1307.3" cy="614.87" r="3.4" fill="none" stroke="#8F5D1B" stroke-width="3.1"/><circle cx="1307.3" cy="585.51" r="3.4" fill="none" stroke="#8F5D1B" stroke-width="3.1"/><circle cx="1400.9" cy="836.19" r="3.4" fill="none" stroke="#8F5D1B" stroke-width="3.1"/><circle cx="1400.9" cy="836.24" r="3.4" fill="none" stroke="#8F5D1B" stroke-width="3.1"/><circle cx="1400.9" cy="836.23" r="3.4" fill="none" stroke="#8F5D1B" stroke-width="3.1"/><circle cx="1400.9" cy="836.26" r="3.4" fill="none" stroke="#8F5D1B" stroke-width="3.1"/><circle cx="1400.9" cy="836.1" r="3.4" fill="none" stroke="#8F5D1B" stroke-width="3.1"/><circle cx="1400.9" cy="836.17" r="3.4" fill="none" stroke="#8F5D1B" stroke-width="3.1"/><circle cx="1400.9" cy="835.61" r="3.4" fill="none" stroke="#8F5D1B" stroke-width="3.1"/><circle cx="1400.9" cy="836.29" r="3.4" fill="none" stroke="#8F5D1B" stroke-width="3.1"/><circle cx="1400.9" cy="834.2" r="3.4" fill="none" stroke="#8F5D1B" stroke-width="3.1"/><circle cx="1400.9" cy="836.38" r="3.4" fill="none" stroke="#8F5D1B" stroke-width="3.1"/><circle cx="1400.9" cy="836.1" r="3.4" fill="none" stroke="#8F5D1B" stroke-width="3.1"/><circle cx="1400.9" cy="835.59" r="3.4" fill="none" stroke="#8F5D1B" stroke-width="3.1"/><circle cx="1400.9" cy="836.12" r="3.4" fill="none" stroke="#8F5D1B" stroke-width="3.1"/><circle cx="1400.9" cy="836.26" r="3.4" fill="none" stroke="#8F5D1B" stroke-width="3.1"/><circle cx="1400.9" cy="836" r="3.4" fill="none" stroke="#8F5D1B" stroke-width="3.1"/><circle cx="1400.9" cy="835.63" r="3.4" fill="none" stroke="#8F5D1B" stroke-width="3.1"/><circle cx="1400.9" cy="835.16" r="3.4" fill="none" stroke="#8F5D1B" stroke-width="3.1"/><circle cx="1400.9" cy="836.3" r="3.4" fill="none" stroke="#8F5D1B" stroke-width="3.1"/><circle cx="1400.9" cy="835.85" r="3.4" fill="none" stroke="#8F5D1B" stroke-width="3.1"/><circle cx="1400.9" cy="836.21" r="3.4" fill="none" stroke="#8F5D1B" stroke-width="3.1"/><circle cx="1400.9" cy="835.19" r="3.4" fill="none" stroke="#8F5D1B" stroke-width="3.1"/><circle cx="1400.9" cy="836.12" r="3.4" fill="none" stroke="#8F5D1B" stroke-width="3.1"/><circle cx="1400.9" cy="835.82" r="3.4" fill="none" stroke="#8F5D1B" stroke-width="3.1"/><circle cx="1400.9" cy="835.09" r="3.4" fill="none" stroke="#8F5D1B" stroke-width="3.1"/><circle cx="1400.9" cy="835.95" r="3.4" fill="none" stroke="#8F5D1B" stroke-width="3.1"/><circle cx="1400.9" cy="835.72" r="3.4" fill="none" stroke="#8F5D1B" stroke-width="3.1"/><circle cx="1400.9" cy="836.16" r="3.4" fill="none" stroke="#8F5D1B" stroke-width="3.1"/><circle cx="1400.9" cy="835.92" r="3.4" fill="none" stroke="#8F5D1B" stroke-width="3.1"/><circle cx="1400.9" cy="836.3" r="3.4" fill="none" stroke="#8F5D1B" stroke-width="3.1"/><circle cx="1400.9" cy="836.15" r="3.4" fill="none" stroke="#8F5D1B" stroke-width="3.1"/><circle cx="1400.9" cy="835.96" r="3.4" fill="none" stroke="#8F5D1B" stroke-width="3.1"/><circle cx="1400.9" cy="836.08" r="3.4" fill="none" stroke="#8F5D1B" stroke-width="3.1"/><circle cx="1400.9" cy="833" r="3.4" fill="none" stroke="#8F5D1B" stroke-width="3.1"/><circle cx="1400.9" cy="836.38" r="3.4" fill="none" stroke="#8F5D1B" stroke-width="3.1"/><circle cx="1400.9" cy="836.31" r="3.4" fill="none" stroke="#8F5D1B" stroke-width="3.1"/><circle cx="1400.9" cy="835.34" r="3.4" fill="none" stroke="#8F5D1B" stroke-width="3.1"/><circle cx="1400.9" cy="835.11" r="3.4" fill="none" stroke="#8F5D1B" stroke-width="3.1"/><circle cx="1400.9" cy="835.32" r="3.4" fill="none" stroke="#8F5D1B" stroke-width="3.1"/><circle cx="1400.9" cy="834.61" r="3.4" fill="none" stroke="#8F5D1B" stroke-width="3.1"/><circle cx="1400.9" cy="832.66" r="3.4" fill="none" stroke="#8F5D1B" stroke-width="3.1"/><circle cx="1400.9" cy="835.8" r="3.4" fill="none" stroke="#8F5D1B" stroke-width="3.1"/><circle cx="1400.9" cy="836.16" r="3.4" fill="none" stroke="#8F5D1B" stroke-width="3.1"/><circle cx="1400.9" cy="835.55" r="3.4" fill="none" stroke="#8F5D1B" stroke-width="3.1"/><circle cx="1400.9" cy="834.02" r="3.4" fill="none" stroke="#8F5D1B" stroke-width="3.1"/><circle cx="1400.9" cy="834.91" r="3.4" fill="none" stroke="#8F5D1B" stroke-width="3.1"/><circle cx="1400.9" cy="835.4" r="3.4" fill="none" stroke="#8F5D1B" stroke-width="3.1"/><circle cx="1400.9" cy="835.07" r="3.4" fill="none" stroke="#8F5D1B" stroke-width="3.1"/><circle cx="1400.9" cy="834.92" r="3.4" fill="none" stroke="#8F5D1B" stroke-width="3.1"/><circle cx="1400.9" cy="836.19" r="3.4" fill="none" stroke="#8F5D1B" stroke-width="3.1"/><circle cx="1400.9" cy="834.76" r="3.4" fill="none" stroke="#8F5D1B" stroke-width="3.1"/><circle cx="1400.9" cy="835.77" r="3.4" fill="none" stroke="#8F5D1B" stroke-width="3.1"/><circle cx="1400.9" cy="835.22" r="3.4" fill="none" stroke="#8F5D1B" stroke-width="3.1"/><circle cx="1400.9" cy="835.41" r="3.4" fill="none" stroke="#8F5D1B" stroke-width="3.1"/><circle cx="1400.9" cy="834.86" r="3.4" fill="none" stroke="#8F5D1B" stroke-width="3.1"/><circle cx="1400.9" cy="833.85" r="3.4" fill="none" stroke="#8F5D1B" stroke-width="3.1"/><circle cx="1400.9" cy="835.13" r="3.4" fill="none" stroke="#8F5D1B" stroke-width="3.1"/><circle cx="1400.9" cy="834.82" r="3.4" fill="none" stroke="#8F5D1B" stroke-width="3.1"/><circle cx="1400.9" cy="833.33" r="3.4" fill="none" stroke="#8F5D1B" stroke-width="3.1"/><circle cx="1400.9" cy="834.61" r="3.4" fill="none" stroke="#8F5D1B" stroke-width="3.1"/><circle cx="1400.9" cy="835.25" r="3.4" fill="none" stroke="#8F5D1B" stroke-width="3.1"/><text x="1353" y="537.5" font-size="24" font-weight="bold" text-anchor="middle">CTLA-4<tspan dy="-10" font-size="16">+</tspan><tspan dy="10"> T</tspan></text><line x1="1304.5" y1="571.8" x2="1402" y2="571.8" stroke="#000" stroke-width="1.4" /><path d="M1334.80,554.20 L1334.80,563.00 M1330.99,556.40 L1338.61,560.80 M1330.99,560.80 L1338.61,556.40 M1347.10,554.20 L1347.10,563.00 M1343.29,556.40 L1350.91,560.80 M1343.29,560.80 L1350.91,556.40 M1359.40,554.20 L1359.40,563.00 M1355.59,556.40 L1363.21,560.80 M1355.59,560.80 L1363.21,556.40 M1371.70,554.20 L1371.70,563.00 M1367.89,556.40 L1375.51,560.80 M1367.89,560.80 L1375.51,556.40 " stroke="#000" stroke-width="1.9" stroke-linecap="round" fill="none"/><text x="0" y="0" font-size="22.5" font-weight="bold" text-anchor="middle" dominant-baseline="central" transform="translate(1180.7,703.9) rotate(-90)">CTLA-4<tspan dy="-9" font-size="15">+</tspan><tspan dy="9"> CD4<tspan dy="-9" font-size="15">+</tspan><tspan dy="9"> T (%)</tspan></tspan></text><text x="1307.3" y="868.5" font-size="18.5" font-weight="bold" text-anchor="middle">AIM<tspan dy="-8" font-size="13">+</tspan><tspan dy="8"> T</tspan></text><text x="1400.9" y="868.5" font-size="18.5" font-weight="bold" text-anchor="middle">AIM<tspan dy="-8" font-size="13">-</tspan><tspan dy="8"> T</tspan></text><text x="0.5" y="941.5" font-size="41" font-weight="bold" text-anchor="start" fill="#000" >d</text><text x="0.5" y="1375" font-size="41" font-weight="bold" text-anchor="start" fill="#000" >e</text><line x1="86.1" y1="975.15" x2="86.1" y2="1232.05" stroke="#000" stroke-width="3.3" stroke-linecap="butt"/><line x1="75.1" y1="1230.4" x2="494" y2="1230.4" stroke="#000" stroke-width="3.3" /><line x1="75.1" y1="1230.4" x2="86.1" y2="1230.4" stroke="#000" stroke-width="3.3" /><text x="73.7" y="1238.2" font-size="17.5" font-weight="bold" text-anchor="end" fill="#000" >0</text><line x1="75.1" y1="1167" x2="86.1" y2="1167" stroke="#000" stroke-width="3.3" /><text x="73.7" y="1174.8" font-size="17.5" font-weight="bold" text-anchor="end" fill="#000" >1</text><line x1="75.1" y1="1103.6" x2="86.1" y2="1103.6" stroke="#000" stroke-width="3.3" /><text x="73.7" y="1111.4" font-size="17.5" font-weight="bold" text-anchor="end" fill="#000" >2</text><line x1="75.1" y1="1040.2" x2="86.1" y2="1040.2" stroke="#000" stroke-width="3.3" /><text x="73.7" y="1048" font-size="17.5" font-weight="bold" text-anchor="end" fill="#000" >3</text><line x1="75.1" y1="976.8" x2="86.1" y2="976.8" stroke="#000" stroke-width="3.3" /><text x="73.7" y="984.6" font-size="17.5" font-weight="bold" text-anchor="end" fill="#000" >4</text><line x1="166.9" y1="1230.4" x2="166.9" y2="1243.05" stroke="#000" stroke-width="3.3" /><line x1="289.7" y1="1230.4" x2="289.7" y2="1243.05" stroke="#000" stroke-width="3.3" /><line x1="412.2" y1="1230.4" x2="412.2" y2="1243.05" stroke="#000" stroke-width="3.3" /><circle cx="175.23" cy="1088.58" r="3.9" fill="none" stroke="#FDB57A" stroke-width="2.4"/><circle cx="159.55" cy="1119.63" r="3.9" fill="none" stroke="#FDB57A" stroke-width="2.4"/><circle cx="175.23" cy="1140.32" r="3.9" fill="none" stroke="#FDB57A" stroke-width="2.4"/><circle cx="175.23" cy="1161.01" r="3.9" fill="none" stroke="#FDB57A" stroke-width="2.4"/><circle cx="159.55" cy="1174.7" r="3.9" fill="none" stroke="#FDB57A" stroke-width="2.4"/><circle cx="159.55" cy="1188.72" r="3.9" fill="none" stroke="#FDB57A" stroke-width="2.4"/><circle cx="175.23" cy="1184.71" r="3.9" fill="none" stroke="#FDB57A" stroke-width="2.4"/><circle cx="190.25" cy="1182.71" r="3.9" fill="none" stroke="#FDB57A" stroke-width="2.4"/><circle cx="144.19" cy="1196.4" r="3.9" fill="none" stroke="#FDB57A" stroke-width="2.4"/><circle cx="175.23" cy="1193.06" r="3.9" fill="none" stroke="#FDB57A" stroke-width="2.4"/><circle cx="190.25" cy="1194.39" r="3.9" fill="none" stroke="#FDB57A" stroke-width="2.4"/><circle cx="175.23" cy="1202.07" r="3.9" fill="none" stroke="#FDB57A" stroke-width="2.4"/><circle cx="159.55" cy="1208.74" r="3.9" fill="none" stroke="#FDB57A" stroke-width="2.4"/><circle cx="297.06" cy="1159.35" r="3.9" fill="none" stroke="#FA5A05" stroke-width="2.4"/><circle cx="282.04" cy="1167.02" r="3.9" fill="none" stroke="#FA5A05" stroke-width="2.4"/><circle cx="297.06" cy="1168.02" r="3.9" fill="none" stroke="#FA5A05" stroke-width="2.4"/><circle cx="266.36" cy="1181.38" r="3.9" fill="none" stroke="#FA5A05" stroke-width="2.4"/><circle cx="282.04" cy="1178.7" r="3.9" fill="none" stroke="#FA5A05" stroke-width="2.4"/><circle cx="297.06" cy="1183.71" r="3.9" fill="none" stroke="#FA5A05" stroke-width="2.4"/><circle cx="312.75" cy="1182.71" r="3.9" fill="none" stroke="#FA5A05" stroke-width="2.4"/><circle cx="266.36" cy="1194.73" r="3.9" fill="none" stroke="#FA5A05" stroke-width="2.4"/><circle cx="266.36" cy="1205.41" r="3.9" fill="none" stroke="#FA5A05" stroke-width="2.4"/><circle cx="297.06" cy="1205.41" r="3.9" fill="none" stroke="#FA5A05" stroke-width="2.4"/><circle cx="312.75" cy="1202.07" r="3.9" fill="none" stroke="#FA5A05" stroke-width="2.4"/><circle cx="282.04" cy="1210.41" r="3.9" fill="none" stroke="#FA5A05" stroke-width="2.4"/><circle cx="297.06" cy="1217.09" r="3.9" fill="none" stroke="#FA5A05" stroke-width="2.4"/><circle cx="282.04" cy="1222.1" r="3.9" fill="none" stroke="#FA5A05" stroke-width="2.4"/><circle cx="412.22" cy="1052.54" r="3.9" fill="none" stroke="#C8641E" stroke-width="2.4"/><circle cx="412.22" cy="1065.89" r="3.9" fill="none" stroke="#C8641E" stroke-width="2.4"/><circle cx="412.22" cy="1081.91" r="3.9" fill="none" stroke="#C8641E" stroke-width="2.4"/><circle cx="412.22" cy="1120.63" r="3.9" fill="none" stroke="#C8641E" stroke-width="2.4"/><circle cx="412.22" cy="1148.66" r="3.9" fill="none" stroke="#C8641E" stroke-width="2.4"/><circle cx="412.22" cy="1156.34" r="3.9" fill="none" stroke="#C8641E" stroke-width="2.4"/><circle cx="399.53" cy="1161.35" r="3.9" fill="none" stroke="#C8641E" stroke-width="2.4"/><circle cx="423.9" cy="1162.02" r="3.9" fill="none" stroke="#C8641E" stroke-width="2.4"/><circle cx="375.5" cy="1174.7" r="3.9" fill="none" stroke="#C8641E" stroke-width="2.4"/><circle cx="387.18" cy="1178.04" r="3.9" fill="none" stroke="#C8641E" stroke-width="2.4"/><circle cx="399.53" cy="1174.7" r="3.9" fill="none" stroke="#C8641E" stroke-width="2.4"/><circle cx="412.22" cy="1181.04" r="3.9" fill="none" stroke="#C8641E" stroke-width="2.4"/><circle cx="423.9" cy="1174.7" r="3.9" fill="none" stroke="#C8641E" stroke-width="2.4"/><circle cx="436.25" cy="1178.7" r="3.9" fill="none" stroke="#C8641E" stroke-width="2.4"/><circle cx="448.93" cy="1178.04" r="3.9" fill="none" stroke="#C8641E" stroke-width="2.4"/><circle cx="399.53" cy="1184.71" r="3.9" fill="none" stroke="#C8641E" stroke-width="2.4"/><circle cx="423.9" cy="1183.71" r="3.9" fill="none" stroke="#C8641E" stroke-width="2.4"/><circle cx="375.5" cy="1199.73" r="3.9" fill="none" stroke="#C8641E" stroke-width="2.4"/><circle cx="387.18" cy="1199.4" r="3.9" fill="none" stroke="#C8641E" stroke-width="2.4"/><circle cx="399.53" cy="1205.41" r="3.9" fill="none" stroke="#C8641E" stroke-width="2.4"/><circle cx="412.22" cy="1204.41" r="3.9" fill="none" stroke="#C8641E" stroke-width="2.4"/><circle cx="423.9" cy="1202.74" r="3.9" fill="none" stroke="#C8641E" stroke-width="2.4"/><circle cx="436.25" cy="1198.06" r="3.9" fill="none" stroke="#C8641E" stroke-width="2.4"/><circle cx="448.93" cy="1198.06" r="3.9" fill="none" stroke="#C8641E" stroke-width="2.4"/><circle cx="436.25" cy="1205.41" r="3.9" fill="none" stroke="#C8641E" stroke-width="2.4"/><circle cx="399.53" cy="1216.09" r="3.9" fill="none" stroke="#C8641E" stroke-width="2.4"/><circle cx="423.9" cy="1211.08" r="3.9" fill="none" stroke="#C8641E" stroke-width="2.4"/><line x1="166.9" y1="1136.3" x2="166.9" y2="1207.7" stroke="#000" stroke-width="1.4" /><line x1="156.9" y1="1136.3" x2="176.9" y2="1136.3" stroke="#000" stroke-width="1.4" /><line x1="156.9" y1="1207.7" x2="176.9" y2="1207.7" stroke="#000" stroke-width="1.4" /><line x1="146.9" y1="1172" x2="186.9" y2="1172" stroke="#000" stroke-width="2.6" /><line x1="289.7" y1="1172" x2="289.7" y2="1211" stroke="#000" stroke-width="1.4" /><line x1="279.7" y1="1172" x2="299.7" y2="1172" stroke="#000" stroke-width="1.4" /><line x1="279.7" y1="1211" x2="299.7" y2="1211" stroke="#000" stroke-width="1.4" /><line x1="269.7" y1="1191.4" x2="309.7" y2="1191.4" stroke="#000" stroke-width="2.6" /><line x1="412.2" y1="1127.3" x2="412.2" y2="1213.8" stroke="#000" stroke-width="1.4" /><line x1="402.2" y1="1127.3" x2="422.2" y2="1127.3" stroke="#000" stroke-width="1.4" /><line x1="402.2" y1="1213.8" x2="422.2" y2="1213.8" stroke="#000" stroke-width="1.4" /><line x1="392.2" y1="1170.4" x2="432.2" y2="1170.4" stroke="#000" stroke-width="2.6" /><line x1="141.9" y1="980.1" x2="412.2" y2="980.1" stroke="#000" stroke-width="1.3" /><text x="277" y="969.5" font-size="18.5" font-weight="normal" text-anchor="middle" fill="#000" >ns</text><line x1="141.9" y1="1013.5" x2="289.7" y2="1013.5" stroke="#000" stroke-width="1.3" /><text x="215.3" y="1003" font-size="18.5" font-weight="normal" text-anchor="middle" fill="#000" >ns</text><line x1="267" y1="1029.2" x2="412.2" y2="1029.2" stroke="#000" stroke-width="1.3" /><text x="339.8" y="1019" font-size="18.5" font-weight="normal" text-anchor="middle" fill="#000" >ns</text><text x="0" y="0" font-size="21.1" font-weight="bold" text-anchor="middle" dominant-baseline="central" transform="translate(41.4,1105.1) rotate(-90)">IL-4<tspan dy="-9" font-size="15">+</tspan><tspan dy="9"> mCD4<tspan dy="-9" font-size="15">+</tspan><tspan dy="9"> T (%)</tspan></tspan></text><text x="288.7" y="947.7" font-size="24" font-weight="bold" text-anchor="middle" fill="#000" >1~6 MPV</text><text x="0" y="0" font-size="18.5" font-weight="bold" text-anchor="end" transform="translate(174.9,1257.4) rotate(-45)">One dose</text><text x="0" y="0" font-size="18.5" font-weight="bold" text-anchor="end" transform="translate(297.7,1257.4) rotate(-45)">Two doses</text><text x="0" y="0" font-size="18.5" font-weight="bold" text-anchor="end" transform="translate(420.2,1257.4) rotate(-45)">Three doses</text><line x1="598.5" y1="975.15" x2="598.5" y2="1232.05" stroke="#000" stroke-width="3.3" stroke-linecap="butt"/><line x1="587.5" y1="1230.4" x2="995.7" y2="1230.4" stroke="#000" stroke-width="3.3" /><line x1="587.5" y1="1230.4" x2="598.5" y2="1230.4" stroke="#000" stroke-width="3.3" /><text x="586.1" y="1238.2" font-size="17.5" font-weight="bold" text-anchor="end" fill="#000" >0.0</text><line x1="587.5" y1="1145.87" x2="598.5" y2="1145.87" stroke="#000" stroke-width="3.3" /><text x="586.1" y="1153.67" font-size="17.5" font-weight="bold" text-anchor="end" fill="#000" >0.5</text><line x1="587.5" y1="1061.33" x2="598.5" y2="1061.33" stroke="#000" stroke-width="3.3" /><text x="586.1" y="1069.13" font-size="17.5" font-weight="bold" text-anchor="end" fill="#000" >1.0</text><line x1="587.5" y1="976.8" x2="598.5" y2="976.8" stroke="#000" stroke-width="3.3" /><text x="586.1" y="984.6" font-size="17.5" font-weight="bold" text-anchor="end" fill="#000" >1.5</text><line x1="676.9" y1="1230.4" x2="676.9" y2="1243.05" stroke="#000" stroke-width="3.3" /><line x1="796.4" y1="1230.4" x2="796.4" y2="1243.05" stroke="#000" stroke-width="3.3" /><line x1="915.5" y1="1230.4" x2="915.5" y2="1243.05" stroke="#000" stroke-width="3.3" /><circle cx="685.25" cy="1109.28" r="3.9" fill="none" stroke="#FDB57A" stroke-width="2.4"/><circle cx="670.23" cy="1149.33" r="3.9" fill="none" stroke="#FDB57A" stroke-width="2.4"/><circle cx="670.23" cy="1168.02" r="3.9" fill="none" stroke="#FDB57A" stroke-width="2.4"/><circle cx="685.25" cy="1171.03" r="3.9" fill="none" stroke="#FDB57A" stroke-width="2.4"/><circle cx="685.25" cy="1184.38" r="3.9" fill="none" stroke="#FDB57A" stroke-width="2.4"/><circle cx="655.21" cy="1191.39" r="3.9" fill="none" stroke="#FDB57A" stroke-width="2.4"/><circle cx="670.23" cy="1188.72" r="3.9" fill="none" stroke="#FDB57A" stroke-width="2.4"/><circle cx="670.23" cy="1199.73" r="3.9" fill="none" stroke="#FDB57A" stroke-width="2.4"/><circle cx="685.25" cy="1206.41" r="3.9" fill="none" stroke="#FDB57A" stroke-width="2.4"/><circle cx="655.21" cy="1206.41" r="3.9" fill="none" stroke="#FDB57A" stroke-width="2.4"/><circle cx="700.27" cy="1204.74" r="3.9" fill="none" stroke="#FDB57A" stroke-width="2.4"/><circle cx="670.23" cy="1212.08" r="3.9" fill="none" stroke="#FDB57A" stroke-width="2.4"/><circle cx="670.23" cy="1222.1" r="3.9" fill="none" stroke="#FDB57A" stroke-width="2.4"/><circle cx="796.4" cy="1054.87" r="3.9" fill="none" stroke="#FA5A05" stroke-width="2.4"/><circle cx="781.38" cy="1124.3" r="3.9" fill="none" stroke="#FA5A05" stroke-width="2.4"/><circle cx="796.4" cy="1123.63" r="3.9" fill="none" stroke="#FA5A05" stroke-width="2.4"/><circle cx="796.4" cy="1151.34" r="3.9" fill="none" stroke="#FA5A05" stroke-width="2.4"/><circle cx="796.4" cy="1163.02" r="3.9" fill="none" stroke="#FA5A05" stroke-width="2.4"/><circle cx="781.38" cy="1176.37" r="3.9" fill="none" stroke="#FA5A05" stroke-width="2.4"/><circle cx="781.38" cy="1184.71" r="3.9" fill="none" stroke="#FA5A05" stroke-width="2.4"/><circle cx="796.4" cy="1179.71" r="3.9" fill="none" stroke="#FA5A05" stroke-width="2.4"/><circle cx="811.42" cy="1186.38" r="3.9" fill="none" stroke="#FA5A05" stroke-width="2.4"/><circle cx="781.38" cy="1196.4" r="3.9" fill="none" stroke="#FA5A05" stroke-width="2.4"/><circle cx="811.42" cy="1200.4" r="3.9" fill="none" stroke="#FA5A05" stroke-width="2.4"/><circle cx="796.4" cy="1206.41" r="3.9" fill="none" stroke="#FA5A05" stroke-width="2.4"/><circle cx="781.38" cy="1213.75" r="3.9" fill="none" stroke="#FA5A05" stroke-width="2.4"/><circle cx="811.42" cy="1213.75" r="3.9" fill="none" stroke="#FA5A05" stroke-width="2.4"/><circle cx="915.55" cy="1053.54" r="3.9" fill="none" stroke="#C8641E" stroke-width="2.4"/><circle cx="915.55" cy="1080.24" r="3.9" fill="none" stroke="#C8641E" stroke-width="2.4"/><circle cx="915.55" cy="1125.97" r="3.9" fill="none" stroke="#C8641E" stroke-width="2.4"/><circle cx="903.2" cy="1140.99" r="3.9" fill="none" stroke="#C8641E" stroke-width="2.4"/><circle cx="915.55" cy="1144.33" r="3.9" fill="none" stroke="#C8641E" stroke-width="2.4"/><circle cx="927.9" cy="1145.99" r="3.9" fill="none" stroke="#C8641E" stroke-width="2.4"/><circle cx="915.55" cy="1153" r="3.9" fill="none" stroke="#C8641E" stroke-width="2.4"/><circle cx="903.2" cy="1164.69" r="3.9" fill="none" stroke="#C8641E" stroke-width="2.4"/><circle cx="915.55" cy="1168.02" r="3.9" fill="none" stroke="#C8641E" stroke-width="2.4"/><circle cx="927.9" cy="1171.03" r="3.9" fill="none" stroke="#C8641E" stroke-width="2.4"/><circle cx="915.55" cy="1176.37" r="3.9" fill="none" stroke="#C8641E" stroke-width="2.4"/><circle cx="915.55" cy="1189.72" r="3.9" fill="none" stroke="#C8641E" stroke-width="2.4"/><circle cx="879.51" cy="1199.73" r="3.9" fill="none" stroke="#C8641E" stroke-width="2.4"/><circle cx="891.52" cy="1198.06" r="3.9" fill="none" stroke="#C8641E" stroke-width="2.4"/><circle cx="903.2" cy="1194.73" r="3.9" fill="none" stroke="#C8641E" stroke-width="2.4"/><circle cx="915.55" cy="1199.73" r="3.9" fill="none" stroke="#C8641E" stroke-width="2.4"/><circle cx="927.9" cy="1202.07" r="3.9" fill="none" stroke="#C8641E" stroke-width="2.4"/><circle cx="939.92" cy="1202.07" r="3.9" fill="none" stroke="#C8641E" stroke-width="2.4"/><circle cx="951.6" cy="1203.74" r="3.9" fill="none" stroke="#C8641E" stroke-width="2.4"/><circle cx="891.52" cy="1206.41" r="3.9" fill="none" stroke="#C8641E" stroke-width="2.4"/><circle cx="903.2" cy="1203.74" r="3.9" fill="none" stroke="#C8641E" stroke-width="2.4"/><circle cx="915.55" cy="1206.41" r="3.9" fill="none" stroke="#C8641E" stroke-width="2.4"/><circle cx="903.2" cy="1212.08" r="3.9" fill="none" stroke="#C8641E" stroke-width="2.4"/><circle cx="915.55" cy="1213.75" r="3.9" fill="none" stroke="#C8641E" stroke-width="2.4"/><circle cx="927.9" cy="1215.42" r="3.9" fill="none" stroke="#C8641E" stroke-width="2.4"/><circle cx="915.55" cy="1221.43" r="3.9" fill="none" stroke="#C8641E" stroke-width="2.4"/><circle cx="915.55" cy="1230.44" r="3.9" fill="none" stroke="#C8641E" stroke-width="2.4"/><line x1="676.9" y1="1155.3" x2="676.9" y2="1216.4" stroke="#000" stroke-width="1.4" /><line x1="666.9" y1="1155.3" x2="686.9" y2="1155.3" stroke="#000" stroke-width="1.4" /><line x1="666.9" y1="1216.4" x2="686.9" y2="1216.4" stroke="#000" stroke-width="1.4" /><line x1="656.9" y1="1186" x2="696.9" y2="1186" stroke="#000" stroke-width="2.6" /><line x1="796.4" y1="1126" x2="796.4" y2="1213.8" stroke="#000" stroke-width="1.4" /><line x1="786.4" y1="1126" x2="806.4" y2="1126" stroke="#000" stroke-width="1.4" /><line x1="786.4" y1="1213.8" x2="806.4" y2="1213.8" stroke="#000" stroke-width="1.4" /><line x1="776.4" y1="1169.7" x2="816.4" y2="1169.7" stroke="#000" stroke-width="2.6" /><line x1="915.5" y1="1133" x2="915.5" y2="1218" stroke="#000" stroke-width="1.4" /><line x1="905.5" y1="1133" x2="925.5" y2="1133" stroke="#000" stroke-width="1.4" /><line x1="905.5" y1="1218" x2="925.5" y2="1218" stroke="#000" stroke-width="1.4" /><line x1="895.5" y1="1176" x2="935.5" y2="1176" stroke="#000" stroke-width="2.6" /><line x1="676.2" y1="982.4" x2="914.9" y2="982.4" stroke="#000" stroke-width="1.3" /><text x="795.4" y="971.5" font-size="18.5" font-weight="normal" text-anchor="middle" fill="#000" >ns</text><line x1="676.2" y1="1015.2" x2="797" y2="1015.2" stroke="#000" stroke-width="1.3" /><text x="737" y="1004.5" font-size="18.5" font-weight="normal" text-anchor="middle" fill="#000" >ns</text><line x1="796.4" y1="1031.2" x2="916.2" y2="1031.2" stroke="#000" stroke-width="1.3" /><text x="856.5" y="1020.5" font-size="18.5" font-weight="normal" text-anchor="middle" fill="#000" >ns</text><text x="0" y="0" font-size="21.1" font-weight="bold" text-anchor="middle" dominant-baseline="central" transform="translate(541.4,1105.1) rotate(-90)">IFN-γ<tspan dy="-9" font-size="15">+</tspan><tspan dy="9"> mCD4<tspan dy="-9" font-size="15">+</tspan><tspan dy="9"> T (%)</tspan></tspan></text><text x="796.4" y="947.7" font-size="24" font-weight="bold" text-anchor="middle" fill="#000" >1~6 MPV</text><text x="0" y="0" font-size="18.5" font-weight="bold" text-anchor="end" transform="translate(684.9,1257.4) rotate(-45)">One dose</text><text x="0" y="0" font-size="18.5" font-weight="bold" text-anchor="end" transform="translate(804.4,1257.4) rotate(-45)">Two doses</text><text x="0" y="0" font-size="18.5" font-weight="bold" text-anchor="end" transform="translate(923.5,1257.4) rotate(-45)">Three doses</text><line x1="1092.4" y1="975.45" x2="1092.4" y2="1232.45" stroke="#000" stroke-width="3.3" stroke-linecap="butt"/><line x1="1081.4" y1="1230.8" x2="1497" y2="1230.8" stroke="#000" stroke-width="3.3" /><line x1="1081.4" y1="1230.8" x2="1092.4" y2="1230.8" stroke="#000" stroke-width="3.3" /><text x="1080" y="1238.6" font-size="17.5" font-weight="bold" text-anchor="end" fill="#000" >-2</text><line x1="1081.4" y1="1180.06" x2="1092.4" y2="1180.06" stroke="#000" stroke-width="3.3" /><text x="1080" y="1187.86" font-size="17.5" font-weight="bold" text-anchor="end" fill="#000" >0</text><line x1="1081.4" y1="1129.32" x2="1092.4" y2="1129.32" stroke="#000" stroke-width="3.3" /><text x="1080" y="1137.12" font-size="17.5" font-weight="bold" text-anchor="end" fill="#000" >2</text><line x1="1081.4" y1="1078.58" x2="1092.4" y2="1078.58" stroke="#000" stroke-width="3.3" /><text x="1080" y="1086.38" font-size="17.5" font-weight="bold" text-anchor="end" fill="#000" >4</text><line x1="1081.4" y1="1027.84" x2="1092.4" y2="1027.84" stroke="#000" stroke-width="3.3" /><text x="1080" y="1035.64" font-size="17.5" font-weight="bold" text-anchor="end" fill="#000" >6</text><line x1="1081.4" y1="977.1" x2="1092.4" y2="977.1" stroke="#000" stroke-width="3.3" /><text x="1080" y="984.9" font-size="17.5" font-weight="bold" text-anchor="end" fill="#000" >8</text><line x1="1172.9" y1="1230.8" x2="1172.9" y2="1243.45" stroke="#000" stroke-width="3.3" /><line x1="1293.9" y1="1230.8" x2="1293.9" y2="1243.45" stroke="#000" stroke-width="3.3" /><line x1="1414.9" y1="1230.8" x2="1414.9" y2="1243.45" stroke="#000" stroke-width="3.3" /><circle cx="1172.87" cy="1081.18" r="3.9" fill="none" stroke="#FDB57A" stroke-width="2.4"/><circle cx="1142.29" cy="1153.66" r="3.9" fill="none" stroke="#FDB57A" stroke-width="2.4"/><circle cx="1157.91" cy="1157.65" r="3.9" fill="none" stroke="#FDB57A" stroke-width="2.4"/><circle cx="1172.87" cy="1155.32" r="3.9" fill="none" stroke="#FDB57A" stroke-width="2.4"/><circle cx="1187.83" cy="1157.65" r="3.9" fill="none" stroke="#FDB57A" stroke-width="2.4"/><circle cx="1203.46" cy="1157.65" r="3.9" fill="none" stroke="#FDB57A" stroke-width="2.4"/><circle cx="1157.91" cy="1167.62" r="3.9" fill="none" stroke="#FDB57A" stroke-width="2.4"/><circle cx="1172.87" cy="1163.63" r="3.9" fill="none" stroke="#FDB57A" stroke-width="2.4"/><circle cx="1203.46" cy="1165.96" r="3.9" fill="none" stroke="#FDB57A" stroke-width="2.4"/><circle cx="1142.29" cy="1174.27" r="3.9" fill="none" stroke="#FDB57A" stroke-width="2.4"/><circle cx="1172.87" cy="1172.61" r="3.9" fill="none" stroke="#FDB57A" stroke-width="2.4"/><circle cx="1187.83" cy="1171.94" r="3.9" fill="none" stroke="#FDB57A" stroke-width="2.4"/><circle cx="1203.46" cy="1177.59" r="3.9" fill="none" stroke="#FDB57A" stroke-width="2.4"/><circle cx="1293.88" cy="1055.59" r="3.9" fill="none" stroke="#FA5A05" stroke-width="2.4"/><circle cx="1263.3" cy="1151.66" r="3.9" fill="none" stroke="#FA5A05" stroke-width="2.4"/><circle cx="1278.59" cy="1154.32" r="3.9" fill="none" stroke="#FA5A05" stroke-width="2.4"/><circle cx="1293.88" cy="1153.32" r="3.9" fill="none" stroke="#FA5A05" stroke-width="2.4"/><circle cx="1309.18" cy="1151.66" r="3.9" fill="none" stroke="#FA5A05" stroke-width="2.4"/><circle cx="1324.8" cy="1159.31" r="3.9" fill="none" stroke="#FA5A05" stroke-width="2.4"/><circle cx="1278.59" cy="1164.3" r="3.9" fill="none" stroke="#FA5A05" stroke-width="2.4"/><circle cx="1293.88" cy="1165.96" r="3.9" fill="none" stroke="#FA5A05" stroke-width="2.4"/><circle cx="1309.18" cy="1159.97" r="3.9" fill="none" stroke="#FA5A05" stroke-width="2.4"/><circle cx="1263.3" cy="1175.93" r="3.9" fill="none" stroke="#FA5A05" stroke-width="2.4"/><circle cx="1278.59" cy="1172.61" r="3.9" fill="none" stroke="#FA5A05" stroke-width="2.4"/><circle cx="1293.88" cy="1175.27" r="3.9" fill="none" stroke="#FA5A05" stroke-width="2.4"/><circle cx="1309.18" cy="1173.27" r="3.9" fill="none" stroke="#FA5A05" stroke-width="2.4"/><circle cx="1324.8" cy="1176.6" r="3.9" fill="none" stroke="#FA5A05" stroke-width="2.4"/><circle cx="1418.88" cy="1153.32" r="3.9" fill="none" stroke="#C8641E" stroke-width="2.4"/><circle cx="1392.29" cy="1156.98" r="3.9" fill="none" stroke="#C8641E" stroke-width="2.4"/><circle cx="1397.27" cy="1165.96" r="3.9" fill="none" stroke="#C8641E" stroke-width="2.4"/><circle cx="1415.56" cy="1165.96" r="3.9" fill="none" stroke="#C8641E" stroke-width="2.4"/><circle cx="1432.85" cy="1164.3" r="3.9" fill="none" stroke="#C8641E" stroke-width="2.4"/><circle cx="1377.99" cy="1169.95" r="3.9" fill="none" stroke="#C8641E" stroke-width="2.4"/><circle cx="1387.3" cy="1173.6" r="3.9" fill="none" stroke="#C8641E" stroke-width="2.4"/><circle cx="1402.26" cy="1170.94" r="3.9" fill="none" stroke="#C8641E" stroke-width="2.4"/><circle cx="1410.57" cy="1174.27" r="3.9" fill="none" stroke="#C8641E" stroke-width="2.4"/><circle cx="1422.21" cy="1170.94" r="3.9" fill="none" stroke="#C8641E" stroke-width="2.4"/><circle cx="1442.15" cy="1167.62" r="3.9" fill="none" stroke="#C8641E" stroke-width="2.4"/><circle cx="1447.14" cy="1167.62" r="3.9" fill="none" stroke="#C8641E" stroke-width="2.4"/><circle cx="1451.46" cy="1171.94" r="3.9" fill="none" stroke="#C8641E" stroke-width="2.4"/><circle cx="1382.31" cy="1176.6" r="3.9" fill="none" stroke="#C8641E" stroke-width="2.4"/><circle cx="1392.29" cy="1175.93" r="3.9" fill="none" stroke="#C8641E" stroke-width="2.4"/><circle cx="1401.6" cy="1179.92" r="3.9" fill="none" stroke="#C8641E" stroke-width="2.4"/><circle cx="1410.57" cy="1177.59" r="3.9" fill="none" stroke="#C8641E" stroke-width="2.4"/><circle cx="1419.55" cy="1179.26" r="3.9" fill="none" stroke="#C8641E" stroke-width="2.4"/><circle cx="1428.86" cy="1176.6" r="3.9" fill="none" stroke="#C8641E" stroke-width="2.4"/><circle cx="1437.17" cy="1175.93" r="3.9" fill="none" stroke="#C8641E" stroke-width="2.4"/><circle cx="1445.48" cy="1175.27" r="3.9" fill="none" stroke="#C8641E" stroke-width="2.4"/><line x1="1172.9" y1="1133.7" x2="1172.9" y2="1183.2" stroke="#000" stroke-width="1.4" /><line x1="1162.9" y1="1133.7" x2="1182.9" y2="1133.7" stroke="#000" stroke-width="1.4" /><line x1="1162.9" y1="1183.2" x2="1182.9" y2="1183.2" stroke="#000" stroke-width="1.4" /><line x1="1152.9" y1="1158.3" x2="1192.9" y2="1158.3" stroke="#000" stroke-width="2.6" /><line x1="1293.9" y1="1126" x2="1293.9" y2="1186.6" stroke="#000" stroke-width="1.4" /><line x1="1283.9" y1="1126" x2="1303.9" y2="1126" stroke="#000" stroke-width="1.4" /><line x1="1283.9" y1="1186.6" x2="1303.9" y2="1186.6" stroke="#000" stroke-width="1.4" /><line x1="1273.9" y1="1156.6" x2="1313.9" y2="1156.6" stroke="#000" stroke-width="2.6" /><line x1="1414.9" y1="1165.3" x2="1414.9" y2="1177.6" stroke="#000" stroke-width="1.4" /><line x1="1404.9" y1="1165.3" x2="1424.9" y2="1165.3" stroke="#000" stroke-width="1.4" /><line x1="1404.9" y1="1177.6" x2="1424.9" y2="1177.6" stroke="#000" stroke-width="1.4" /><line x1="1394.9" y1="1172" x2="1434.9" y2="1172" stroke="#000" stroke-width="2.6" /><line x1="1171.2" y1="982.4" x2="1414.9" y2="982.4" stroke="#000" stroke-width="1.3" /><text x="1293.2" y="972.5" font-size="24" font-weight="normal" text-anchor="middle" fill="#000" >ns</text><line x1="1171.2" y1="1015.4" x2="1295.2" y2="1015.4" stroke="#000" stroke-width="1.3" /><text x="1233.7" y="1005" font-size="18.5" font-weight="normal" text-anchor="middle" fill="#000" >ns</text><line x1="1294.2" y1="1031.6" x2="1415.6" y2="1031.6" stroke="#000" stroke-width="1.3" /><text x="1355" y="1021.5" font-size="24" font-weight="normal" text-anchor="middle" fill="#000" >ns</text><text x="0" y="0" font-size="21.1" font-weight="bold" text-anchor="middle" dominant-baseline="central" transform="translate(1043.2,1105.1) rotate(-90)">TNF-α<tspan dy="-9" font-size="15">+</tspan><tspan dy="9"> mCD4<tspan dy="-9" font-size="15">+</tspan><tspan dy="9"> T(%)</tspan></tspan></text><text x="1294" y="947.7" font-size="24" font-weight="bold" text-anchor="middle" fill="#000" >1~6 MPV</text><text x="0" y="0" font-size="18.5" font-weight="bold" text-anchor="end" transform="translate(1180.9,1257.8) rotate(-45)">One dose</text><text x="0" y="0" font-size="18.5" font-weight="bold" text-anchor="end" transform="translate(1301.9,1257.8) rotate(-45)">Two doses</text><text x="0" y="0" font-size="18.5" font-weight="bold" text-anchor="end" transform="translate(1422.9,1257.8) rotate(-45)">Three doses</text><line x1="86.1" y1="1401.05" x2="86.1" y2="1658.05" stroke="#000" stroke-width="3.3" stroke-linecap="butt"/><line x1="75.1" y1="1656.4" x2="494" y2="1656.4" stroke="#000" stroke-width="3.3" /><line x1="75.1" y1="1656.4" x2="86.1" y2="1656.4" stroke="#000" stroke-width="3.3" /><text x="73.7" y="1664.2" font-size="17.5" font-weight="bold" text-anchor="end" fill="#000" >0</text><line x1="75.1" y1="1592.98" x2="86.1" y2="1592.98" stroke="#000" stroke-width="3.3" /><text x="73.7" y="1600.78" font-size="17.5" font-weight="bold" text-anchor="end" fill="#000" >1</text><line x1="75.1" y1="1529.55" x2="86.1" y2="1529.55" stroke="#000" stroke-width="3.3" /><text x="73.7" y="1537.35" font-size="17.5" font-weight="bold" text-anchor="end" fill="#000" >2</text><line x1="75.1" y1="1466.12" x2="86.1" y2="1466.12" stroke="#000" stroke-width="3.3" /><text x="73.7" y="1473.92" font-size="17.5" font-weight="bold" text-anchor="end" fill="#000" >3</text><line x1="75.1" y1="1402.7" x2="86.1" y2="1402.7" stroke="#000" stroke-width="3.3" /><text x="73.7" y="1410.5" font-size="17.5" font-weight="bold" text-anchor="end" fill="#000" >4</text><line x1="166.9" y1="1656.4" x2="166.9" y2="1669.05" stroke="#000" stroke-width="3.3" /><line x1="289.4" y1="1656.4" x2="289.4" y2="1669.05" stroke="#000" stroke-width="3.3" /><line x1="412.2" y1="1656.4" x2="412.2" y2="1669.05" stroke="#000" stroke-width="3.3" /><circle cx="167.56" cy="1568.64" r="3.9" fill="none" stroke="#A6A6A6" stroke-width="2.4"/><circle cx="155.21" cy="1584.33" r="3.9" fill="none" stroke="#A6A6A6" stroke-width="2.4"/><circle cx="167.56" cy="1591" r="3.9" fill="none" stroke="#A6A6A6" stroke-width="2.4"/><circle cx="167.56" cy="1605.35" r="3.9" fill="none" stroke="#A6A6A6" stroke-width="2.4"/><circle cx="142.86" cy="1621.38" r="3.9" fill="none" stroke="#A6A6A6" stroke-width="2.4"/><circle cx="167.56" cy="1618.7" r="3.9" fill="none" stroke="#A6A6A6" stroke-width="2.4"/><circle cx="180.24" cy="1614.7" r="3.9" fill="none" stroke="#A6A6A6" stroke-width="2.4"/><circle cx="191.92" cy="1618.04" r="3.9" fill="none" stroke="#A6A6A6" stroke-width="2.4"/><circle cx="155.21" cy="1625.38" r="3.9" fill="none" stroke="#A6A6A6" stroke-width="2.4"/><circle cx="180.24" cy="1625.38" r="3.9" fill="none" stroke="#A6A6A6" stroke-width="2.4"/><circle cx="167.56" cy="1627.72" r="3.9" fill="none" stroke="#A6A6A6" stroke-width="2.4"/><circle cx="130.17" cy="1632.72" r="3.9" fill="none" stroke="#A6A6A6" stroke-width="2.4"/><circle cx="155.21" cy="1632.06" r="3.9" fill="none" stroke="#A6A6A6" stroke-width="2.4"/><circle cx="167.56" cy="1637.06" r="3.9" fill="none" stroke="#A6A6A6" stroke-width="2.4"/><circle cx="180.24" cy="1635.39" r="3.9" fill="none" stroke="#A6A6A6" stroke-width="2.4"/><circle cx="142.86" cy="1637.06" r="3.9" fill="none" stroke="#A6A6A6" stroke-width="2.4"/><circle cx="130.17" cy="1640.4" r="3.9" fill="none" stroke="#A6A6A6" stroke-width="2.4"/><circle cx="155.21" cy="1640.4" r="3.9" fill="none" stroke="#A6A6A6" stroke-width="2.4"/><circle cx="191.92" cy="1638.73" r="3.9" fill="none" stroke="#A6A6A6" stroke-width="2.4"/><circle cx="204.27" cy="1642.07" r="3.9" fill="none" stroke="#A6A6A6" stroke-width="2.4"/><circle cx="180.24" cy="1645.41" r="3.9" fill="none" stroke="#A6A6A6" stroke-width="2.4"/><circle cx="286.05" cy="1477.85" r="3.9" fill="none" stroke="#005C00" stroke-width="2.4"/><circle cx="293.06" cy="1491.87" r="3.9" fill="none" stroke="#005C00" stroke-width="2.4"/><circle cx="293.06" cy="1506.89" r="3.9" fill="none" stroke="#005C00" stroke-width="2.4"/><circle cx="286.05" cy="1514.23" r="3.9" fill="none" stroke="#005C00" stroke-width="2.4"/><circle cx="293.06" cy="1545.27" r="3.9" fill="none" stroke="#005C00" stroke-width="2.4"/><circle cx="286.05" cy="1546.94" r="3.9" fill="none" stroke="#005C00" stroke-width="2.4"/><circle cx="299.73" cy="1574.65" r="3.9" fill="none" stroke="#005C00" stroke-width="2.4"/><circle cx="273.03" cy="1587" r="3.9" fill="none" stroke="#005C00" stroke-width="2.4"/><circle cx="286.05" cy="1587.66" r="3.9" fill="none" stroke="#005C00" stroke-width="2.4"/><circle cx="293.06" cy="1585.33" r="3.9" fill="none" stroke="#005C00" stroke-width="2.4"/><circle cx="306.41" cy="1582.66" r="3.9" fill="none" stroke="#005C00" stroke-width="2.4"/><circle cx="299.73" cy="1593.67" r="3.9" fill="none" stroke="#005C00" stroke-width="2.4"/><circle cx="306.41" cy="1592" r="3.9" fill="none" stroke="#005C00" stroke-width="2.4"/><circle cx="253.67" cy="1604.35" r="3.9" fill="none" stroke="#005C00" stroke-width="2.4"/><circle cx="260.35" cy="1604.35" r="3.9" fill="none" stroke="#005C00" stroke-width="2.4"/><circle cx="273.03" cy="1608.02" r="3.9" fill="none" stroke="#005C00" stroke-width="2.4"/><circle cx="280.37" cy="1603.68" r="3.9" fill="none" stroke="#005C00" stroke-width="2.4"/><circle cx="293.06" cy="1603.68" r="3.9" fill="none" stroke="#005C00" stroke-width="2.4"/><circle cx="306.41" cy="1602.02" r="3.9" fill="none" stroke="#005C00" stroke-width="2.4"/><circle cx="313.75" cy="1601.35" r="3.9" fill="none" stroke="#005C00" stroke-width="2.4"/><circle cx="327.1" cy="1600.35" r="3.9" fill="none" stroke="#005C00" stroke-width="2.4"/><circle cx="320.43" cy="1607.02" r="3.9" fill="none" stroke="#005C00" stroke-width="2.4"/><circle cx="327.1" cy="1608.69" r="3.9" fill="none" stroke="#005C00" stroke-width="2.4"/><circle cx="266.36" cy="1615.37" r="3.9" fill="none" stroke="#005C00" stroke-width="2.4"/><circle cx="286.05" cy="1608.69" r="3.9" fill="none" stroke="#005C00" stroke-width="2.4"/><circle cx="299.73" cy="1611.03" r="3.9" fill="none" stroke="#005C00" stroke-width="2.4"/><circle cx="313.08" cy="1612.03" r="3.9" fill="none" stroke="#005C00" stroke-width="2.4"/><circle cx="273.03" cy="1622.04" r="3.9" fill="none" stroke="#005C00" stroke-width="2.4"/><circle cx="286.05" cy="1619.71" r="3.9" fill="none" stroke="#005C00" stroke-width="2.4"/><circle cx="293.06" cy="1623.71" r="3.9" fill="none" stroke="#005C00" stroke-width="2.4"/><circle cx="299.73" cy="1621.38" r="3.9" fill="none" stroke="#005C00" stroke-width="2.4"/><circle cx="306.41" cy="1622.04" r="3.9" fill="none" stroke="#005C00" stroke-width="2.4"/><circle cx="319.76" cy="1618.7" r="3.9" fill="none" stroke="#005C00" stroke-width="2.4"/><circle cx="260.35" cy="1624.71" r="3.9" fill="none" stroke="#005C00" stroke-width="2.4"/><circle cx="273.7" cy="1628.72" r="3.9" fill="none" stroke="#005C00" stroke-width="2.4"/><circle cx="286.05" cy="1627.05" r="3.9" fill="none" stroke="#005C00" stroke-width="2.4"/><circle cx="293.06" cy="1630.39" r="3.9" fill="none" stroke="#005C00" stroke-width="2.4"/><circle cx="306.41" cy="1630.39" r="3.9" fill="none" stroke="#005C00" stroke-width="2.4"/><circle cx="313.08" cy="1626.05" r="3.9" fill="none" stroke="#005C00" stroke-width="2.4"/><circle cx="266.36" cy="1632.72" r="3.9" fill="none" stroke="#005C00" stroke-width="2.4"/><circle cx="280.37" cy="1637.06" r="3.9" fill="none" stroke="#005C00" stroke-width="2.4"/><circle cx="286.05" cy="1635.39" r="3.9" fill="none" stroke="#005C00" stroke-width="2.4"/><circle cx="293.06" cy="1633.06" r="3.9" fill="none" stroke="#005C00" stroke-width="2.4"/><circle cx="299.73" cy="1632.72" r="3.9" fill="none" stroke="#005C00" stroke-width="2.4"/><circle cx="306.41" cy="1631.05" r="3.9" fill="none" stroke="#005C00" stroke-width="2.4"/><circle cx="293.06" cy="1642.74" r="3.9" fill="none" stroke="#005C00" stroke-width="2.4"/><circle cx="299.73" cy="1642.74" r="3.9" fill="none" stroke="#005C00" stroke-width="2.4"/><circle cx="280.37" cy="1648.08" r="3.9" fill="none" stroke="#005C00" stroke-width="2.4"/><circle cx="412.22" cy="1495.21" r="3.9" fill="none" stroke="#9E661C" stroke-width="2.4"/><circle cx="412.22" cy="1565.97" r="3.9" fill="none" stroke="#9E661C" stroke-width="2.4"/><circle cx="421.23" cy="1599.68" r="3.9" fill="none" stroke="#9E661C" stroke-width="2.4"/><circle cx="393.86" cy="1611.36" r="3.9" fill="none" stroke="#9E661C" stroke-width="2.4"/><circle cx="402.87" cy="1606.02" r="3.9" fill="none" stroke="#9E661C" stroke-width="2.4"/><circle cx="384.51" cy="1623.71" r="3.9" fill="none" stroke="#9E661C" stroke-width="2.4"/><circle cx="393.86" cy="1620.37" r="3.9" fill="none" stroke="#9E661C" stroke-width="2.4"/><circle cx="402.87" cy="1618.04" r="3.9" fill="none" stroke="#9E661C" stroke-width="2.4"/><circle cx="412.22" cy="1621.38" r="3.9" fill="none" stroke="#9E661C" stroke-width="2.4"/><circle cx="421.23" cy="1625.38" r="3.9" fill="none" stroke="#9E661C" stroke-width="2.4"/><circle cx="430.57" cy="1622.04" r="3.9" fill="none" stroke="#9E661C" stroke-width="2.4"/><circle cx="375.5" cy="1628.05" r="3.9" fill="none" stroke="#9E661C" stroke-width="2.4"/><circle cx="384.51" cy="1633.06" r="3.9" fill="none" stroke="#9E661C" stroke-width="2.4"/><circle cx="393.86" cy="1629.72" r="3.9" fill="none" stroke="#9E661C" stroke-width="2.4"/><circle cx="402.87" cy="1627.05" r="3.9" fill="none" stroke="#9E661C" stroke-width="2.4"/><circle cx="412.22" cy="1630.39" r="3.9" fill="none" stroke="#9E661C" stroke-width="2.4"/><circle cx="421.23" cy="1634.39" r="3.9" fill="none" stroke="#9E661C" stroke-width="2.4"/><circle cx="430.57" cy="1632.72" r="3.9" fill="none" stroke="#9E661C" stroke-width="2.4"/><circle cx="439.92" cy="1636.4" r="3.9" fill="none" stroke="#9E661C" stroke-width="2.4"/><circle cx="439.92" cy="1628.72" r="3.9" fill="none" stroke="#9E661C" stroke-width="2.4"/><circle cx="448.93" cy="1628.05" r="3.9" fill="none" stroke="#9E661C" stroke-width="2.4"/><circle cx="402.87" cy="1638.06" r="3.9" fill="none" stroke="#9E661C" stroke-width="2.4"/><circle cx="412.22" cy="1653.75" r="3.9" fill="none" stroke="#9E661C" stroke-width="2.4"/><line x1="166.9" y1="1602" x2="166.9" y2="1643.7" stroke="#000" stroke-width="1.4" /><line x1="156.9" y1="1602" x2="176.9" y2="1602" stroke="#000" stroke-width="1.4" /><line x1="156.9" y1="1643.7" x2="176.9" y2="1643.7" stroke="#000" stroke-width="1.4" /><line x1="146.9" y1="1623" x2="186.9" y2="1623" stroke="#000" stroke-width="2.6" /><line x1="289.4" y1="1564.3" x2="289.4" y2="1638" stroke="#000" stroke-width="1.4" /><line x1="279.4" y1="1564.3" x2="299.4" y2="1564.3" stroke="#000" stroke-width="1.4" /><line x1="279.4" y1="1638" x2="299.4" y2="1638" stroke="#000" stroke-width="1.4" /><line x1="269.4" y1="1602" x2="309.4" y2="1602" stroke="#000" stroke-width="2.6" /><line x1="412.2" y1="1586.3" x2="412.2" y2="1649.7" stroke="#000" stroke-width="1.4" /><line x1="402.2" y1="1586.3" x2="422.2" y2="1586.3" stroke="#000" stroke-width="1.4" /><line x1="402.2" y1="1649.7" x2="422.2" y2="1649.7" stroke="#000" stroke-width="1.4" /><line x1="392.2" y1="1617.7" x2="432.2" y2="1617.7" stroke="#000" stroke-width="2.6" /><line x1="163.6" y1="1404.4" x2="409.5" y2="1404.4" stroke="#000" stroke-width="1.3" /><text x="286.4" y="1394" font-size="18.5" font-weight="normal" text-anchor="middle" fill="#000" >ns</text><line x1="165.9" y1="1439.5" x2="288.7" y2="1439.5" stroke="#000" stroke-width="1.3" /><path d="M221.25,1422.90 L221.25,1431.70 M217.44,1425.10 L225.06,1429.50 M217.44,1429.50 L225.06,1425.10 M232.75,1422.90 L232.75,1431.70 M228.94,1425.10 L236.56,1429.50 M228.94,1429.50 L236.56,1425.10 " stroke="#000" stroke-width="1.9" stroke-linecap="round" fill="none"/><line x1="288.7" y1="1460.2" x2="412.9" y2="1460.2" stroke="#000" stroke-width="1.3" /><path d="M350.50,1443.60 L350.50,1452.40 M346.69,1445.80 L354.31,1450.20 M346.69,1450.20 L354.31,1445.80 " stroke="#000" stroke-width="1.9" stroke-linecap="round" fill="none"/><text x="0" y="0" font-size="21.1" font-weight="bold" text-anchor="middle" dominant-baseline="central" transform="translate(41.4,1530.4) rotate(-90)">IL-4<tspan dy="-9" font-size="15">+</tspan><tspan dy="9"> mCD4<tspan dy="-9" font-size="15">+</tspan><tspan dy="9"> T (%)</tspan></tspan></text><text x="0" y="0" font-size="18.5" font-weight="bold" text-anchor="end" transform="translate(174.9,1683.4) rotate(-45)">Infection-only</text><text x="0" y="0" font-size="18.5" font-weight="bold" text-anchor="end" transform="translate(297.4,1683.4) rotate(-45)">1 ~ 6 MPV</text><text x="0" y="0" font-size="18.5" font-weight="bold" text-anchor="end" transform="translate(420.2,1683.4) rotate(-45)">7 ~ 12 MPV</text><line x1="598.5" y1="1398.35" x2="598.5" y2="1657.05" stroke="#000" stroke-width="3.3" stroke-linecap="butt"/><line x1="587.5" y1="1655.4" x2="995.7" y2="1655.4" stroke="#000" stroke-width="3.3" /><line x1="587.5" y1="1655.4" x2="598.5" y2="1655.4" stroke="#000" stroke-width="3.3" /><text x="586.1" y="1663.2" font-size="17.5" font-weight="bold" text-anchor="end" fill="#000" >0.0</text><line x1="587.5" y1="1570.27" x2="598.5" y2="1570.27" stroke="#000" stroke-width="3.3" /><text x="586.1" y="1578.07" font-size="17.5" font-weight="bold" text-anchor="end" fill="#000" >0.5</text><line x1="587.5" y1="1485.13" x2="598.5" y2="1485.13" stroke="#000" stroke-width="3.3" /><text x="586.1" y="1492.93" font-size="17.5" font-weight="bold" text-anchor="end" fill="#000" >1.0</text><line x1="587.5" y1="1400" x2="598.5" y2="1400" stroke="#000" stroke-width="3.3" /><text x="586.1" y="1407.8" font-size="17.5" font-weight="bold" text-anchor="end" fill="#000" >1.5</text><line x1="676.9" y1="1655.4" x2="676.9" y2="1668.05" stroke="#000" stroke-width="3.3" /><line x1="796.4" y1="1655.4" x2="796.4" y2="1668.05" stroke="#000" stroke-width="3.3" /><line x1="915.5" y1="1655.4" x2="915.5" y2="1668.05" stroke="#000" stroke-width="3.3" /><circle cx="684.25" cy="1571.98" r="3.9" fill="none" stroke="#A6A6A6" stroke-width="2.4"/><circle cx="684.25" cy="1580.32" r="3.9" fill="none" stroke="#A6A6A6" stroke-width="2.4"/><circle cx="670.23" cy="1602.02" r="3.9" fill="none" stroke="#A6A6A6" stroke-width="2.4"/><circle cx="684.25" cy="1604.69" r="3.9" fill="none" stroke="#A6A6A6" stroke-width="2.4"/><circle cx="655.21" cy="1610.36" r="3.9" fill="none" stroke="#A6A6A6" stroke-width="2.4"/><circle cx="670.23" cy="1611.03" r="3.9" fill="none" stroke="#A6A6A6" stroke-width="2.4"/><circle cx="699.27" cy="1609.69" r="3.9" fill="none" stroke="#A6A6A6" stroke-width="2.4"/><circle cx="655.21" cy="1623.04" r="3.9" fill="none" stroke="#A6A6A6" stroke-width="2.4"/><circle cx="684.25" cy="1619.71" r="3.9" fill="none" stroke="#A6A6A6" stroke-width="2.4"/><circle cx="670.23" cy="1629.72" r="3.9" fill="none" stroke="#A6A6A6" stroke-width="2.4"/><circle cx="684.25" cy="1628.72" r="3.9" fill="none" stroke="#A6A6A6" stroke-width="2.4"/><circle cx="640.19" cy="1632.06" r="3.9" fill="none" stroke="#A6A6A6" stroke-width="2.4"/><circle cx="655.21" cy="1632.06" r="3.9" fill="none" stroke="#A6A6A6" stroke-width="2.4"/><circle cx="699.27" cy="1632.06" r="3.9" fill="none" stroke="#A6A6A6" stroke-width="2.4"/><circle cx="713.62" cy="1632.06" r="3.9" fill="none" stroke="#A6A6A6" stroke-width="2.4"/><circle cx="640.19" cy="1640.4" r="3.9" fill="none" stroke="#A6A6A6" stroke-width="2.4"/><circle cx="684.25" cy="1643.74" r="3.9" fill="none" stroke="#A6A6A6" stroke-width="2.4"/><circle cx="713.62" cy="1643.74" r="3.9" fill="none" stroke="#A6A6A6" stroke-width="2.4"/><circle cx="670.23" cy="1647.08" r="3.9" fill="none" stroke="#A6A6A6" stroke-width="2.4"/><circle cx="640.19" cy="1650.41" r="3.9" fill="none" stroke="#A6A6A6" stroke-width="2.4"/><circle cx="699.27" cy="1650.41" r="3.9" fill="none" stroke="#A6A6A6" stroke-width="2.4"/><circle cx="799.73" cy="1476.85" r="3.9" fill="none" stroke="#005C00" stroke-width="2.4"/><circle cx="793.06" cy="1478.52" r="3.9" fill="none" stroke="#005C00" stroke-width="2.4"/><circle cx="793.06" cy="1504.22" r="3.9" fill="none" stroke="#005C00" stroke-width="2.4"/><circle cx="793.06" cy="1532.92" r="3.9" fill="none" stroke="#005C00" stroke-width="2.4"/><circle cx="786.05" cy="1548.61" r="3.9" fill="none" stroke="#005C00" stroke-width="2.4"/><circle cx="799.73" cy="1550.28" r="3.9" fill="none" stroke="#005C00" stroke-width="2.4"/><circle cx="806.41" cy="1548.61" r="3.9" fill="none" stroke="#005C00" stroke-width="2.4"/><circle cx="786.05" cy="1559.29" r="3.9" fill="none" stroke="#005C00" stroke-width="2.4"/><circle cx="793.06" cy="1568.64" r="3.9" fill="none" stroke="#005C00" stroke-width="2.4"/><circle cx="806.41" cy="1566.3" r="3.9" fill="none" stroke="#005C00" stroke-width="2.4"/><circle cx="786.05" cy="1576.32" r="3.9" fill="none" stroke="#005C00" stroke-width="2.4"/><circle cx="799.73" cy="1575.31" r="3.9" fill="none" stroke="#005C00" stroke-width="2.4"/><circle cx="806.41" cy="1574.65" r="3.9" fill="none" stroke="#005C00" stroke-width="2.4"/><circle cx="779.71" cy="1588.66" r="3.9" fill="none" stroke="#005C00" stroke-width="2.4"/><circle cx="793.06" cy="1583.66" r="3.9" fill="none" stroke="#005C00" stroke-width="2.4"/><circle cx="799.73" cy="1587" r="3.9" fill="none" stroke="#005C00" stroke-width="2.4"/><circle cx="813.08" cy="1592.67" r="3.9" fill="none" stroke="#005C00" stroke-width="2.4"/><circle cx="786.05" cy="1594.34" r="3.9" fill="none" stroke="#005C00" stroke-width="2.4"/><circle cx="793.06" cy="1599.68" r="3.9" fill="none" stroke="#005C00" stroke-width="2.4"/><circle cx="806.41" cy="1595.34" r="3.9" fill="none" stroke="#005C00" stroke-width="2.4"/><circle cx="813.08" cy="1604.69" r="3.9" fill="none" stroke="#005C00" stroke-width="2.4"/><circle cx="773.03" cy="1616.37" r="3.9" fill="none" stroke="#005C00" stroke-width="2.4"/><circle cx="779.71" cy="1620.37" r="3.9" fill="none" stroke="#005C00" stroke-width="2.4"/><circle cx="793.06" cy="1613.7" r="3.9" fill="none" stroke="#005C00" stroke-width="2.4"/><circle cx="806.41" cy="1613.03" r="3.9" fill="none" stroke="#005C00" stroke-width="2.4"/><circle cx="819.76" cy="1614.7" r="3.9" fill="none" stroke="#005C00" stroke-width="2.4"/><circle cx="760.35" cy="1624.71" r="3.9" fill="none" stroke="#005C00" stroke-width="2.4"/><circle cx="766.36" cy="1626.38" r="3.9" fill="none" stroke="#005C00" stroke-width="2.4"/><circle cx="773.03" cy="1632.06" r="3.9" fill="none" stroke="#005C00" stroke-width="2.4"/><circle cx="786.05" cy="1627.72" r="3.9" fill="none" stroke="#005C00" stroke-width="2.4"/><circle cx="793.06" cy="1627.72" r="3.9" fill="none" stroke="#005C00" stroke-width="2.4"/><circle cx="799.73" cy="1625.38" r="3.9" fill="none" stroke="#005C00" stroke-width="2.4"/><circle cx="806.41" cy="1622.04" r="3.9" fill="none" stroke="#005C00" stroke-width="2.4"/><circle cx="813.08" cy="1625.38" r="3.9" fill="none" stroke="#005C00" stroke-width="2.4"/><circle cx="819.76" cy="1624.71" r="3.9" fill="none" stroke="#005C00" stroke-width="2.4"/><circle cx="826.44" cy="1624.71" r="3.9" fill="none" stroke="#005C00" stroke-width="2.4"/><circle cx="833.11" cy="1625.38" r="3.9" fill="none" stroke="#005C00" stroke-width="2.4"/><circle cx="779.71" cy="1632.06" r="3.9" fill="none" stroke="#005C00" stroke-width="2.4"/><circle cx="793.06" cy="1633.06" r="3.9" fill="none" stroke="#005C00" stroke-width="2.4"/><circle cx="799.73" cy="1634.73" r="3.9" fill="none" stroke="#005C00" stroke-width="2.4"/><circle cx="806.41" cy="1633.06" r="3.9" fill="none" stroke="#005C00" stroke-width="2.4"/><circle cx="813.08" cy="1633.72" r="3.9" fill="none" stroke="#005C00" stroke-width="2.4"/><circle cx="826.44" cy="1632.06" r="3.9" fill="none" stroke="#005C00" stroke-width="2.4"/><circle cx="779.71" cy="1640.4" r="3.9" fill="none" stroke="#005C00" stroke-width="2.4"/><circle cx="793.06" cy="1638.06" r="3.9" fill="none" stroke="#005C00" stroke-width="2.4"/><circle cx="806.41" cy="1638.06" r="3.9" fill="none" stroke="#005C00" stroke-width="2.4"/><circle cx="799.73" cy="1645.41" r="3.9" fill="none" stroke="#005C00" stroke-width="2.4"/><circle cx="793.06" cy="1653.75" r="3.9" fill="none" stroke="#005C00" stroke-width="2.4"/><circle cx="907.88" cy="1515.9" r="3.9" fill="none" stroke="#9E661C" stroke-width="2.4"/><circle cx="922.23" cy="1522.91" r="3.9" fill="none" stroke="#9E661C" stroke-width="2.4"/><circle cx="922.23" cy="1561.96" r="3.9" fill="none" stroke="#9E661C" stroke-width="2.4"/><circle cx="907.88" cy="1575.31" r="3.9" fill="none" stroke="#9E661C" stroke-width="2.4"/><circle cx="922.23" cy="1580.99" r="3.9" fill="none" stroke="#9E661C" stroke-width="2.4"/><circle cx="907.88" cy="1587.66" r="3.9" fill="none" stroke="#9E661C" stroke-width="2.4"/><circle cx="936.58" cy="1588.66" r="3.9" fill="none" stroke="#9E661C" stroke-width="2.4"/><circle cx="907.88" cy="1596.01" r="3.9" fill="none" stroke="#9E661C" stroke-width="2.4"/><circle cx="922.23" cy="1594.67" r="3.9" fill="none" stroke="#9E661C" stroke-width="2.4"/><circle cx="922.23" cy="1613.03" r="3.9" fill="none" stroke="#9E661C" stroke-width="2.4"/><circle cx="907.88" cy="1612.03" r="3.9" fill="none" stroke="#9E661C" stroke-width="2.4"/><circle cx="936.58" cy="1609.69" r="3.9" fill="none" stroke="#9E661C" stroke-width="2.4"/><circle cx="922.23" cy="1627.72" r="3.9" fill="none" stroke="#9E661C" stroke-width="2.4"/><circle cx="907.88" cy="1627.72" r="3.9" fill="none" stroke="#9E661C" stroke-width="2.4"/><circle cx="879.51" cy="1634.73" r="3.9" fill="none" stroke="#9E661C" stroke-width="2.4"/><circle cx="893.86" cy="1632.06" r="3.9" fill="none" stroke="#9E661C" stroke-width="2.4"/><circle cx="907.88" cy="1637.06" r="3.9" fill="none" stroke="#9E661C" stroke-width="2.4"/><circle cx="922.23" cy="1638.06" r="3.9" fill="none" stroke="#9E661C" stroke-width="2.4"/><circle cx="936.58" cy="1638.73" r="3.9" fill="none" stroke="#9E661C" stroke-width="2.4"/><circle cx="951.6" cy="1632.06" r="3.9" fill="none" stroke="#9E661C" stroke-width="2.4"/><circle cx="893.86" cy="1640.4" r="3.9" fill="none" stroke="#9E661C" stroke-width="2.4"/><circle cx="893.86" cy="1650.41" r="3.9" fill="none" stroke="#9E661C" stroke-width="2.4"/><circle cx="922.23" cy="1648.74" r="3.9" fill="none" stroke="#9E661C" stroke-width="2.4"/><circle cx="936.58" cy="1647.08" r="3.9" fill="none" stroke="#9E661C" stroke-width="2.4"/><line x1="676.9" y1="1602" x2="676.9" y2="1645.4" stroke="#000" stroke-width="1.4" /><line x1="666.9" y1="1602" x2="686.9" y2="1602" stroke="#000" stroke-width="1.4" /><line x1="666.9" y1="1645.4" x2="686.9" y2="1645.4" stroke="#000" stroke-width="1.4" /><line x1="656.9" y1="1623.7" x2="696.9" y2="1623.7" stroke="#000" stroke-width="2.6" /><line x1="796.4" y1="1559.3" x2="796.4" y2="1641.4" stroke="#000" stroke-width="1.4" /><line x1="786.4" y1="1559.3" x2="806.4" y2="1559.3" stroke="#000" stroke-width="1.4" /><line x1="786.4" y1="1641.4" x2="806.4" y2="1641.4" stroke="#000" stroke-width="1.4" /><line x1="776.4" y1="1599.3" x2="816.4" y2="1599.3" stroke="#000" stroke-width="2.6" /><line x1="915.5" y1="1570.3" x2="915.5" y2="1646" stroke="#000" stroke-width="1.4" /><line x1="905.5" y1="1570.3" x2="925.5" y2="1570.3" stroke="#000" stroke-width="1.4" /><line x1="905.5" y1="1646" x2="925.5" y2="1646" stroke="#000" stroke-width="1.4" /><line x1="895.5" y1="1608" x2="935.5" y2="1608" stroke="#000" stroke-width="2.6" /><line x1="676.2" y1="1405" x2="914.9" y2="1405" stroke="#000" stroke-width="1.3" /><text x="795.4" y="1394" font-size="18.5" font-weight="normal" text-anchor="middle" fill="#000" >ns</text><line x1="676.2" y1="1439" x2="796.4" y2="1439" stroke="#000" stroke-width="1.3" /><path d="M736.30,1422.40 L736.30,1431.20 M732.49,1424.60 L740.11,1429.00 M732.49,1429.00 L740.11,1424.60 " stroke="#000" stroke-width="1.9" stroke-linecap="round" fill="none"/><line x1="796.4" y1="1456.2" x2="916.2" y2="1456.2" stroke="#000" stroke-width="1.3" /><text x="855.5" y="1445.5" font-size="18.5" font-weight="normal" text-anchor="middle" fill="#000" >ns</text><text x="0" y="0" font-size="21.1" font-weight="bold" text-anchor="middle" dominant-baseline="central" transform="translate(541.4,1530) rotate(-90)">IFN-γ<tspan dy="-9" font-size="15">+</tspan><tspan dy="9"> mCD4<tspan dy="-9" font-size="15">+</tspan><tspan dy="9"> T (%)</tspan></tspan></text><text x="0" y="0" font-size="18.5" font-weight="bold" text-anchor="end" transform="translate(684.9,1682.4) rotate(-45)">Infection-only</text><text x="0" y="0" font-size="18.5" font-weight="bold" text-anchor="end" transform="translate(804.4,1682.4) rotate(-45)">1 ~ 6 MPV</text><text x="0" y="0" font-size="18.5" font-weight="bold" text-anchor="end" transform="translate(923.5,1682.4) rotate(-45)">7 ~ 12 MPV</text><line x1="1087.1" y1="1398.85" x2="1087.1" y2="1657.45" stroke="#000" stroke-width="3.3" stroke-linecap="butt"/><line x1="1076.1" y1="1655.8" x2="1497" y2="1655.8" stroke="#000" stroke-width="3.3" /><line x1="1076.1" y1="1627.2" x2="1087.1" y2="1627.2" stroke="#000" stroke-width="3.3" /><text x="1074.7" y="1635" font-size="17.5" font-weight="bold" text-anchor="end" fill="#000" >0</text><line x1="1076.1" y1="1570.53" x2="1087.1" y2="1570.53" stroke="#000" stroke-width="3.3" /><text x="1074.7" y="1578.33" font-size="17.5" font-weight="bold" text-anchor="end" fill="#000" >2</text><line x1="1076.1" y1="1513.85" x2="1087.1" y2="1513.85" stroke="#000" stroke-width="3.3" /><text x="1074.7" y="1521.65" font-size="17.5" font-weight="bold" text-anchor="end" fill="#000" >4</text><line x1="1076.1" y1="1457.17" x2="1087.1" y2="1457.17" stroke="#000" stroke-width="3.3" /><text x="1074.7" y="1464.97" font-size="17.5" font-weight="bold" text-anchor="end" fill="#000" >6</text><line x1="1076.1" y1="1400.5" x2="1087.1" y2="1400.5" stroke="#000" stroke-width="3.3" /><text x="1074.7" y="1408.3" font-size="17.5" font-weight="bold" text-anchor="end" fill="#000" >8</text><line x1="1168.6" y1="1655.8" x2="1168.6" y2="1668.45" stroke="#000" stroke-width="3.3" /><line x1="1291.6" y1="1655.8" x2="1291.6" y2="1668.45" stroke="#000" stroke-width="3.3" /><line x1="1413.9" y1="1655.8" x2="1413.9" y2="1668.45" stroke="#000" stroke-width="3.3" /><line x1="1093.1" y1="1627.2" x2="1497" y2="1627.2" stroke="#000" stroke-width="2.8" stroke-linecap="round" stroke-dasharray="0.01 8.2"/><circle cx="1171.88" cy="1470.32" r="3.9" fill="none" stroke="#A6A6A6" stroke-width="2.4"/><circle cx="1171.88" cy="1536.81" r="3.9" fill="none" stroke="#A6A6A6" stroke-width="2.4"/><circle cx="1165.23" cy="1554.43" r="3.9" fill="none" stroke="#A6A6A6" stroke-width="2.4"/><circle cx="1165.23" cy="1565.07" r="3.9" fill="none" stroke="#A6A6A6" stroke-width="2.4"/><circle cx="1171.88" cy="1583.68" r="3.9" fill="none" stroke="#A6A6A6" stroke-width="2.4"/><circle cx="1165.23" cy="1604.96" r="3.9" fill="none" stroke="#A6A6A6" stroke-width="2.4"/><circle cx="1132.31" cy="1614.27" r="3.9" fill="none" stroke="#A6A6A6" stroke-width="2.4"/><circle cx="1138.96" cy="1620.25" r="3.9" fill="none" stroke="#A6A6A6" stroke-width="2.4"/><circle cx="1145.61" cy="1621.91" r="3.9" fill="none" stroke="#A6A6A6" stroke-width="2.4"/><circle cx="1152.26" cy="1620.25" r="3.9" fill="none" stroke="#A6A6A6" stroke-width="2.4"/><circle cx="1158.91" cy="1616.93" r="3.9" fill="none" stroke="#A6A6A6" stroke-width="2.4"/><circle cx="1165.56" cy="1621.91" r="3.9" fill="none" stroke="#A6A6A6" stroke-width="2.4"/><circle cx="1132.31" cy="1625.24" r="3.9" fill="none" stroke="#A6A6A6" stroke-width="2.4"/><circle cx="1158.91" cy="1626.57" r="3.9" fill="none" stroke="#A6A6A6" stroke-width="2.4"/><circle cx="1171.88" cy="1625.9" r="3.9" fill="none" stroke="#A6A6A6" stroke-width="2.4"/><circle cx="1178.86" cy="1624.24" r="3.9" fill="none" stroke="#A6A6A6" stroke-width="2.4"/><circle cx="1185.51" cy="1626.57" r="3.9" fill="none" stroke="#A6A6A6" stroke-width="2.4"/><circle cx="1192.15" cy="1624.91" r="3.9" fill="none" stroke="#A6A6A6" stroke-width="2.4"/><circle cx="1198.8" cy="1624.91" r="3.9" fill="none" stroke="#A6A6A6" stroke-width="2.4"/><circle cx="1205.45" cy="1625.9" r="3.9" fill="none" stroke="#A6A6A6" stroke-width="2.4"/><circle cx="1293.55" cy="1465.33" r="3.1" fill="none" stroke="#005C00" stroke-width="2.1"/><circle cx="1288.56" cy="1480.29" r="3.1" fill="none" stroke="#005C00" stroke-width="2.1"/><circle cx="1293.55" cy="1488.94" r="3.1" fill="none" stroke="#005C00" stroke-width="2.1"/><circle cx="1288.56" cy="1515.2" r="3.1" fill="none" stroke="#005C00" stroke-width="2.1"/><circle cx="1293.55" cy="1517.19" r="3.1" fill="none" stroke="#005C00" stroke-width="2.1"/><circle cx="1293.55" cy="1542.13" r="3.1" fill="none" stroke="#005C00" stroke-width="2.1"/><circle cx="1288.56" cy="1570.39" r="3.1" fill="none" stroke="#005C00" stroke-width="2.1"/><circle cx="1288.56" cy="1577.03" r="3.1" fill="none" stroke="#005C00" stroke-width="2.1"/><circle cx="1288.56" cy="1586.68" r="3.1" fill="none" stroke="#005C00" stroke-width="2.1"/><circle cx="1293.55" cy="1590" r="3.1" fill="none" stroke="#005C00" stroke-width="2.1"/><circle cx="1275.93" cy="1596.65" r="3.1" fill="none" stroke="#005C00" stroke-width="2.1"/><circle cx="1283.24" cy="1596.65" r="3.1" fill="none" stroke="#005C00" stroke-width="2.1"/><circle cx="1288.56" cy="1598.64" r="3.1" fill="none" stroke="#005C00" stroke-width="2.1"/><circle cx="1296.88" cy="1597.65" r="3.1" fill="none" stroke="#005C00" stroke-width="2.1"/><circle cx="1303.19" cy="1599.31" r="3.1" fill="none" stroke="#005C00" stroke-width="2.1"/><circle cx="1309.18" cy="1599.97" r="3.1" fill="none" stroke="#005C00" stroke-width="2.1"/><circle cx="1283.24" cy="1602.63" r="3.1" fill="none" stroke="#005C00" stroke-width="2.1"/><circle cx="1293.55" cy="1604.3" r="3.1" fill="none" stroke="#005C00" stroke-width="2.1"/><circle cx="1303.19" cy="1602.63" r="3.1" fill="none" stroke="#005C00" stroke-width="2.1"/><circle cx="1262.63" cy="1611.94" r="3.1" fill="none" stroke="#005C00" stroke-width="2.1"/><circle cx="1269.28" cy="1614.27" r="3.1" fill="none" stroke="#005C00" stroke-width="2.1"/><circle cx="1283.24" cy="1609.28" r="3.1" fill="none" stroke="#005C00" stroke-width="2.1"/><circle cx="1288.56" cy="1611.94" r="3.1" fill="none" stroke="#005C00" stroke-width="2.1"/><circle cx="1296.88" cy="1609.28" r="3.1" fill="none" stroke="#005C00" stroke-width="2.1"/><circle cx="1303.19" cy="1607.62" r="3.1" fill="none" stroke="#005C00" stroke-width="2.1"/><circle cx="1255.98" cy="1620.25" r="3.1" fill="none" stroke="#005C00" stroke-width="2.1"/><circle cx="1262.63" cy="1618.59" r="3.1" fill="none" stroke="#005C00" stroke-width="2.1"/><circle cx="1275.93" cy="1619.26" r="3.1" fill="none" stroke="#005C00" stroke-width="2.1"/><circle cx="1283.24" cy="1618.26" r="3.1" fill="none" stroke="#005C00" stroke-width="2.1"/><circle cx="1288.56" cy="1619.26" r="3.1" fill="none" stroke="#005C00" stroke-width="2.1"/><circle cx="1296.88" cy="1618.59" r="3.1" fill="none" stroke="#005C00" stroke-width="2.1"/><circle cx="1303.19" cy="1618.59" r="3.1" fill="none" stroke="#005C00" stroke-width="2.1"/><circle cx="1309.18" cy="1618.59" r="3.1" fill="none" stroke="#005C00" stroke-width="2.1"/><circle cx="1315.82" cy="1617.59" r="3.1" fill="none" stroke="#005C00" stroke-width="2.1"/><circle cx="1322.47" cy="1619.26" r="3.1" fill="none" stroke="#005C00" stroke-width="2.1"/><circle cx="1329.12" cy="1618.59" r="3.1" fill="none" stroke="#005C00" stroke-width="2.1"/><circle cx="1329.12" cy="1614.27" r="3.1" fill="none" stroke="#005C00" stroke-width="2.1"/><circle cx="1269.28" cy="1624.24" r="3.1" fill="none" stroke="#005C00" stroke-width="2.1"/><circle cx="1283.24" cy="1624.24" r="3.1" fill="none" stroke="#005C00" stroke-width="2.1"/><circle cx="1293.55" cy="1625.9" r="3.1" fill="none" stroke="#005C00" stroke-width="2.1"/><circle cx="1303.19" cy="1625.24" r="3.1" fill="none" stroke="#005C00" stroke-width="2.1"/><circle cx="1309.18" cy="1625.24" r="3.1" fill="none" stroke="#005C00" stroke-width="2.1"/><circle cx="1413.9" cy="1506.22" r="3.9" fill="none" stroke="#9E661C" stroke-width="2.4"/><circle cx="1413.9" cy="1523.84" r="3.9" fill="none" stroke="#9E661C" stroke-width="2.4"/><circle cx="1404.59" cy="1575.04" r="3.9" fill="none" stroke="#9E661C" stroke-width="2.4"/><circle cx="1422.87" cy="1578.7" r="3.9" fill="none" stroke="#9E661C" stroke-width="2.4"/><circle cx="1413.9" cy="1582.02" r="3.9" fill="none" stroke="#9E661C" stroke-width="2.4"/><circle cx="1395.61" cy="1595.32" r="3.9" fill="none" stroke="#9E661C" stroke-width="2.4"/><circle cx="1413.9" cy="1594.32" r="3.9" fill="none" stroke="#9E661C" stroke-width="2.4"/><circle cx="1422.87" cy="1596.98" r="3.9" fill="none" stroke="#9E661C" stroke-width="2.4"/><circle cx="1404.59" cy="1603.63" r="3.9" fill="none" stroke="#9E661C" stroke-width="2.4"/><circle cx="1413.9" cy="1602.63" r="3.9" fill="none" stroke="#9E661C" stroke-width="2.4"/><circle cx="1432.18" cy="1603.63" r="3.9" fill="none" stroke="#9E661C" stroke-width="2.4"/><circle cx="1422.87" cy="1607.62" r="3.9" fill="none" stroke="#9E661C" stroke-width="2.4"/><circle cx="1395.61" cy="1611.94" r="3.9" fill="none" stroke="#9E661C" stroke-width="2.4"/><circle cx="1404.59" cy="1609.28" r="3.9" fill="none" stroke="#9E661C" stroke-width="2.4"/><circle cx="1442.15" cy="1610.94" r="3.9" fill="none" stroke="#9E661C" stroke-width="2.4"/><circle cx="1450.47" cy="1613.6" r="3.9" fill="none" stroke="#9E661C" stroke-width="2.4"/><circle cx="1386.3" cy="1617.59" r="3.9" fill="none" stroke="#9E661C" stroke-width="2.4"/><circle cx="1395.61" cy="1619.26" r="3.9" fill="none" stroke="#9E661C" stroke-width="2.4"/><circle cx="1404.59" cy="1618.26" r="3.9" fill="none" stroke="#9E661C" stroke-width="2.4"/><circle cx="1422.87" cy="1619.26" r="3.9" fill="none" stroke="#9E661C" stroke-width="2.4"/><circle cx="1442.15" cy="1619.26" r="3.9" fill="none" stroke="#9E661C" stroke-width="2.4"/><circle cx="1376.66" cy="1621.91" r="3.9" fill="none" stroke="#9E661C" stroke-width="2.4"/><circle cx="1413.9" cy="1624.24" r="3.9" fill="none" stroke="#9E661C" stroke-width="2.4"/><circle cx="1432.18" cy="1623.24" r="3.9" fill="none" stroke="#9E661C" stroke-width="2.4"/><circle cx="1450.47" cy="1624.24" r="3.9" fill="none" stroke="#9E661C" stroke-width="2.4"/><line x1="1168.6" y1="1561.1" x2="1168.6" y2="1642.5" stroke="#000" stroke-width="1.4" /><line x1="1158.6" y1="1561.1" x2="1178.6" y2="1561.1" stroke="#000" stroke-width="1.4" /><line x1="1158.6" y1="1642.5" x2="1178.6" y2="1642.5" stroke="#000" stroke-width="1.4" /><line x1="1148.6" y1="1601.6" x2="1188.6" y2="1601.6" stroke="#000" stroke-width="2.6" /><line x1="1291.6" y1="1559" x2="1291.6" y2="1635.9" stroke="#000" stroke-width="1.4" /><line x1="1281.6" y1="1559" x2="1301.6" y2="1559" stroke="#000" stroke-width="1.4" /><line x1="1281.6" y1="1635.9" x2="1301.6" y2="1635.9" stroke="#000" stroke-width="1.4" /><line x1="1271.6" y1="1597.6" x2="1311.6" y2="1597.6" stroke="#000" stroke-width="2.6" /><line x1="1413.9" y1="1570" x2="1413.9" y2="1630.9" stroke="#000" stroke-width="1.4" /><line x1="1403.9" y1="1570" x2="1423.9" y2="1570" stroke="#000" stroke-width="1.4" /><line x1="1403.9" y1="1630.9" x2="1423.9" y2="1630.9" stroke="#000" stroke-width="1.4" /><line x1="1393.9" y1="1600" x2="1433.9" y2="1600" stroke="#000" stroke-width="2.6" /><line x1="1167.2" y1="1404.8" x2="1413.2" y2="1404.8" stroke="#000" stroke-width="1.3" /><text x="1290.2" y="1394" font-size="18.5" font-weight="normal" text-anchor="middle" fill="#000" >ns</text><line x1="1167.2" y1="1435.4" x2="1290.9" y2="1435.4" stroke="#000" stroke-width="1.3" /><text x="1229.4" y="1424.5" font-size="18.5" font-weight="normal" text-anchor="middle" fill="#000" >ns</text><line x1="1290.9" y1="1449" x2="1414.6" y2="1449" stroke="#000" stroke-width="1.3" /><text x="1352.4" y="1438.5" font-size="18.5" font-weight="normal" text-anchor="middle" fill="#000" >ns</text><text x="0" y="0" font-size="21.1" font-weight="bold" text-anchor="middle" dominant-baseline="central" transform="translate(1043.7,1530.6) rotate(-90)">TNF-α<tspan dy="-9" font-size="15">+</tspan><tspan dy="9"> mCD4<tspan dy="-9" font-size="15">+</tspan><tspan dy="9"> T (%)</tspan></tspan></text><text x="0" y="0" font-size="18.5" font-weight="bold" text-anchor="end" transform="translate(1176.6,1682.8) rotate(-45)">Infection-only</text><text x="0" y="0" font-size="18.5" font-weight="bold" text-anchor="end" transform="translate(1299.6,1682.8) rotate(-45)">1 ~ 6 MPV</text><text x="0" y="0" font-size="18.5" font-weight="bold" text-anchor="end" transform="translate(1421.9,1682.8) rotate(-45)">7 ~ 12 MPV</text>
</svg></body></html>
